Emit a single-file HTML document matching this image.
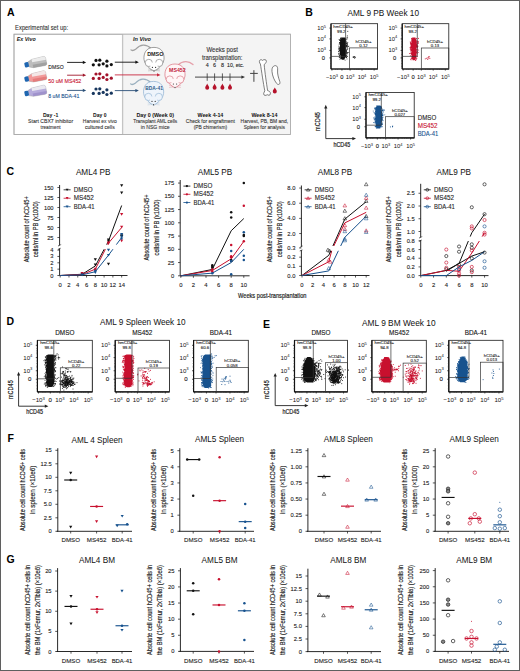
<!DOCTYPE html>
<html><head><meta charset="utf-8"><title>Figure</title>
<style>html,body{margin:0;padding:0;background:#fff;}body{width:520px;height:671px;overflow:hidden;font-family:"Liberation Sans",sans-serif;}svg{display:block;}</style>
</head><body>
<svg width="520" height="671" viewBox="0 0 520 671" font-family="&quot;Liberation Sans&quot;, sans-serif"><text x="7.00" y="15.60" font-size="10.5" fill="#000" font-weight="bold">A</text>
<text x="15.10" y="30.10" font-size="6.3" fill="#333" stroke="#333" stroke-width="0.1" textLength="53" lengthAdjust="spacingAndGlyphs">Experimental set up:</text>
<rect x="14.00" y="34.20" width="276.50" height="100.20" fill="#ffffff" stroke="#b4b4b4" stroke-width="0.8"/>
<rect x="122.60" y="34.20" width="167.90" height="100.20" fill="#f4f4f4" stroke="none" stroke-width="0"/>
<line x1="122.60" y1="34.20" x2="122.60" y2="134.40" stroke="#c4c4c4" stroke-width="1.3"/>
<rect x="14.00" y="34.20" width="276.50" height="100.20" fill="none" stroke="#a8a8a8" stroke-width="0.8"/>
<text x="16.70" y="40.90" font-size="5.8" fill="#222" font-weight="bold" font-style="italic" textLength="19" lengthAdjust="spacingAndGlyphs">Ex Vivo</text>
<text x="133.00" y="40.50" font-size="5.8" fill="#222" font-weight="bold" font-style="italic" textLength="18" lengthAdjust="spacingAndGlyphs">In Vivo</text>
<g transform="translate(24.60,65.20) rotate(-12)"><path d="M4,-2.6 L8,-4.2 L20,-4.6 Q22,-4.6 22,-2.6 L22,2.8 Q22,4.6 20,4.6 L8,4.2 L4,2.6 Z" fill="#bdbdbd" stroke="#9a9a9a" stroke-width="0.4"/><path d="M8,-4.2 L20,-4.6 Q22,-4.6 22,-2.6 L22,-0.8 L8,-1.2 Z" fill="#f4f4f4" opacity="0.85"/><path d="M8,1.2 L22,1.6 L22,2.8 Q22,4.6 20,4.6 L8,4.2 Z" fill="#9a9a9a" opacity="0.8"/><rect x="0" y="-2.6" width="4.2" height="5.2" rx="1.2" fill="#1f66b0"/></g>
<g transform="translate(24.60,79.50) rotate(-12)"><path d="M4,-2.6 L8,-4.2 L20,-4.6 Q22,-4.6 22,-2.6 L22,2.8 Q22,4.6 20,4.6 L8,4.2 L4,2.6 Z" fill="#f29a9a" stroke="#9a9a9a" stroke-width="0.4"/><path d="M8,-4.2 L20,-4.6 Q22,-4.6 22,-2.6 L22,-0.8 L8,-1.2 Z" fill="#f4f4f4" opacity="0.85"/><path d="M8,1.2 L22,1.6 L22,2.8 Q22,4.6 20,4.6 L8,4.2 Z" fill="#e27474" opacity="0.8"/><rect x="0" y="-2.6" width="4.2" height="5.2" rx="1.2" fill="#1f66b0"/></g>
<g transform="translate(24.60,93.90) rotate(-12)"><path d="M4,-2.6 L8,-4.2 L20,-4.6 Q22,-4.6 22,-2.6 L22,2.8 Q22,4.6 20,4.6 L8,4.2 L4,2.6 Z" fill="#b6acdc" stroke="#9a9a9a" stroke-width="0.4"/><path d="M8,-4.2 L20,-4.6 Q22,-4.6 22,-2.6 L22,-0.8 L8,-1.2 Z" fill="#f4f4f4" opacity="0.85"/><path d="M8,1.2 L22,1.6 L22,2.8 Q22,4.6 20,4.6 L8,4.2 Z" fill="#9a8cc8" opacity="0.8"/><rect x="0" y="-2.6" width="4.2" height="5.2" rx="1.2" fill="#1f66b0"/></g>
<text x="48.30" y="69.20" font-size="5.6" fill="#222" stroke="#222" stroke-width="0.1" textLength="15.4" lengthAdjust="spacingAndGlyphs">DMSO</text>
<text x="48.30" y="82.90" font-size="5.6" fill="#c8102e" stroke="#c8102e" stroke-width="0.1" textLength="33" lengthAdjust="spacingAndGlyphs">50 uM MS452</text>
<text x="48.30" y="98.20" font-size="5.6" fill="#17528e" stroke="#17528e" stroke-width="0.1" textLength="31" lengthAdjust="spacingAndGlyphs">8 uM BDA-41</text>
<line x1="67.10" y1="62.40" x2="83.60" y2="62.40" stroke="#111" stroke-width="0.9"/>
<path d="M86.20,62.40 L82.80,60.80 L82.80,64.00 Z" fill="#111"/>
<line x1="67.10" y1="75.20" x2="83.60" y2="75.20" stroke="#a0182c" stroke-width="0.9"/>
<path d="M86.20,75.20 L82.80,73.60 L82.80,76.80 Z" fill="#a0182c"/>
<line x1="67.10" y1="90.40" x2="83.60" y2="90.40" stroke="#2a4f78" stroke-width="0.9"/>
<path d="M86.20,90.40 L82.80,88.80 L82.80,92.00 Z" fill="#2a4f78"/>
<circle cx="96.00" cy="60.40" r="1.6" fill="#111" stroke="none" stroke-width="0.6"/>
<circle cx="99.80" cy="60.20" r="1.6" fill="#111" stroke="none" stroke-width="0.6"/>
<circle cx="106.90" cy="61.20" r="1.6" fill="#111" stroke="none" stroke-width="0.6"/>
<circle cx="93.30" cy="64.80" r="1.6" fill="#111" stroke="none" stroke-width="0.6"/>
<circle cx="99.10" cy="64.80" r="1.6" fill="#111" stroke="none" stroke-width="0.6"/>
<circle cx="103.20" cy="63.80" r="1.6" fill="#111" stroke="none" stroke-width="0.6"/>
<circle cx="106.90" cy="65.90" r="1.6" fill="#111" stroke="none" stroke-width="0.6"/>
<circle cx="111.30" cy="64.60" r="1.6" fill="#111" stroke="none" stroke-width="0.6"/>
<circle cx="96.00" cy="74.00" r="1.6" fill="#a3122a" stroke="none" stroke-width="0.6"/>
<circle cx="99.80" cy="73.80" r="1.6" fill="#a3122a" stroke="none" stroke-width="0.6"/>
<circle cx="106.90" cy="74.80" r="1.6" fill="#a3122a" stroke="none" stroke-width="0.6"/>
<circle cx="93.30" cy="78.40" r="1.6" fill="#a3122a" stroke="none" stroke-width="0.6"/>
<circle cx="99.10" cy="78.40" r="1.6" fill="#a3122a" stroke="none" stroke-width="0.6"/>
<circle cx="103.20" cy="77.40" r="1.6" fill="#a3122a" stroke="none" stroke-width="0.6"/>
<circle cx="106.90" cy="79.50" r="1.6" fill="#a3122a" stroke="none" stroke-width="0.6"/>
<circle cx="111.30" cy="78.20" r="1.6" fill="#a3122a" stroke="none" stroke-width="0.6"/>
<circle cx="96.00" cy="89.00" r="1.6" fill="#17365e" stroke="none" stroke-width="0.6"/>
<circle cx="99.80" cy="88.80" r="1.6" fill="#17365e" stroke="none" stroke-width="0.6"/>
<circle cx="106.90" cy="89.80" r="1.6" fill="#17365e" stroke="none" stroke-width="0.6"/>
<circle cx="93.30" cy="93.40" r="1.6" fill="#17365e" stroke="none" stroke-width="0.6"/>
<circle cx="99.10" cy="93.40" r="1.6" fill="#17365e" stroke="none" stroke-width="0.6"/>
<circle cx="103.20" cy="92.40" r="1.6" fill="#17365e" stroke="none" stroke-width="0.6"/>
<circle cx="106.90" cy="94.50" r="1.6" fill="#17365e" stroke="none" stroke-width="0.6"/>
<circle cx="111.30" cy="93.20" r="1.6" fill="#17365e" stroke="none" stroke-width="0.6"/>
<line x1="114.80" y1="62.20" x2="136.20" y2="62.20" stroke="#111" stroke-width="0.9"/>
<path d="M138.80,62.20 L135.40,60.60 L135.40,63.80 Z" fill="#111"/>
<line x1="114.80" y1="74.90" x2="158.00" y2="74.90" stroke="#c8283e" stroke-width="0.9"/>
<path d="M160.5,74.9 L157,73.3 L157,76.5 Z" fill="#c8283e"/>
<line x1="114.80" y1="90.60" x2="136.20" y2="90.60" stroke="#2a4f78" stroke-width="0.9"/>
<path d="M138.80,90.60 L135.40,89.00 L135.40,92.20 Z" fill="#2a4f78"/>
<path d="M151.00,48.40 C146.00,43.40 140.00,44.40 136.00,48.90 C134.00,50.40 132.00,50.90 131.00,49.90" fill="none" stroke="#a0a0a0" stroke-width="1.3" stroke-linecap="round"/>
<path d="M154.00,47.40 C162.00,47.40 164.50,53.40 164.00,59.40 C163.50,63.40 161.00,66.40 157.00,69.40 L154.00,71.40 L151.00,69.40 C147.00,66.40 144.50,63.40 144.00,59.40 C143.50,53.40 146.00,47.40 154.00,47.40 Z" fill="#ffffff" stroke="#777" stroke-width="0.7"/>
<circle cx="148.80" cy="62.90" r="3.6" fill="#ffffff" stroke="#777" stroke-width="0.6"/>
<circle cx="159.20" cy="62.90" r="3.6" fill="#ffffff" stroke="#777" stroke-width="0.6"/>
<path d="M150.00,62.40 C150.00,67.40 152.00,70.40 154.00,71.40 C156.00,70.40 158.00,67.40 158.00,62.40 Z" fill="#ffffff" stroke="none"/>
<circle cx="152.40" cy="67.40" r="0.6" fill="#333"/><circle cx="155.60" cy="67.40" r="0.6" fill="#333"/>
<circle cx="154.00" cy="70.80" r="0.7" fill="#444"/>
<path d="M153.00,69.90 L148.00,68.90 M153.00,70.40 L148.00,70.90 M155.00,69.90 L160.00,68.90 M155.00,70.40 L160.00,70.90" stroke="#777" stroke-width="0.3" fill="none"/>
<text x="155.30" y="55.70" font-size="5.8" fill="#222" text-anchor="middle" font-weight="bold" textLength="16.3" lengthAdjust="spacingAndGlyphs">DMSO</text>
<path d="M178.00,65.00 C183.00,60.00 189.00,61.00 193.00,64.50" fill="none" stroke="#e5a0aa" stroke-width="1.3" stroke-linecap="round"/>
<path d="M175.00,64.00 C183.00,64.00 185.50,70.00 185.00,76.00 C184.50,80.00 182.00,83.00 178.00,86.00 L175.00,88.00 L172.00,86.00 C168.00,83.00 165.50,80.00 165.00,76.00 C164.50,70.00 167.00,64.00 175.00,64.00 Z" fill="#fff6f7" stroke="#d9707e" stroke-width="0.7"/>
<circle cx="169.80" cy="79.50" r="3.6" fill="#fff6f7" stroke="#d9707e" stroke-width="0.6"/>
<circle cx="180.20" cy="79.50" r="3.6" fill="#fff6f7" stroke="#d9707e" stroke-width="0.6"/>
<path d="M171.00,79.00 C171.00,84.00 173.00,87.00 175.00,88.00 C177.00,87.00 179.00,84.00 179.00,79.00 Z" fill="#fff6f7" stroke="none"/>
<circle cx="173.40" cy="84.00" r="0.6" fill="#333"/><circle cx="176.60" cy="84.00" r="0.6" fill="#333"/>
<circle cx="175.00" cy="87.40" r="0.7" fill="#444"/>
<path d="M174.00,86.50 L169.00,85.50 M174.00,87.00 L169.00,87.50 M176.00,86.50 L181.00,85.50 M176.00,87.00 L181.00,87.50" stroke="#d9707e" stroke-width="0.3" fill="none"/>
<text x="177.40" y="72.30" font-size="5.8" fill="#c0223a" text-anchor="middle" font-weight="bold" textLength="16.6" lengthAdjust="spacingAndGlyphs">MS452</text>
<path d="M150.60,82.40 C145.60,77.40 139.60,78.40 135.60,82.90 C133.60,84.40 131.60,84.90 130.60,83.90" fill="none" stroke="#9ab0bf" stroke-width="1.3" stroke-linecap="round"/>
<path d="M153.60,81.40 C161.60,81.40 164.10,87.40 163.60,93.40 C163.10,97.40 160.60,100.40 156.60,103.40 L153.60,105.40 L150.60,103.40 C146.60,100.40 144.10,97.40 143.60,93.40 C143.10,87.40 145.60,81.40 153.60,81.40 Z" fill="#eef4fb" stroke="#8aaed0" stroke-width="0.7"/>
<circle cx="148.40" cy="96.90" r="3.6" fill="#eef4fb" stroke="#8aaed0" stroke-width="0.6"/>
<circle cx="158.80" cy="96.90" r="3.6" fill="#eef4fb" stroke="#8aaed0" stroke-width="0.6"/>
<path d="M149.60,96.40 C149.60,101.40 151.60,104.40 153.60,105.40 C155.60,104.40 157.60,101.40 157.60,96.40 Z" fill="#eef4fb" stroke="none"/>
<circle cx="152.00" cy="101.40" r="0.6" fill="#333"/><circle cx="155.20" cy="101.40" r="0.6" fill="#333"/>
<circle cx="153.60" cy="104.80" r="0.7" fill="#444"/>
<path d="M152.60,103.90 L147.60,102.90 M152.60,104.40 L147.60,104.90 M154.60,103.90 L159.60,102.90 M154.60,104.40 L159.60,104.90" stroke="#8aaed0" stroke-width="0.3" fill="none"/>
<text x="154.10" y="89.70" font-size="5.8" fill="#2a5a8a" text-anchor="middle" font-weight="bold" textLength="17.5" lengthAdjust="spacingAndGlyphs">BDA-41</text>
<text x="222.20" y="51.70" font-size="6.3" fill="#333" stroke="#333" stroke-width="0.1" text-anchor="middle" textLength="31.5" lengthAdjust="spacingAndGlyphs">Weeks post</text>
<text x="222.20" y="59.60" font-size="6.3" fill="#333" stroke="#333" stroke-width="0.1" text-anchor="middle" textLength="40.5" lengthAdjust="spacingAndGlyphs">transplantation:</text>
<text x="207.20" y="66.90" font-size="5.4" fill="#222" stroke="#222" stroke-width="0.1" text-anchor="middle">4</text>
<text x="214.60" y="66.90" font-size="5.4" fill="#222" stroke="#222" stroke-width="0.1" text-anchor="middle">6</text>
<text x="222.40" y="66.90" font-size="5.4" fill="#222" stroke="#222" stroke-width="0.1" text-anchor="middle">8</text>
<text x="235.50" y="66.90" font-size="5.4" fill="#222" stroke="#222" stroke-width="0.1" text-anchor="middle" textLength="17" lengthAdjust="spacingAndGlyphs">10, etc.</text>
<line x1="195.00" y1="77.10" x2="242.00" y2="77.10" stroke="#333" stroke-width="0.9"/>
<path d="M245,77.1 L241.4,75.4 L241.4,78.8 Z" fill="#333"/>
<line x1="207.20" y1="73.40" x2="207.20" y2="80.80" stroke="#333" stroke-width="0.8"/>
<path d="M207.20,83.60 C207.80,85.20 209.20,86.40 209.20,87.80 A2,2 0 0 1 205.20,87.80 C205.20,86.40 206.60,85.20 207.20,83.60 Z" fill="#b5122b"/>
<line x1="214.60" y1="73.40" x2="214.60" y2="80.80" stroke="#333" stroke-width="0.8"/>
<path d="M214.60,83.60 C215.20,85.20 216.60,86.40 216.60,87.80 A2,2 0 0 1 212.60,87.80 C212.60,86.40 214.00,85.20 214.60,83.60 Z" fill="#b5122b"/>
<line x1="222.40" y1="73.40" x2="222.40" y2="80.80" stroke="#333" stroke-width="0.8"/>
<path d="M222.40,83.60 C223.00,85.20 224.40,86.40 224.40,87.80 A2,2 0 0 1 220.40,87.80 C220.40,86.40 221.80,85.20 222.40,83.60 Z" fill="#b5122b"/>
<line x1="230.00" y1="73.40" x2="230.00" y2="80.80" stroke="#333" stroke-width="0.8"/>
<path d="M230.00,83.60 C230.60,85.20 232.00,86.40 232.00,87.80 A2,2 0 0 1 228.00,87.80 C228.00,86.40 229.40,85.20 230.00,83.60 Z" fill="#b5122b"/>
<line x1="253.90" y1="70.20" x2="253.90" y2="81.80" stroke="#444" stroke-width="1.0"/>
<line x1="250.10" y1="73.40" x2="257.80" y2="73.40" stroke="#444" stroke-width="1.0"/>
<path d="M259.4,61.6 C259.2,59.6 261.6,59.2 262.6,60.4 C263.6,59.2 266.6,59.2 266.4,61.4 C266.2,62.8 264.8,63.8 264.2,64.8 C264.8,72 266.6,84 267.6,90.6 C268.8,91 270.6,91.6 270.4,93.8 C270.2,95.8 268,95.4 267.2,94.6 C266.2,95.8 263.6,95.8 263.6,93.8 C263.8,92.4 264.6,91.6 264.8,90.8 C263.4,84 261.4,70 260.4,64 C259.8,63.4 259.4,62.6 259.4,61.6 Z" fill="#ffffff" stroke="#555" stroke-width="0.75"/>
<path d="M273.6,66.2 C276.2,64.6 278,66.4 277.6,70 C277.2,74 278.6,78 279.8,81.6 C280.6,84.4 278.2,85.4 276.6,83.4 C274.4,80.6 272.4,76 272,71.6 C271.8,69 272.2,67.2 273.6,66.2 Z" fill="#ffffff" stroke="#555" stroke-width="0.75"/>
<path d="M274.8,87.6 C275.4,89 276.8,90 276.8,91.4 A2,2 0 0 1 272.8,91.4 C272.8,90 274.2,89 274.8,87.6 Z" fill="#b5122b"/>
<text x="50.60" y="116.50" font-size="6.0" fill="#111" text-anchor="middle" font-weight="bold" textLength="15.3" lengthAdjust="spacingAndGlyphs">Day -1</text>
<text x="50.60" y="122.80" font-size="5.9" fill="#333" stroke="#333" stroke-width="0.1" text-anchor="middle" textLength="45" lengthAdjust="spacingAndGlyphs">Start CBX7 inhibitor</text>
<text x="50.60" y="128.80" font-size="5.9" fill="#333" stroke="#333" stroke-width="0.1" text-anchor="middle" textLength="20" lengthAdjust="spacingAndGlyphs">treatment</text>
<text x="99.80" y="116.50" font-size="6.0" fill="#111" text-anchor="middle" font-weight="bold" textLength="13.4" lengthAdjust="spacingAndGlyphs">Day 0</text>
<text x="99.80" y="122.80" font-size="5.9" fill="#333" stroke="#333" stroke-width="0.1" text-anchor="middle" textLength="34" lengthAdjust="spacingAndGlyphs">Harvest ex vivo</text>
<text x="99.80" y="128.80" font-size="5.9" fill="#333" stroke="#333" stroke-width="0.1" text-anchor="middle" textLength="29.8" lengthAdjust="spacingAndGlyphs">cultured cells</text>
<text x="155.20" y="116.50" font-size="6.0" fill="#111" text-anchor="middle" font-weight="bold" textLength="37.5" lengthAdjust="spacingAndGlyphs">Day 0 (Week 0)</text>
<text x="155.20" y="122.80" font-size="5.9" fill="#333" stroke="#333" stroke-width="0.1" text-anchor="middle" textLength="43.9" lengthAdjust="spacingAndGlyphs">Transplant AML cells</text>
<text x="155.20" y="128.80" font-size="5.9" fill="#333" stroke="#333" stroke-width="0.1" text-anchor="middle" textLength="28.8" lengthAdjust="spacingAndGlyphs">in NSG mice</text>
<text x="210.40" y="116.50" font-size="6.0" fill="#111" text-anchor="middle" font-weight="bold" textLength="25.8" lengthAdjust="spacingAndGlyphs">Week 4-14</text>
<text x="210.40" y="122.80" font-size="5.9" fill="#333" stroke="#333" stroke-width="0.1" text-anchor="middle" textLength="49.2" lengthAdjust="spacingAndGlyphs">Check for engraftment</text>
<text x="210.40" y="128.80" font-size="5.9" fill="#333" stroke="#333" stroke-width="0.1" text-anchor="middle" textLength="33.4" lengthAdjust="spacingAndGlyphs">(PB chimerism)</text>
<text x="264.40" y="116.50" font-size="6.0" fill="#111" text-anchor="middle" font-weight="bold" textLength="26" lengthAdjust="spacingAndGlyphs">Week 8-14</text>
<text x="264.40" y="122.80" font-size="5.9" fill="#333" stroke="#333" stroke-width="0.1" text-anchor="middle" textLength="47.6" lengthAdjust="spacingAndGlyphs">Harvest, PB, BM and,</text>
<text x="264.40" y="128.80" font-size="5.9" fill="#333" stroke="#333" stroke-width="0.1" text-anchor="middle" textLength="41.2" lengthAdjust="spacingAndGlyphs">Spleen for analysis</text>
<text x="305.20" y="15.60" font-size="10.5" fill="#000" font-weight="bold">B</text>
<text x="347.50" y="15.60" font-size="8.2" fill="#111" textLength="71.5" lengthAdjust="spacingAndGlyphs">AML 9 PB Week 10</text>
<rect x="331.00" y="23.70" width="46.60" height="45.30" fill="#ffffff" stroke="#1a1a1a" stroke-width="0.8"/>
<line x1="331.00" y1="23.70" x2="331.00" y2="69.00" stroke="#111" stroke-width="1.2"/>
<line x1="331.00" y1="69.00" x2="377.60" y2="69.00" stroke="#111" stroke-width="1.2"/>
<line x1="329.40" y1="28.09" x2="331.00" y2="28.09" stroke="#111" stroke-width="0.7"/>
<text x="326.00" y="30.09" font-size="5.8" fill="#111" text-anchor="end">10<tspan font-size="3.94" dy="-2.44">5</tspan></text>
<line x1="329.40" y1="38.88" x2="331.00" y2="38.88" stroke="#111" stroke-width="0.7"/>
<text x="326.00" y="40.88" font-size="5.8" fill="#111" text-anchor="end">10<tspan font-size="3.94" dy="-2.44">4</tspan></text>
<line x1="329.40" y1="50.43" x2="331.00" y2="50.43" stroke="#111" stroke-width="0.7"/>
<text x="326.00" y="52.43" font-size="5.8" fill="#111" text-anchor="end">10<tspan font-size="3.94" dy="-2.44">3</tspan></text>
<line x1="329.40" y1="57.90" x2="331.00" y2="57.90" stroke="#111" stroke-width="0.7"/>
<text x="325.00" y="59.90" font-size="5.8" fill="#111" stroke="#111" stroke-width="0.1" text-anchor="end">0</text>
<line x1="330.00" y1="30.95" x2="331.00" y2="30.95" stroke="#333" stroke-width="0.5"/>
<line x1="330.00" y1="32.76" x2="331.00" y2="32.76" stroke="#333" stroke-width="0.5"/>
<line x1="330.00" y1="34.12" x2="331.00" y2="34.12" stroke="#333" stroke-width="0.5"/>
<line x1="330.00" y1="35.48" x2="331.00" y2="35.48" stroke="#333" stroke-width="0.5"/>
<line x1="330.00" y1="41.82" x2="331.00" y2="41.82" stroke="#333" stroke-width="0.5"/>
<line x1="330.00" y1="44.08" x2="331.00" y2="44.08" stroke="#333" stroke-width="0.5"/>
<line x1="330.00" y1="46.35" x2="331.00" y2="46.35" stroke="#333" stroke-width="0.5"/>
<line x1="330.00" y1="47.26" x2="331.00" y2="47.26" stroke="#333" stroke-width="0.5"/>
<line x1="330.00" y1="54.50" x2="331.00" y2="54.50" stroke="#333" stroke-width="0.5"/>
<line x1="330.00" y1="60.85" x2="331.00" y2="60.85" stroke="#333" stroke-width="0.5"/>
<line x1="330.00" y1="63.56" x2="331.00" y2="63.56" stroke="#333" stroke-width="0.5"/>
<line x1="330.00" y1="66.28" x2="331.00" y2="66.28" stroke="#333" stroke-width="0.5"/>
<line x1="331.93" y1="69.00" x2="331.93" y2="70.60" stroke="#111" stroke-width="0.7"/>
<text x="331.93" y="79.30" font-size="5.8" fill="#111" text-anchor="middle">−10<tspan font-size="3.94" dy="-2.44">3</tspan></text>
<line x1="341.95" y1="69.00" x2="341.95" y2="70.60" stroke="#111" stroke-width="0.7"/>
<text x="341.95" y="79.30" font-size="5.8" fill="#111" stroke="#111" stroke-width="0.1" text-anchor="middle">0</text>
<line x1="350.11" y1="69.00" x2="350.11" y2="70.60" stroke="#111" stroke-width="0.7"/>
<text x="350.11" y="79.30" font-size="5.8" fill="#111" text-anchor="middle">10<tspan font-size="3.94" dy="-2.44">3</tspan></text>
<line x1="361.99" y1="69.00" x2="361.99" y2="70.60" stroke="#111" stroke-width="0.7"/>
<text x="361.99" y="79.30" font-size="5.8" fill="#111" text-anchor="middle">10<tspan font-size="3.94" dy="-2.44">4</tspan></text>
<line x1="374.11" y1="69.00" x2="374.11" y2="70.60" stroke="#111" stroke-width="0.7"/>
<text x="374.11" y="79.30" font-size="5.8" fill="#111" text-anchor="middle">10<tspan font-size="3.94" dy="-2.44">5</tspan></text>
<line x1="335.66" y1="69.00" x2="335.66" y2="70.00" stroke="#333" stroke-width="0.5"/>
<line x1="337.52" y1="69.00" x2="337.52" y2="70.00" stroke="#333" stroke-width="0.5"/>
<line x1="344.98" y1="69.00" x2="344.98" y2="70.00" stroke="#333" stroke-width="0.5"/>
<line x1="347.78" y1="69.00" x2="347.78" y2="70.00" stroke="#333" stroke-width="0.5"/>
<line x1="354.30" y1="69.00" x2="354.30" y2="70.00" stroke="#333" stroke-width="0.5"/>
<line x1="356.63" y1="69.00" x2="356.63" y2="70.00" stroke="#333" stroke-width="0.5"/>
<line x1="358.03" y1="69.00" x2="358.03" y2="70.00" stroke="#333" stroke-width="0.5"/>
<line x1="358.96" y1="69.00" x2="358.96" y2="70.00" stroke="#333" stroke-width="0.5"/>
<line x1="365.95" y1="69.00" x2="365.95" y2="70.00" stroke="#333" stroke-width="0.5"/>
<line x1="368.28" y1="69.00" x2="368.28" y2="70.00" stroke="#333" stroke-width="0.5"/>
<line x1="370.14" y1="69.00" x2="370.14" y2="70.00" stroke="#333" stroke-width="0.5"/>
<line x1="371.54" y1="69.00" x2="371.54" y2="70.00" stroke="#333" stroke-width="0.5"/>
<path d="M341.66,37.50 L341.37,38.51 L340.41,39.53 L339.94,40.54 L340.17,41.55 L339.51,42.57 L339.34,43.58 L339.78,44.60 L340.06,45.61 L339.78,46.62 L339.35,47.64 L339.70,48.65 L339.41,49.66 L339.28,50.68 L339.66,51.69 L339.75,52.70 L339.84,53.72 L339.96,54.73 L340.60,55.75 L340.62,56.76 L340.39,57.77 L340.94,58.79 L341.94,59.80 L344.39,59.80 L344.60,58.79 L345.35,57.77 L346.14,56.76 L346.65,55.75 L346.05,54.73 L346.66,53.72 L346.75,52.70 L346.98,51.69 L346.56,50.68 L346.32,49.66 L346.12,48.65 L346.07,47.64 L346.73,46.62 L347.11,45.61 L346.10,44.60 L346.85,43.58 L346.15,42.57 L346.55,41.55 L346.09,40.54 L346.03,39.53 L345.41,38.51 L344.92,37.50 Z" fill="#111111"/>
<rect x="347.88" y="46.12" width="0.8" height="0.8" fill="#111111"/>
<rect x="339.08" y="42.26" width="0.8" height="0.8" fill="#111111"/>
<rect x="338.36" y="47.98" width="0.8" height="0.8" fill="#111111"/>
<rect x="339.18" y="50.13" width="0.8" height="0.8" fill="#111111"/>
<rect x="339.57" y="54.86" width="0.8" height="0.8" fill="#111111"/>
<rect x="345.03" y="37.84" width="0.8" height="0.8" fill="#111111"/>
<rect x="346.46" y="54.40" width="0.8" height="0.8" fill="#111111"/>
<rect x="340.67" y="37.74" width="0.8" height="0.8" fill="#111111"/>
<rect x="346.30" y="55.27" width="0.8" height="0.8" fill="#111111"/>
<rect x="347.24" y="48.85" width="0.8" height="0.8" fill="#111111"/>
<rect x="338.57" y="46.85" width="0.8" height="0.8" fill="#111111"/>
<rect x="340.69" y="37.51" width="0.8" height="0.8" fill="#111111"/>
<rect x="344.70" y="59.75" width="0.8" height="0.8" fill="#111111"/>
<rect x="340.57" y="38.44" width="0.8" height="0.8" fill="#111111"/>
<rect x="339.45" y="42.26" width="0.8" height="0.8" fill="#111111"/>
<rect x="347.20" y="56.02" width="0.8" height="0.8" fill="#111111"/>
<rect x="346.42" y="39.14" width="0.8" height="0.8" fill="#111111"/>
<rect x="340.42" y="37.85" width="0.8" height="0.8" fill="#111111"/>
<rect x="348.38" y="45.79" width="0.8" height="0.8" fill="#111111"/>
<rect x="346.30" y="56.06" width="0.8" height="0.8" fill="#111111"/>
<rect x="339.71" y="56.82" width="0.8" height="0.8" fill="#111111"/>
<rect x="339.28" y="55.74" width="0.8" height="0.8" fill="#111111"/>
<rect x="338.74" y="53.68" width="0.8" height="0.8" fill="#111111"/>
<rect x="338.27" y="52.82" width="0.8" height="0.8" fill="#111111"/>
<rect x="346.18" y="57.17" width="0.8" height="0.8" fill="#111111"/>
<rect x="339.36" y="39.93" width="0.8" height="0.8" fill="#111111"/>
<rect x="346.20" y="42.82" width="0.8" height="0.8" fill="#111111"/>
<rect x="346.84" y="44.04" width="0.8" height="0.8" fill="#111111"/>
<rect x="339.95" y="58.22" width="0.8" height="0.8" fill="#111111"/>
<rect x="346.27" y="49.97" width="0.8" height="0.8" fill="#111111"/>
<rect x="338.75" y="43.75" width="0.8" height="0.8" fill="#111111"/>
<rect x="339.91" y="39.04" width="0.8" height="0.8" fill="#111111"/>
<rect x="346.72" y="47.44" width="0.8" height="0.8" fill="#111111"/>
<rect x="346.41" y="49.34" width="0.8" height="0.8" fill="#111111"/>
<rect x="339.36" y="39.56" width="0.8" height="0.8" fill="#111111"/>
<rect x="346.95" y="52.15" width="0.8" height="0.8" fill="#111111"/>
<rect x="338.40" y="50.65" width="0.8" height="0.8" fill="#111111"/>
<rect x="346.67" y="53.13" width="0.8" height="0.8" fill="#111111"/>
<rect x="340.29" y="37.97" width="0.8" height="0.8" fill="#111111"/>
<rect x="346.98" y="44.61" width="0.8" height="0.8" fill="#111111"/>
<rect x="338.70" y="39.18" width="0.8" height="0.8" fill="#111111"/>
<rect x="339.25" y="55.19" width="0.8" height="0.8" fill="#111111"/>
<rect x="346.97" y="45.35" width="0.8" height="0.8" fill="#111111"/>
<rect x="346.58" y="58.56" width="0.8" height="0.8" fill="#111111"/>
<rect x="338.78" y="56.76" width="0.8" height="0.8" fill="#111111"/>
<rect x="346.76" y="45.96" width="0.8" height="0.8" fill="#111111"/>
<rect x="338.18" y="51.08" width="0.8" height="0.8" fill="#111111"/>
<rect x="346.07" y="57.12" width="0.8" height="0.8" fill="#111111"/>
<rect x="346.31" y="46.16" width="0.8" height="0.8" fill="#111111"/>
<rect x="347.38" y="47.82" width="0.8" height="0.8" fill="#111111"/>
<rect x="338.50" y="49.07" width="0.8" height="0.8" fill="#111111"/>
<rect x="339.19" y="48.23" width="0.8" height="0.8" fill="#111111"/>
<rect x="339.57" y="58.85" width="0.8" height="0.8" fill="#111111"/>
<rect x="347.08" y="43.21" width="0.8" height="0.8" fill="#111111"/>
<rect x="338.45" y="45.71" width="0.8" height="0.8" fill="#111111"/>
<rect x="338.56" y="54.31" width="0.8" height="0.8" fill="#111111"/>
<rect x="347.97" y="52.22" width="0.8" height="0.8" fill="#111111"/>
<rect x="346.88" y="46.53" width="0.8" height="0.8" fill="#111111"/>
<rect x="347.36" y="41.93" width="0.8" height="0.8" fill="#111111"/>
<rect x="339.29" y="57.13" width="0.8" height="0.8" fill="#111111"/>
<rect x="346.49" y="42.40" width="0.8" height="0.8" fill="#111111"/>
<rect x="338.97" y="48.57" width="0.8" height="0.8" fill="#111111"/>
<rect x="338.69" y="53.36" width="0.8" height="0.8" fill="#111111"/>
<rect x="339.69" y="40.02" width="0.8" height="0.8" fill="#111111"/>
<rect x="346.33" y="43.64" width="0.8" height="0.8" fill="#111111"/>
<rect x="347.11" y="52.49" width="0.8" height="0.8" fill="#111111"/>
<rect x="353.85" y="56.07" width="0.9" height="0.9" fill="#111111"/>
<rect x="353.50" y="56.83" width="0.9" height="0.9" fill="#111111"/>
<rect x="355.11" y="56.77" width="0.9" height="0.9" fill="#111111"/>
<rect x="352.62" y="56.63" width="0.9" height="0.9" fill="#111111"/>
<rect x="354.21" y="57.75" width="0.9" height="0.9" fill="#111111"/>
<rect x="353.28" y="56.58" width="0.9" height="0.9" fill="#111111"/>
<rect x="353.47" y="56.73" width="0.9" height="0.9" fill="#111111"/>
<rect x="347.13" y="37.39" width="0.9" height="0.9" fill="#111111"/>
<rect x="346.32" y="37.59" width="0.9" height="0.9" fill="#111111"/>
<rect x="347.33" y="30.87" width="0.9" height="0.9" fill="#111111"/>
<rect x="346.86" y="35.48" width="0.9" height="0.9" fill="#111111"/>
<line x1="331.00" y1="56.40" x2="345.60" y2="56.40" stroke="#333" stroke-width="0.7"/>
<line x1="345.60" y1="23.70" x2="345.60" y2="56.40" stroke="#333" stroke-width="0.7"/>
<rect x="349.40" y="47.90" width="28.20" height="21.10" fill="none" stroke="#333" stroke-width="0.7"/>
<text x="333.33" y="27.70" font-size="4.3" fill="#222" stroke="#222" stroke-width="0.1">hmCD45+</text>
<text x="341.30" y="32.70" font-size="4.3" fill="#222" stroke="#222" stroke-width="0.1" text-anchor="middle">99.2</text>
<text x="363.50" y="42.70" font-size="4.3" fill="#222" stroke="#222" stroke-width="0.1" text-anchor="middle">hCD45+</text>
<text x="363.50" y="46.90" font-size="4.3" fill="#222" stroke="#222" stroke-width="0.1" text-anchor="middle">0.12</text>
<rect x="402.20" y="23.70" width="46.60" height="45.30" fill="#ffffff" stroke="#1a1a1a" stroke-width="0.8"/>
<line x1="402.20" y1="23.70" x2="402.20" y2="69.00" stroke="#111" stroke-width="1.2"/>
<line x1="402.20" y1="69.00" x2="448.80" y2="69.00" stroke="#111" stroke-width="1.2"/>
<line x1="400.60" y1="28.09" x2="402.20" y2="28.09" stroke="#111" stroke-width="0.7"/>
<text x="397.20" y="30.09" font-size="5.8" fill="#111" text-anchor="end">10<tspan font-size="3.94" dy="-2.44">5</tspan></text>
<line x1="400.60" y1="38.88" x2="402.20" y2="38.88" stroke="#111" stroke-width="0.7"/>
<text x="397.20" y="40.88" font-size="5.8" fill="#111" text-anchor="end">10<tspan font-size="3.94" dy="-2.44">4</tspan></text>
<line x1="400.60" y1="50.43" x2="402.20" y2="50.43" stroke="#111" stroke-width="0.7"/>
<text x="397.20" y="52.43" font-size="5.8" fill="#111" text-anchor="end">10<tspan font-size="3.94" dy="-2.44">3</tspan></text>
<line x1="400.60" y1="57.90" x2="402.20" y2="57.90" stroke="#111" stroke-width="0.7"/>
<text x="396.20" y="59.90" font-size="5.8" fill="#111" stroke="#111" stroke-width="0.1" text-anchor="end">0</text>
<line x1="401.20" y1="30.95" x2="402.20" y2="30.95" stroke="#333" stroke-width="0.5"/>
<line x1="401.20" y1="32.76" x2="402.20" y2="32.76" stroke="#333" stroke-width="0.5"/>
<line x1="401.20" y1="34.12" x2="402.20" y2="34.12" stroke="#333" stroke-width="0.5"/>
<line x1="401.20" y1="35.48" x2="402.20" y2="35.48" stroke="#333" stroke-width="0.5"/>
<line x1="401.20" y1="41.82" x2="402.20" y2="41.82" stroke="#333" stroke-width="0.5"/>
<line x1="401.20" y1="44.08" x2="402.20" y2="44.08" stroke="#333" stroke-width="0.5"/>
<line x1="401.20" y1="46.35" x2="402.20" y2="46.35" stroke="#333" stroke-width="0.5"/>
<line x1="401.20" y1="47.26" x2="402.20" y2="47.26" stroke="#333" stroke-width="0.5"/>
<line x1="401.20" y1="54.50" x2="402.20" y2="54.50" stroke="#333" stroke-width="0.5"/>
<line x1="401.20" y1="60.85" x2="402.20" y2="60.85" stroke="#333" stroke-width="0.5"/>
<line x1="401.20" y1="63.56" x2="402.20" y2="63.56" stroke="#333" stroke-width="0.5"/>
<line x1="401.20" y1="66.28" x2="402.20" y2="66.28" stroke="#333" stroke-width="0.5"/>
<line x1="403.13" y1="69.00" x2="403.13" y2="70.60" stroke="#111" stroke-width="0.7"/>
<text x="403.13" y="79.30" font-size="5.8" fill="#111" text-anchor="middle">−10<tspan font-size="3.94" dy="-2.44">3</tspan></text>
<line x1="413.15" y1="69.00" x2="413.15" y2="70.60" stroke="#111" stroke-width="0.7"/>
<text x="413.15" y="79.30" font-size="5.8" fill="#111" stroke="#111" stroke-width="0.1" text-anchor="middle">0</text>
<line x1="421.31" y1="69.00" x2="421.31" y2="70.60" stroke="#111" stroke-width="0.7"/>
<text x="421.31" y="79.30" font-size="5.8" fill="#111" text-anchor="middle">10<tspan font-size="3.94" dy="-2.44">3</tspan></text>
<line x1="433.19" y1="69.00" x2="433.19" y2="70.60" stroke="#111" stroke-width="0.7"/>
<text x="433.19" y="79.30" font-size="5.8" fill="#111" text-anchor="middle">10<tspan font-size="3.94" dy="-2.44">4</tspan></text>
<line x1="445.31" y1="69.00" x2="445.31" y2="70.60" stroke="#111" stroke-width="0.7"/>
<text x="445.31" y="79.30" font-size="5.8" fill="#111" text-anchor="middle">10<tspan font-size="3.94" dy="-2.44">5</tspan></text>
<line x1="406.86" y1="69.00" x2="406.86" y2="70.00" stroke="#333" stroke-width="0.5"/>
<line x1="408.72" y1="69.00" x2="408.72" y2="70.00" stroke="#333" stroke-width="0.5"/>
<line x1="416.18" y1="69.00" x2="416.18" y2="70.00" stroke="#333" stroke-width="0.5"/>
<line x1="418.98" y1="69.00" x2="418.98" y2="70.00" stroke="#333" stroke-width="0.5"/>
<line x1="425.50" y1="69.00" x2="425.50" y2="70.00" stroke="#333" stroke-width="0.5"/>
<line x1="427.83" y1="69.00" x2="427.83" y2="70.00" stroke="#333" stroke-width="0.5"/>
<line x1="429.23" y1="69.00" x2="429.23" y2="70.00" stroke="#333" stroke-width="0.5"/>
<line x1="430.16" y1="69.00" x2="430.16" y2="70.00" stroke="#333" stroke-width="0.5"/>
<line x1="437.15" y1="69.00" x2="437.15" y2="70.00" stroke="#333" stroke-width="0.5"/>
<line x1="439.48" y1="69.00" x2="439.48" y2="70.00" stroke="#333" stroke-width="0.5"/>
<line x1="441.34" y1="69.00" x2="441.34" y2="70.00" stroke="#333" stroke-width="0.5"/>
<line x1="442.74" y1="69.00" x2="442.74" y2="70.00" stroke="#333" stroke-width="0.5"/>
<path d="M412.72,37.50 L412.30,38.53 L411.22,39.56 L411.31,40.60 L411.55,41.63 L411.28,42.66 L410.77,43.69 L410.70,44.72 L410.62,45.75 L410.65,46.79 L410.90,47.82 L411.37,48.85 L410.68,49.88 L411.09,50.91 L411.54,51.95 L410.76,52.98 L410.87,54.01 L411.44,55.04 L411.64,56.07 L411.29,57.10 L411.70,58.14 L412.35,59.17 L412.64,60.20 L414.54,60.20 L415.51,59.17 L415.92,58.14 L416.58,57.10 L415.90,56.07 L416.18,55.04 L416.50,54.01 L416.72,52.98 L417.29,51.95 L416.35,50.91 L417.26,49.88 L416.27,48.85 L416.70,47.82 L417.01,46.79 L417.15,45.75 L417.25,44.72 L416.66,43.69 L416.79,42.66 L416.60,41.63 L416.71,40.60 L416.11,39.56 L415.45,38.53 L415.52,37.50 Z" fill="#c8102e"/>
<rect x="410.69" y="59.46" width="0.8" height="0.8" fill="#c8102e"/>
<rect x="415.47" y="58.86" width="0.8" height="0.8" fill="#c8102e"/>
<rect x="416.90" y="52.79" width="0.8" height="0.8" fill="#c8102e"/>
<rect x="416.83" y="45.93" width="0.8" height="0.8" fill="#c8102e"/>
<rect x="411.55" y="38.14" width="0.8" height="0.8" fill="#c8102e"/>
<rect x="409.99" y="42.54" width="0.8" height="0.8" fill="#c8102e"/>
<rect x="415.77" y="38.49" width="0.8" height="0.8" fill="#c8102e"/>
<rect x="409.81" y="41.54" width="0.8" height="0.8" fill="#c8102e"/>
<rect x="415.49" y="38.34" width="0.8" height="0.8" fill="#c8102e"/>
<rect x="409.85" y="49.17" width="0.8" height="0.8" fill="#c8102e"/>
<rect x="416.36" y="42.24" width="0.8" height="0.8" fill="#c8102e"/>
<rect x="417.24" y="42.95" width="0.8" height="0.8" fill="#c8102e"/>
<rect x="410.10" y="48.05" width="0.8" height="0.8" fill="#c8102e"/>
<rect x="411.25" y="58.20" width="0.8" height="0.8" fill="#c8102e"/>
<rect x="410.40" y="59.01" width="0.8" height="0.8" fill="#c8102e"/>
<rect x="409.97" y="42.98" width="0.8" height="0.8" fill="#c8102e"/>
<rect x="410.65" y="48.88" width="0.8" height="0.8" fill="#c8102e"/>
<rect x="415.12" y="60.17" width="0.8" height="0.8" fill="#c8102e"/>
<rect x="411.33" y="38.04" width="0.8" height="0.8" fill="#c8102e"/>
<rect x="417.82" y="52.01" width="0.8" height="0.8" fill="#c8102e"/>
<rect x="409.92" y="55.30" width="0.8" height="0.8" fill="#c8102e"/>
<rect x="416.32" y="43.46" width="0.8" height="0.8" fill="#c8102e"/>
<rect x="416.12" y="57.80" width="0.8" height="0.8" fill="#c8102e"/>
<rect x="410.03" y="43.82" width="0.8" height="0.8" fill="#c8102e"/>
<rect x="416.55" y="53.50" width="0.8" height="0.8" fill="#c8102e"/>
<rect x="415.98" y="38.15" width="0.8" height="0.8" fill="#c8102e"/>
<rect x="409.44" y="53.26" width="0.8" height="0.8" fill="#c8102e"/>
<rect x="417.36" y="40.64" width="0.8" height="0.8" fill="#c8102e"/>
<rect x="409.50" y="47.38" width="0.8" height="0.8" fill="#c8102e"/>
<rect x="416.34" y="54.76" width="0.8" height="0.8" fill="#c8102e"/>
<rect x="417.17" y="47.29" width="0.8" height="0.8" fill="#c8102e"/>
<rect x="410.18" y="50.67" width="0.8" height="0.8" fill="#c8102e"/>
<rect x="415.44" y="59.75" width="0.8" height="0.8" fill="#c8102e"/>
<rect x="411.44" y="37.89" width="0.8" height="0.8" fill="#c8102e"/>
<rect x="410.77" y="58.02" width="0.8" height="0.8" fill="#c8102e"/>
<rect x="418.24" y="49.64" width="0.8" height="0.8" fill="#c8102e"/>
<rect x="416.22" y="55.49" width="0.8" height="0.8" fill="#c8102e"/>
<rect x="415.91" y="58.70" width="0.8" height="0.8" fill="#c8102e"/>
<rect x="417.19" y="51.62" width="0.8" height="0.8" fill="#c8102e"/>
<rect x="417.19" y="50.68" width="0.8" height="0.8" fill="#c8102e"/>
<rect x="410.02" y="46.74" width="0.8" height="0.8" fill="#c8102e"/>
<rect x="409.49" y="53.08" width="0.8" height="0.8" fill="#c8102e"/>
<rect x="416.98" y="44.55" width="0.8" height="0.8" fill="#c8102e"/>
<rect x="417.63" y="45.80" width="0.8" height="0.8" fill="#c8102e"/>
<rect x="410.14" y="42.25" width="0.8" height="0.8" fill="#c8102e"/>
<rect x="409.98" y="52.65" width="0.8" height="0.8" fill="#c8102e"/>
<rect x="416.70" y="47.87" width="0.8" height="0.8" fill="#c8102e"/>
<rect x="411.97" y="37.68" width="0.8" height="0.8" fill="#c8102e"/>
<rect x="417.20" y="45.82" width="0.8" height="0.8" fill="#c8102e"/>
<rect x="417.31" y="42.50" width="0.8" height="0.8" fill="#c8102e"/>
<rect x="410.49" y="48.87" width="0.8" height="0.8" fill="#c8102e"/>
<rect x="416.91" y="46.33" width="0.8" height="0.8" fill="#c8102e"/>
<rect x="410.58" y="47.95" width="0.8" height="0.8" fill="#c8102e"/>
<rect x="410.35" y="46.75" width="0.8" height="0.8" fill="#c8102e"/>
<rect x="416.67" y="49.34" width="0.8" height="0.8" fill="#c8102e"/>
<rect x="410.56" y="50.07" width="0.8" height="0.8" fill="#c8102e"/>
<rect x="416.49" y="45.45" width="0.8" height="0.8" fill="#c8102e"/>
<rect x="416.51" y="57.83" width="0.8" height="0.8" fill="#c8102e"/>
<rect x="417.66" y="41.37" width="0.8" height="0.8" fill="#c8102e"/>
<rect x="410.52" y="43.22" width="0.8" height="0.8" fill="#c8102e"/>
<rect x="410.03" y="47.24" width="0.8" height="0.8" fill="#c8102e"/>
<rect x="417.09" y="46.33" width="0.8" height="0.8" fill="#c8102e"/>
<rect x="416.01" y="40.86" width="0.8" height="0.8" fill="#c8102e"/>
<rect x="416.63" y="46.86" width="0.8" height="0.8" fill="#c8102e"/>
<rect x="416.52" y="45.21" width="0.8" height="0.8" fill="#c8102e"/>
<rect x="417.04" y="55.99" width="0.8" height="0.8" fill="#c8102e"/>
<rect x="410.82" y="41.36" width="0.8" height="0.8" fill="#c8102e"/>
<rect x="417.06" y="49.37" width="0.8" height="0.8" fill="#c8102e"/>
<rect x="429.37" y="57.90" width="0.9" height="0.9" fill="#c8102e"/>
<rect x="428.58" y="56.34" width="0.9" height="0.9" fill="#c8102e"/>
<rect x="424.85" y="58.41" width="0.9" height="0.9" fill="#c8102e"/>
<rect x="426.20" y="57.81" width="0.9" height="0.9" fill="#c8102e"/>
<rect x="428.51" y="56.27" width="0.9" height="0.9" fill="#c8102e"/>
<rect x="427.29" y="59.00" width="0.9" height="0.9" fill="#c8102e"/>
<rect x="427.86" y="57.51" width="0.9" height="0.9" fill="#c8102e"/>
<rect x="427.48" y="57.44" width="0.9" height="0.9" fill="#c8102e"/>
<rect x="417.99" y="42.71" width="0.9" height="0.9" fill="#c8102e"/>
<rect x="417.39" y="41.24" width="0.9" height="0.9" fill="#c8102e"/>
<rect x="417.71" y="41.58" width="0.9" height="0.9" fill="#c8102e"/>
<rect x="418.03" y="37.92" width="0.9" height="0.9" fill="#c8102e"/>
<line x1="402.20" y1="56.40" x2="417.30" y2="56.40" stroke="#333" stroke-width="0.7"/>
<line x1="417.30" y1="23.70" x2="417.30" y2="56.40" stroke="#333" stroke-width="0.7"/>
<rect x="421.30" y="48.00" width="27.50" height="21.00" fill="none" stroke="#333" stroke-width="0.7"/>
<text x="404.53" y="27.70" font-size="4.3" fill="#222" stroke="#222" stroke-width="0.1">hmCD45+</text>
<text x="412.75" y="32.70" font-size="4.3" fill="#222" stroke="#222" stroke-width="0.1" text-anchor="middle">98.2</text>
<text x="435.05" y="42.80" font-size="4.3" fill="#222" stroke="#222" stroke-width="0.1" text-anchor="middle">hCD45+</text>
<text x="435.05" y="47.00" font-size="4.3" fill="#222" stroke="#222" stroke-width="0.1" text-anchor="middle">0.13</text>
<rect x="366.00" y="92.40" width="48.20" height="45.50" fill="#ffffff" stroke="#1a1a1a" stroke-width="0.8"/>
<line x1="366.00" y1="92.40" x2="366.00" y2="137.90" stroke="#111" stroke-width="1.2"/>
<line x1="366.00" y1="137.90" x2="414.20" y2="137.90" stroke="#111" stroke-width="1.2"/>
<line x1="364.40" y1="96.81" x2="366.00" y2="96.81" stroke="#111" stroke-width="0.7"/>
<text x="361.00" y="98.81" font-size="5.8" fill="#111" text-anchor="end">10<tspan font-size="3.94" dy="-2.44">5</tspan></text>
<line x1="364.40" y1="107.64" x2="366.00" y2="107.64" stroke="#111" stroke-width="0.7"/>
<text x="361.00" y="109.64" font-size="5.8" fill="#111" text-anchor="end">10<tspan font-size="3.94" dy="-2.44">4</tspan></text>
<line x1="364.40" y1="119.25" x2="366.00" y2="119.25" stroke="#111" stroke-width="0.7"/>
<text x="361.00" y="121.25" font-size="5.8" fill="#111" text-anchor="end">10<tspan font-size="3.94" dy="-2.44">3</tspan></text>
<line x1="364.40" y1="126.75" x2="366.00" y2="126.75" stroke="#111" stroke-width="0.7"/>
<text x="360.00" y="128.75" font-size="5.8" fill="#111" stroke="#111" stroke-width="0.1" text-anchor="end">0</text>
<line x1="365.00" y1="99.68" x2="366.00" y2="99.68" stroke="#333" stroke-width="0.5"/>
<line x1="365.00" y1="101.50" x2="366.00" y2="101.50" stroke="#333" stroke-width="0.5"/>
<line x1="365.00" y1="102.87" x2="366.00" y2="102.87" stroke="#333" stroke-width="0.5"/>
<line x1="365.00" y1="104.23" x2="366.00" y2="104.23" stroke="#333" stroke-width="0.5"/>
<line x1="365.00" y1="110.60" x2="366.00" y2="110.60" stroke="#333" stroke-width="0.5"/>
<line x1="365.00" y1="112.88" x2="366.00" y2="112.88" stroke="#333" stroke-width="0.5"/>
<line x1="365.00" y1="115.15" x2="366.00" y2="115.15" stroke="#333" stroke-width="0.5"/>
<line x1="365.00" y1="116.06" x2="366.00" y2="116.06" stroke="#333" stroke-width="0.5"/>
<line x1="365.00" y1="123.34" x2="366.00" y2="123.34" stroke="#333" stroke-width="0.5"/>
<line x1="365.00" y1="129.71" x2="366.00" y2="129.71" stroke="#333" stroke-width="0.5"/>
<line x1="365.00" y1="132.44" x2="366.00" y2="132.44" stroke="#333" stroke-width="0.5"/>
<line x1="365.00" y1="135.17" x2="366.00" y2="135.17" stroke="#333" stroke-width="0.5"/>
<line x1="366.96" y1="137.90" x2="366.96" y2="139.50" stroke="#111" stroke-width="0.7"/>
<text x="366.96" y="148.20" font-size="5.8" fill="#111" text-anchor="middle">−10<tspan font-size="3.94" dy="-2.44">3</tspan></text>
<line x1="377.33" y1="137.90" x2="377.33" y2="139.50" stroke="#111" stroke-width="0.7"/>
<text x="377.33" y="148.20" font-size="5.8" fill="#111" stroke="#111" stroke-width="0.1" text-anchor="middle">0</text>
<line x1="385.76" y1="137.90" x2="385.76" y2="139.50" stroke="#111" stroke-width="0.7"/>
<text x="385.76" y="148.20" font-size="5.8" fill="#111" text-anchor="middle">10<tspan font-size="3.94" dy="-2.44">3</tspan></text>
<line x1="398.05" y1="137.90" x2="398.05" y2="139.50" stroke="#111" stroke-width="0.7"/>
<text x="398.05" y="148.20" font-size="5.8" fill="#111" text-anchor="middle">10<tspan font-size="3.94" dy="-2.44">4</tspan></text>
<line x1="410.59" y1="137.90" x2="410.59" y2="139.50" stroke="#111" stroke-width="0.7"/>
<text x="410.59" y="148.20" font-size="5.8" fill="#111" text-anchor="middle">10<tspan font-size="3.94" dy="-2.44">5</tspan></text>
<line x1="370.82" y1="137.90" x2="370.82" y2="138.90" stroke="#333" stroke-width="0.5"/>
<line x1="372.75" y1="137.90" x2="372.75" y2="138.90" stroke="#333" stroke-width="0.5"/>
<line x1="380.46" y1="137.90" x2="380.46" y2="138.90" stroke="#333" stroke-width="0.5"/>
<line x1="383.35" y1="137.90" x2="383.35" y2="138.90" stroke="#333" stroke-width="0.5"/>
<line x1="390.10" y1="137.90" x2="390.10" y2="138.90" stroke="#333" stroke-width="0.5"/>
<line x1="392.51" y1="137.90" x2="392.51" y2="138.90" stroke="#333" stroke-width="0.5"/>
<line x1="393.96" y1="137.90" x2="393.96" y2="138.90" stroke="#333" stroke-width="0.5"/>
<line x1="394.92" y1="137.90" x2="394.92" y2="138.90" stroke="#333" stroke-width="0.5"/>
<line x1="402.15" y1="137.90" x2="402.15" y2="138.90" stroke="#333" stroke-width="0.5"/>
<line x1="404.56" y1="137.90" x2="404.56" y2="138.90" stroke="#333" stroke-width="0.5"/>
<line x1="406.49" y1="137.90" x2="406.49" y2="138.90" stroke="#333" stroke-width="0.5"/>
<line x1="407.93" y1="137.90" x2="407.93" y2="138.90" stroke="#333" stroke-width="0.5"/>
<path d="M376.88,105.50 L376.58,106.50 L375.53,107.50 L375.33,108.50 L375.69,109.50 L375.34,110.50 L374.96,111.50 L375.31,112.50 L374.58,113.50 L374.71,114.50 L375.33,115.50 L375.36,116.50 L375.48,117.50 L374.87,118.50 L375.10,119.50 L375.18,120.50 L375.02,121.50 L375.11,122.50 L375.72,123.50 L376.02,124.50 L375.78,125.50 L375.68,126.50 L376.50,127.50 L376.83,128.50 L379.92,128.50 L380.09,127.50 L381.19,126.50 L381.56,125.50 L381.68,124.50 L381.98,123.50 L381.41,122.50 L381.92,121.50 L381.92,120.50 L382.28,119.50 L382.38,118.50 L382.32,117.50 L382.27,116.50 L382.34,115.50 L382.41,114.50 L381.75,113.50 L382.12,112.50 L381.80,111.50 L381.42,110.50 L381.19,109.50 L381.16,108.50 L381.03,107.50 L381.20,106.50 L380.45,105.50 Z" fill="#17528e"/>
<rect x="381.65" y="114.04" width="0.8" height="0.8" fill="#17528e"/>
<rect x="373.97" y="118.78" width="0.8" height="0.8" fill="#17528e"/>
<rect x="373.63" y="118.50" width="0.8" height="0.8" fill="#17528e"/>
<rect x="374.63" y="107.19" width="0.8" height="0.8" fill="#17528e"/>
<rect x="382.01" y="114.46" width="0.8" height="0.8" fill="#17528e"/>
<rect x="372.83" y="110.67" width="0.8" height="0.8" fill="#17528e"/>
<rect x="381.83" y="124.04" width="0.8" height="0.8" fill="#17528e"/>
<rect x="373.76" y="122.36" width="0.8" height="0.8" fill="#17528e"/>
<rect x="381.02" y="125.88" width="0.8" height="0.8" fill="#17528e"/>
<rect x="382.17" y="117.47" width="0.8" height="0.8" fill="#17528e"/>
<rect x="375.27" y="126.23" width="0.8" height="0.8" fill="#17528e"/>
<rect x="381.95" y="110.37" width="0.8" height="0.8" fill="#17528e"/>
<rect x="373.98" y="118.86" width="0.8" height="0.8" fill="#17528e"/>
<rect x="381.69" y="109.69" width="0.8" height="0.8" fill="#17528e"/>
<rect x="374.94" y="109.28" width="0.8" height="0.8" fill="#17528e"/>
<rect x="374.70" y="109.35" width="0.8" height="0.8" fill="#17528e"/>
<rect x="382.66" y="120.30" width="0.8" height="0.8" fill="#17528e"/>
<rect x="375.95" y="127.84" width="0.8" height="0.8" fill="#17528e"/>
<rect x="382.06" y="120.34" width="0.8" height="0.8" fill="#17528e"/>
<rect x="381.11" y="108.29" width="0.8" height="0.8" fill="#17528e"/>
<rect x="381.95" y="126.35" width="0.8" height="0.8" fill="#17528e"/>
<rect x="382.15" y="117.51" width="0.8" height="0.8" fill="#17528e"/>
<rect x="376.07" y="105.63" width="0.8" height="0.8" fill="#17528e"/>
<rect x="382.26" y="110.63" width="0.8" height="0.8" fill="#17528e"/>
<rect x="373.57" y="112.32" width="0.8" height="0.8" fill="#17528e"/>
<rect x="374.66" y="122.48" width="0.8" height="0.8" fill="#17528e"/>
<rect x="381.88" y="115.28" width="0.8" height="0.8" fill="#17528e"/>
<rect x="382.16" y="119.02" width="0.8" height="0.8" fill="#17528e"/>
<rect x="382.09" y="123.28" width="0.8" height="0.8" fill="#17528e"/>
<rect x="382.12" y="115.28" width="0.8" height="0.8" fill="#17528e"/>
<rect x="382.90" y="114.65" width="0.8" height="0.8" fill="#17528e"/>
<rect x="373.94" y="120.53" width="0.8" height="0.8" fill="#17528e"/>
<rect x="382.39" y="109.88" width="0.8" height="0.8" fill="#17528e"/>
<rect x="380.79" y="106.91" width="0.8" height="0.8" fill="#17528e"/>
<rect x="380.29" y="127.39" width="0.8" height="0.8" fill="#17528e"/>
<rect x="381.32" y="124.44" width="0.8" height="0.8" fill="#17528e"/>
<rect x="374.01" y="112.58" width="0.8" height="0.8" fill="#17528e"/>
<rect x="381.50" y="108.45" width="0.8" height="0.8" fill="#17528e"/>
<rect x="382.62" y="116.79" width="0.8" height="0.8" fill="#17528e"/>
<rect x="381.03" y="106.50" width="0.8" height="0.8" fill="#17528e"/>
<rect x="381.32" y="108.48" width="0.8" height="0.8" fill="#17528e"/>
<rect x="374.72" y="126.25" width="0.8" height="0.8" fill="#17528e"/>
<rect x="375.43" y="126.48" width="0.8" height="0.8" fill="#17528e"/>
<rect x="381.13" y="107.12" width="0.8" height="0.8" fill="#17528e"/>
<rect x="381.50" y="123.94" width="0.8" height="0.8" fill="#17528e"/>
<rect x="373.28" y="117.46" width="0.8" height="0.8" fill="#17528e"/>
<rect x="381.50" y="109.99" width="0.8" height="0.8" fill="#17528e"/>
<rect x="375.12" y="108.15" width="0.8" height="0.8" fill="#17528e"/>
<rect x="375.92" y="127.18" width="0.8" height="0.8" fill="#17528e"/>
<rect x="382.46" y="112.39" width="0.8" height="0.8" fill="#17528e"/>
<rect x="382.93" y="111.50" width="0.8" height="0.8" fill="#17528e"/>
<rect x="373.34" y="122.22" width="0.8" height="0.8" fill="#17528e"/>
<rect x="374.63" y="117.55" width="0.8" height="0.8" fill="#17528e"/>
<rect x="381.53" y="124.11" width="0.8" height="0.8" fill="#17528e"/>
<rect x="382.49" y="109.19" width="0.8" height="0.8" fill="#17528e"/>
<rect x="380.70" y="126.62" width="0.8" height="0.8" fill="#17528e"/>
<rect x="374.25" y="108.02" width="0.8" height="0.8" fill="#17528e"/>
<rect x="384.40" y="114.47" width="0.8" height="0.8" fill="#17528e"/>
<rect x="374.96" y="123.55" width="0.8" height="0.8" fill="#17528e"/>
<rect x="374.66" y="117.74" width="0.8" height="0.8" fill="#17528e"/>
<rect x="382.23" y="113.13" width="0.8" height="0.8" fill="#17528e"/>
<rect x="381.86" y="115.07" width="0.8" height="0.8" fill="#17528e"/>
<rect x="382.26" y="114.91" width="0.8" height="0.8" fill="#17528e"/>
<rect x="382.24" y="109.96" width="0.8" height="0.8" fill="#17528e"/>
<rect x="381.65" y="121.92" width="0.8" height="0.8" fill="#17528e"/>
<rect x="374.47" y="116.58" width="0.8" height="0.8" fill="#17528e"/>
<rect x="374.79" y="108.38" width="0.8" height="0.8" fill="#17528e"/>
<rect x="375.37" y="125.86" width="0.8" height="0.8" fill="#17528e"/>
<rect x="381.65" y="118.64" width="0.8" height="0.8" fill="#17528e"/>
<rect x="392.10" y="126.20" width="0.9" height="0.9" fill="#17528e"/>
<rect x="389.96" y="126.46" width="0.9" height="0.9" fill="#17528e"/>
<rect x="392.24" y="125.65" width="0.9" height="0.9" fill="#17528e"/>
<rect x="392.09" y="126.32" width="0.9" height="0.9" fill="#17528e"/>
<rect x="383.62" y="109.47" width="0.9" height="0.9" fill="#17528e"/>
<rect x="383.51" y="109.94" width="0.9" height="0.9" fill="#17528e"/>
<line x1="366.00" y1="125.20" x2="381.30" y2="125.20" stroke="#333" stroke-width="0.7"/>
<line x1="381.30" y1="92.40" x2="381.30" y2="125.20" stroke="#333" stroke-width="0.7"/>
<rect x="385.50" y="116.70" width="28.70" height="21.20" fill="none" stroke="#333" stroke-width="0.7"/>
<text x="368.41" y="96.40" font-size="4.3" fill="#222" stroke="#222" stroke-width="0.1">hmCD45+</text>
<text x="376.65" y="101.40" font-size="4.3" fill="#222" stroke="#222" stroke-width="0.1" text-anchor="middle">99.2</text>
<text x="399.85" y="111.50" font-size="4.3" fill="#222" stroke="#222" stroke-width="0.1" text-anchor="middle">hCD45+</text>
<text x="399.85" y="115.70" font-size="4.3" fill="#222" stroke="#222" stroke-width="0.1" text-anchor="middle">0.027</text>
<line x1="325.80" y1="107.80" x2="325.80" y2="138.60" stroke="#222" stroke-width="0.9"/>
<path d="M325.80,104.80 L324.20,108.40 L327.40,108.40 Z" fill="#222"/>
<line x1="325.80" y1="138.60" x2="353.00" y2="138.60" stroke="#222" stroke-width="0.9"/>
<path d="M356.00,138.60 L352.40,137.00 L352.40,140.20 Z" fill="#222"/>
<text x="320.20" y="121.50" font-size="6.8" fill="#222" stroke="#222" stroke-width="0.2" text-anchor="middle" textLength="18.8" lengthAdjust="spacingAndGlyphs" transform="rotate(-90 320.20 121.50)">mCD45</text>
<text x="333.40" y="147.40" font-size="7.0" fill="#222" stroke="#222" stroke-width="0.2" textLength="16.8" lengthAdjust="spacingAndGlyphs">hCD45</text>
<text x="417.70" y="119.80" font-size="6.4" fill="#222" stroke="#222" stroke-width="0.1" textLength="18.5" lengthAdjust="spacingAndGlyphs">DMSO</text>
<text x="417.70" y="128.00" font-size="6.4" fill="#c8102e" stroke="#c8102e" stroke-width="0.1" textLength="19.9" lengthAdjust="spacingAndGlyphs">MS452</text>
<text x="417.70" y="136.00" font-size="6.4" fill="#17528e" stroke="#17528e" stroke-width="0.1" textLength="20.6" lengthAdjust="spacingAndGlyphs">BDA-41</text>
<text x="6.50" y="324.80" font-size="10.5" fill="#000" font-weight="bold">D</text>
<text x="100.00" y="325.20" font-size="8.2" fill="#111" textLength="85.6" lengthAdjust="spacingAndGlyphs">AML 9 Spleen Week 10</text>
<rect x="37.40" y="340.30" width="54.90" height="51.60" fill="#ffffff" stroke="#1a1a1a" stroke-width="0.8"/>
<line x1="37.40" y1="340.30" x2="37.40" y2="391.90" stroke="#111" stroke-width="1.2"/>
<line x1="37.40" y1="391.90" x2="92.30" y2="391.90" stroke="#111" stroke-width="1.2"/>
<line x1="35.80" y1="345.31" x2="37.40" y2="345.31" stroke="#111" stroke-width="0.7"/>
<text x="32.40" y="347.31" font-size="6.1" fill="#111" text-anchor="end">10<tspan font-size="4.15" dy="-2.56">5</tspan></text>
<line x1="35.80" y1="357.59" x2="37.40" y2="357.59" stroke="#111" stroke-width="0.7"/>
<text x="32.40" y="359.59" font-size="6.1" fill="#111" text-anchor="end">10<tspan font-size="4.15" dy="-2.56">4</tspan></text>
<line x1="35.80" y1="370.74" x2="37.40" y2="370.74" stroke="#111" stroke-width="0.7"/>
<text x="32.40" y="372.74" font-size="6.1" fill="#111" text-anchor="end">10<tspan font-size="4.15" dy="-2.56">3</tspan></text>
<line x1="35.80" y1="379.26" x2="37.40" y2="379.26" stroke="#111" stroke-width="0.7"/>
<text x="31.40" y="381.26" font-size="6.1" fill="#111" stroke="#111" stroke-width="0.1" text-anchor="end">0</text>
<line x1="36.40" y1="348.56" x2="37.40" y2="348.56" stroke="#333" stroke-width="0.5"/>
<line x1="36.40" y1="350.62" x2="37.40" y2="350.62" stroke="#333" stroke-width="0.5"/>
<line x1="36.40" y1="352.17" x2="37.40" y2="352.17" stroke="#333" stroke-width="0.5"/>
<line x1="36.40" y1="353.72" x2="37.40" y2="353.72" stroke="#333" stroke-width="0.5"/>
<line x1="36.40" y1="360.94" x2="37.40" y2="360.94" stroke="#333" stroke-width="0.5"/>
<line x1="36.40" y1="363.52" x2="37.40" y2="363.52" stroke="#333" stroke-width="0.5"/>
<line x1="36.40" y1="366.10" x2="37.40" y2="366.10" stroke="#333" stroke-width="0.5"/>
<line x1="36.40" y1="367.13" x2="37.40" y2="367.13" stroke="#333" stroke-width="0.5"/>
<line x1="36.40" y1="375.39" x2="37.40" y2="375.39" stroke="#333" stroke-width="0.5"/>
<line x1="36.40" y1="382.61" x2="37.40" y2="382.61" stroke="#333" stroke-width="0.5"/>
<line x1="36.40" y1="385.71" x2="37.40" y2="385.71" stroke="#333" stroke-width="0.5"/>
<line x1="36.40" y1="388.80" x2="37.40" y2="388.80" stroke="#333" stroke-width="0.5"/>
<line x1="38.50" y1="391.90" x2="38.50" y2="393.50" stroke="#111" stroke-width="0.7"/>
<text x="38.50" y="402.30" font-size="6.1" fill="#111" text-anchor="middle">−10<tspan font-size="4.15" dy="-2.56">3</tspan></text>
<line x1="50.30" y1="391.90" x2="50.30" y2="393.50" stroke="#111" stroke-width="0.7"/>
<text x="50.30" y="402.30" font-size="6.1" fill="#111" stroke="#111" stroke-width="0.1" text-anchor="middle">0</text>
<line x1="59.91" y1="391.90" x2="59.91" y2="393.50" stroke="#111" stroke-width="0.7"/>
<text x="59.91" y="402.30" font-size="6.1" fill="#111" text-anchor="middle">10<tspan font-size="4.15" dy="-2.56">3</tspan></text>
<line x1="73.91" y1="391.90" x2="73.91" y2="393.50" stroke="#111" stroke-width="0.7"/>
<text x="73.91" y="402.30" font-size="6.1" fill="#111" text-anchor="middle">10<tspan font-size="4.15" dy="-2.56">4</tspan></text>
<line x1="88.18" y1="391.90" x2="88.18" y2="393.50" stroke="#111" stroke-width="0.7"/>
<text x="88.18" y="402.30" font-size="6.1" fill="#111" text-anchor="middle">10<tspan font-size="4.15" dy="-2.56">5</tspan></text>
<line x1="42.89" y1="391.90" x2="42.89" y2="392.90" stroke="#333" stroke-width="0.5"/>
<line x1="45.09" y1="391.90" x2="45.09" y2="392.90" stroke="#333" stroke-width="0.5"/>
<line x1="53.87" y1="391.90" x2="53.87" y2="392.90" stroke="#333" stroke-width="0.5"/>
<line x1="57.16" y1="391.90" x2="57.16" y2="392.90" stroke="#333" stroke-width="0.5"/>
<line x1="64.85" y1="391.90" x2="64.85" y2="392.90" stroke="#333" stroke-width="0.5"/>
<line x1="67.59" y1="391.90" x2="67.59" y2="392.90" stroke="#333" stroke-width="0.5"/>
<line x1="69.24" y1="391.90" x2="69.24" y2="392.90" stroke="#333" stroke-width="0.5"/>
<line x1="70.34" y1="391.90" x2="70.34" y2="392.90" stroke="#333" stroke-width="0.5"/>
<line x1="78.57" y1="391.90" x2="78.57" y2="392.90" stroke="#333" stroke-width="0.5"/>
<line x1="81.32" y1="391.90" x2="81.32" y2="392.90" stroke="#333" stroke-width="0.5"/>
<line x1="83.52" y1="391.90" x2="83.52" y2="392.90" stroke="#333" stroke-width="0.5"/>
<line x1="85.16" y1="391.90" x2="85.16" y2="392.90" stroke="#333" stroke-width="0.5"/>
<path d="M47.85,354.40 L46.80,355.42 L46.10,356.44 L46.45,357.46 L46.17,358.47 L45.71,359.49 L46.23,360.51 L46.41,361.53 L45.90,362.55 L46.58,363.57 L46.46,364.59 L45.70,365.61 L46.11,366.62 L46.51,367.64 L45.79,368.66 L45.75,369.68 L46.04,370.70 L45.94,371.72 L45.79,372.74 L46.39,373.76 L46.31,374.77 L46.47,375.79 L46.27,376.81 L46.11,377.83 L45.69,378.85 L46.32,379.87 L46.40,380.89 L45.93,381.91 L45.96,382.93 L46.55,383.94 L46.22,384.96 L47.57,385.98 L48.58,387.00 L51.58,387.00 L53.48,385.98 L53.25,384.96 L54.11,383.94 L54.22,382.93 L54.21,381.91 L54.80,380.89 L54.05,379.87 L54.36,378.85 L54.65,377.83 L54.70,376.81 L54.85,375.79 L54.11,374.77 L54.15,373.76 L53.94,372.74 L54.44,371.72 L54.53,370.70 L54.95,369.68 L54.84,368.66 L54.35,367.64 L54.08,366.62 L54.33,365.61 L54.65,364.59 L54.80,363.57 L54.04,362.55 L54.26,361.53 L54.09,360.51 L54.43,359.49 L54.30,358.47 L54.61,357.46 L54.83,356.44 L54.33,355.42 L53.09,354.40 Z" fill="#111111"/>
<rect x="44.62" y="373.03" width="0.8" height="0.8" fill="#111111"/>
<rect x="43.46" y="360.29" width="0.8" height="0.8" fill="#111111"/>
<rect x="45.25" y="374.82" width="0.8" height="0.8" fill="#111111"/>
<rect x="54.85" y="362.41" width="0.8" height="0.8" fill="#111111"/>
<rect x="45.31" y="356.54" width="0.8" height="0.8" fill="#111111"/>
<rect x="55.61" y="359.61" width="0.8" height="0.8" fill="#111111"/>
<rect x="43.82" y="376.43" width="0.8" height="0.8" fill="#111111"/>
<rect x="54.98" y="384.32" width="0.8" height="0.8" fill="#111111"/>
<rect x="45.12" y="385.74" width="0.8" height="0.8" fill="#111111"/>
<rect x="55.07" y="370.90" width="0.8" height="0.8" fill="#111111"/>
<rect x="46.19" y="384.92" width="0.8" height="0.8" fill="#111111"/>
<rect x="55.13" y="380.65" width="0.8" height="0.8" fill="#111111"/>
<rect x="54.50" y="356.27" width="0.8" height="0.8" fill="#111111"/>
<rect x="55.68" y="355.53" width="0.8" height="0.8" fill="#111111"/>
<rect x="45.01" y="359.96" width="0.8" height="0.8" fill="#111111"/>
<rect x="47.19" y="386.46" width="0.8" height="0.8" fill="#111111"/>
<rect x="54.88" y="356.01" width="0.8" height="0.8" fill="#111111"/>
<rect x="54.86" y="355.32" width="0.8" height="0.8" fill="#111111"/>
<rect x="45.25" y="383.72" width="0.8" height="0.8" fill="#111111"/>
<rect x="54.42" y="374.00" width="0.8" height="0.8" fill="#111111"/>
<rect x="54.91" y="370.19" width="0.8" height="0.8" fill="#111111"/>
<rect x="45.09" y="371.82" width="0.8" height="0.8" fill="#111111"/>
<rect x="54.34" y="358.94" width="0.8" height="0.8" fill="#111111"/>
<rect x="45.66" y="385.50" width="0.8" height="0.8" fill="#111111"/>
<rect x="45.42" y="363.02" width="0.8" height="0.8" fill="#111111"/>
<rect x="54.75" y="362.78" width="0.8" height="0.8" fill="#111111"/>
<rect x="54.18" y="378.90" width="0.8" height="0.8" fill="#111111"/>
<rect x="45.31" y="357.49" width="0.8" height="0.8" fill="#111111"/>
<rect x="44.76" y="360.49" width="0.8" height="0.8" fill="#111111"/>
<rect x="44.38" y="382.68" width="0.8" height="0.8" fill="#111111"/>
<rect x="54.96" y="358.52" width="0.8" height="0.8" fill="#111111"/>
<rect x="54.14" y="383.35" width="0.8" height="0.8" fill="#111111"/>
<rect x="45.37" y="360.32" width="0.8" height="0.8" fill="#111111"/>
<rect x="45.19" y="374.09" width="0.8" height="0.8" fill="#111111"/>
<rect x="44.62" y="380.18" width="0.8" height="0.8" fill="#111111"/>
<rect x="45.66" y="367.37" width="0.8" height="0.8" fill="#111111"/>
<rect x="45.37" y="382.25" width="0.8" height="0.8" fill="#111111"/>
<rect x="56.30" y="378.71" width="0.8" height="0.8" fill="#111111"/>
<rect x="45.00" y="367.08" width="0.8" height="0.8" fill="#111111"/>
<rect x="55.77" y="381.05" width="0.8" height="0.8" fill="#111111"/>
<rect x="54.11" y="385.31" width="0.8" height="0.8" fill="#111111"/>
<rect x="53.31" y="385.93" width="0.8" height="0.8" fill="#111111"/>
<rect x="55.21" y="363.91" width="0.8" height="0.8" fill="#111111"/>
<rect x="44.87" y="356.48" width="0.8" height="0.8" fill="#111111"/>
<rect x="52.67" y="386.25" width="0.8" height="0.8" fill="#111111"/>
<rect x="54.81" y="357.91" width="0.8" height="0.8" fill="#111111"/>
<rect x="44.51" y="375.65" width="0.8" height="0.8" fill="#111111"/>
<rect x="55.23" y="370.86" width="0.8" height="0.8" fill="#111111"/>
<rect x="45.37" y="376.56" width="0.8" height="0.8" fill="#111111"/>
<rect x="54.93" y="382.95" width="0.8" height="0.8" fill="#111111"/>
<rect x="44.83" y="361.75" width="0.8" height="0.8" fill="#111111"/>
<rect x="45.44" y="363.38" width="0.8" height="0.8" fill="#111111"/>
<rect x="54.63" y="377.99" width="0.8" height="0.8" fill="#111111"/>
<rect x="54.30" y="365.08" width="0.8" height="0.8" fill="#111111"/>
<rect x="45.29" y="375.00" width="0.8" height="0.8" fill="#111111"/>
<rect x="54.26" y="360.03" width="0.8" height="0.8" fill="#111111"/>
<rect x="55.21" y="377.78" width="0.8" height="0.8" fill="#111111"/>
<rect x="55.14" y="362.40" width="0.8" height="0.8" fill="#111111"/>
<rect x="55.37" y="366.98" width="0.8" height="0.8" fill="#111111"/>
<rect x="44.65" y="359.68" width="0.8" height="0.8" fill="#111111"/>
<rect x="45.33" y="364.56" width="0.8" height="0.8" fill="#111111"/>
<rect x="45.46" y="356.99" width="0.8" height="0.8" fill="#111111"/>
<rect x="55.08" y="374.61" width="0.8" height="0.8" fill="#111111"/>
<rect x="46.78" y="386.70" width="0.8" height="0.8" fill="#111111"/>
<rect x="45.42" y="377.35" width="0.8" height="0.8" fill="#111111"/>
<rect x="44.95" y="362.90" width="0.8" height="0.8" fill="#111111"/>
<rect x="45.67" y="364.90" width="0.8" height="0.8" fill="#111111"/>
<rect x="43.86" y="383.73" width="0.8" height="0.8" fill="#111111"/>
<rect x="45.20" y="362.17" width="0.8" height="0.8" fill="#111111"/>
<rect x="44.98" y="385.07" width="0.8" height="0.8" fill="#111111"/>
<rect x="55.39" y="367.49" width="0.8" height="0.8" fill="#111111"/>
<rect x="45.32" y="376.17" width="0.8" height="0.8" fill="#111111"/>
<rect x="54.81" y="357.63" width="0.8" height="0.8" fill="#111111"/>
<rect x="54.07" y="380.82" width="0.8" height="0.8" fill="#111111"/>
<rect x="53.66" y="355.02" width="0.8" height="0.8" fill="#111111"/>
<rect x="54.01" y="377.23" width="0.8" height="0.8" fill="#111111"/>
<rect x="47.35" y="386.70" width="0.8" height="0.8" fill="#111111"/>
<rect x="54.35" y="360.60" width="0.8" height="0.8" fill="#111111"/>
<rect x="54.28" y="383.56" width="0.8" height="0.8" fill="#111111"/>
<rect x="54.41" y="371.66" width="0.8" height="0.8" fill="#111111"/>
<rect x="44.11" y="364.46" width="0.8" height="0.8" fill="#111111"/>
<rect x="44.82" y="361.74" width="0.8" height="0.8" fill="#111111"/>
<rect x="55.13" y="383.20" width="0.8" height="0.8" fill="#111111"/>
<rect x="45.57" y="368.61" width="0.8" height="0.8" fill="#111111"/>
<rect x="44.66" y="359.36" width="0.8" height="0.8" fill="#111111"/>
<rect x="54.10" y="369.76" width="0.8" height="0.8" fill="#111111"/>
<rect x="54.60" y="359.38" width="0.8" height="0.8" fill="#111111"/>
<rect x="44.99" y="383.42" width="0.8" height="0.8" fill="#111111"/>
<rect x="45.49" y="376.18" width="0.8" height="0.8" fill="#111111"/>
<rect x="45.34" y="366.14" width="0.8" height="0.8" fill="#111111"/>
<rect x="55.11" y="356.32" width="0.8" height="0.8" fill="#111111"/>
<rect x="54.42" y="359.56" width="0.8" height="0.8" fill="#111111"/>
<rect x="45.31" y="361.99" width="0.8" height="0.8" fill="#111111"/>
<rect x="45.11" y="376.92" width="0.8" height="0.8" fill="#111111"/>
<rect x="54.48" y="356.95" width="0.8" height="0.8" fill="#111111"/>
<rect x="45.08" y="378.12" width="0.8" height="0.8" fill="#111111"/>
<rect x="46.03" y="355.09" width="0.8" height="0.8" fill="#111111"/>
<rect x="68.52" y="377.98" width="0.9" height="0.9" fill="#111111"/>
<rect x="62.57" y="378.38" width="0.9" height="0.9" fill="#111111"/>
<rect x="65.84" y="380.96" width="0.9" height="0.9" fill="#111111"/>
<rect x="67.36" y="371.52" width="0.9" height="0.9" fill="#111111"/>
<rect x="61.51" y="373.37" width="0.9" height="0.9" fill="#111111"/>
<rect x="64.44" y="373.93" width="0.9" height="0.9" fill="#111111"/>
<rect x="67.80" y="368.68" width="0.9" height="0.9" fill="#111111"/>
<rect x="66.75" y="368.77" width="0.9" height="0.9" fill="#111111"/>
<rect x="71.40" y="376.53" width="0.9" height="0.9" fill="#111111"/>
<rect x="68.00" y="379.03" width="0.9" height="0.9" fill="#111111"/>
<rect x="66.05" y="374.97" width="0.9" height="0.9" fill="#111111"/>
<rect x="63.22" y="379.89" width="0.9" height="0.9" fill="#111111"/>
<rect x="64.82" y="372.43" width="0.9" height="0.9" fill="#111111"/>
<rect x="66.85" y="371.57" width="0.9" height="0.9" fill="#111111"/>
<rect x="65.23" y="368.18" width="0.9" height="0.9" fill="#111111"/>
<rect x="67.40" y="383.85" width="0.9" height="0.9" fill="#111111"/>
<rect x="63.30" y="375.36" width="0.9" height="0.9" fill="#111111"/>
<rect x="70.36" y="371.25" width="0.9" height="0.9" fill="#111111"/>
<rect x="69.81" y="378.66" width="0.9" height="0.9" fill="#111111"/>
<rect x="62.01" y="384.25" width="0.9" height="0.9" fill="#111111"/>
<rect x="65.21" y="381.76" width="0.9" height="0.9" fill="#111111"/>
<rect x="63.80" y="381.86" width="0.9" height="0.9" fill="#111111"/>
<rect x="64.92" y="374.85" width="0.9" height="0.9" fill="#111111"/>
<rect x="63.01" y="371.04" width="0.9" height="0.9" fill="#111111"/>
<rect x="64.80" y="378.51" width="0.9" height="0.9" fill="#111111"/>
<rect x="65.34" y="378.28" width="0.9" height="0.9" fill="#111111"/>
<rect x="70.00" y="371.45" width="0.9" height="0.9" fill="#111111"/>
<rect x="62.87" y="372.27" width="0.9" height="0.9" fill="#111111"/>
<rect x="65.58" y="375.63" width="0.9" height="0.9" fill="#111111"/>
<rect x="67.73" y="376.39" width="0.9" height="0.9" fill="#111111"/>
<rect x="63.24" y="373.80" width="0.9" height="0.9" fill="#111111"/>
<rect x="65.65" y="376.80" width="0.9" height="0.9" fill="#111111"/>
<rect x="63.60" y="375.93" width="0.9" height="0.9" fill="#111111"/>
<rect x="62.34" y="371.69" width="0.9" height="0.9" fill="#111111"/>
<rect x="66.62" y="376.89" width="0.9" height="0.9" fill="#111111"/>
<rect x="67.44" y="376.27" width="0.9" height="0.9" fill="#111111"/>
<rect x="67.17" y="382.13" width="0.9" height="0.9" fill="#111111"/>
<rect x="66.78" y="377.36" width="0.9" height="0.9" fill="#111111"/>
<rect x="63.26" y="377.30" width="0.9" height="0.9" fill="#111111"/>
<rect x="62.04" y="366.55" width="0.9" height="0.9" fill="#111111"/>
<rect x="66.14" y="368.25" width="0.9" height="0.9" fill="#111111"/>
<rect x="63.48" y="374.54" width="0.9" height="0.9" fill="#111111"/>
<rect x="64.75" y="376.94" width="0.9" height="0.9" fill="#111111"/>
<rect x="64.54" y="373.03" width="0.9" height="0.9" fill="#111111"/>
<rect x="68.41" y="370.77" width="0.9" height="0.9" fill="#111111"/>
<rect x="64.00" y="374.68" width="0.9" height="0.9" fill="#111111"/>
<rect x="64.15" y="374.92" width="0.9" height="0.9" fill="#111111"/>
<rect x="67.19" y="371.19" width="0.9" height="0.9" fill="#111111"/>
<rect x="60.63" y="372.90" width="0.9" height="0.9" fill="#111111"/>
<rect x="65.98" y="379.45" width="0.9" height="0.9" fill="#111111"/>
<rect x="62.52" y="370.92" width="0.9" height="0.9" fill="#111111"/>
<rect x="71.56" y="374.92" width="0.9" height="0.9" fill="#111111"/>
<rect x="62.78" y="379.80" width="0.9" height="0.9" fill="#111111"/>
<rect x="69.88" y="376.81" width="0.9" height="0.9" fill="#111111"/>
<rect x="64.83" y="370.51" width="0.9" height="0.9" fill="#111111"/>
<rect x="62.02" y="372.76" width="0.9" height="0.9" fill="#111111"/>
<rect x="65.33" y="375.65" width="0.9" height="0.9" fill="#111111"/>
<rect x="61.33" y="383.84" width="0.9" height="0.9" fill="#111111"/>
<rect x="67.05" y="379.50" width="0.9" height="0.9" fill="#111111"/>
<rect x="63.42" y="383.07" width="0.9" height="0.9" fill="#111111"/>
<rect x="67.38" y="381.57" width="0.9" height="0.9" fill="#111111"/>
<rect x="69.59" y="382.42" width="0.9" height="0.9" fill="#111111"/>
<rect x="65.93" y="382.14" width="0.9" height="0.9" fill="#111111"/>
<rect x="62.39" y="373.30" width="0.9" height="0.9" fill="#111111"/>
<rect x="66.21" y="382.45" width="0.9" height="0.9" fill="#111111"/>
<rect x="72.28" y="378.78" width="0.9" height="0.9" fill="#111111"/>
<rect x="67.32" y="379.36" width="0.9" height="0.9" fill="#111111"/>
<rect x="65.91" y="388.33" width="0.9" height="0.9" fill="#111111"/>
<rect x="68.11" y="383.65" width="0.9" height="0.9" fill="#111111"/>
<rect x="69.69" y="378.48" width="0.9" height="0.9" fill="#111111"/>
<rect x="68.70" y="381.33" width="0.9" height="0.9" fill="#111111"/>
<rect x="62.57" y="380.25" width="0.9" height="0.9" fill="#111111"/>
<rect x="67.92" y="385.33" width="0.9" height="0.9" fill="#111111"/>
<rect x="61.19" y="384.49" width="0.9" height="0.9" fill="#111111"/>
<rect x="62.12" y="385.53" width="0.9" height="0.9" fill="#111111"/>
<rect x="63.74" y="381.15" width="0.9" height="0.9" fill="#111111"/>
<rect x="68.63" y="384.06" width="0.9" height="0.9" fill="#111111"/>
<rect x="67.23" y="381.22" width="0.9" height="0.9" fill="#111111"/>
<rect x="64.32" y="384.80" width="0.9" height="0.9" fill="#111111"/>
<rect x="66.17" y="382.11" width="0.9" height="0.9" fill="#111111"/>
<rect x="67.47" y="382.82" width="0.9" height="0.9" fill="#111111"/>
<rect x="68.64" y="380.51" width="0.9" height="0.9" fill="#111111"/>
<rect x="66.36" y="379.73" width="0.9" height="0.9" fill="#111111"/>
<rect x="63.25" y="382.96" width="0.9" height="0.9" fill="#111111"/>
<rect x="68.22" y="381.46" width="0.9" height="0.9" fill="#111111"/>
<rect x="64.79" y="386.50" width="0.9" height="0.9" fill="#111111"/>
<rect x="67.67" y="382.64" width="0.9" height="0.9" fill="#111111"/>
<rect x="71.33" y="382.09" width="0.9" height="0.9" fill="#111111"/>
<rect x="70.61" y="383.43" width="0.9" height="0.9" fill="#111111"/>
<rect x="59.42" y="380.49" width="0.9" height="0.9" fill="#111111"/>
<rect x="61.10" y="376.68" width="0.9" height="0.9" fill="#111111"/>
<rect x="72.08" y="383.38" width="0.9" height="0.9" fill="#111111"/>
<rect x="62.14" y="384.02" width="0.9" height="0.9" fill="#111111"/>
<rect x="64.65" y="381.29" width="0.9" height="0.9" fill="#111111"/>
<rect x="66.51" y="378.12" width="0.9" height="0.9" fill="#111111"/>
<rect x="70.49" y="381.28" width="0.9" height="0.9" fill="#111111"/>
<rect x="67.11" y="379.13" width="0.9" height="0.9" fill="#111111"/>
<rect x="62.43" y="381.87" width="0.9" height="0.9" fill="#111111"/>
<rect x="70.84" y="381.64" width="0.9" height="0.9" fill="#111111"/>
<rect x="73.33" y="381.39" width="0.9" height="0.9" fill="#111111"/>
<rect x="70.18" y="379.97" width="0.9" height="0.9" fill="#111111"/>
<rect x="67.15" y="383.87" width="0.9" height="0.9" fill="#111111"/>
<rect x="65.58" y="384.58" width="0.9" height="0.9" fill="#111111"/>
<rect x="69.99" y="377.20" width="0.9" height="0.9" fill="#111111"/>
<rect x="67.52" y="384.69" width="0.9" height="0.9" fill="#111111"/>
<rect x="71.14" y="381.02" width="0.9" height="0.9" fill="#111111"/>
<rect x="70.13" y="381.52" width="0.9" height="0.9" fill="#111111"/>
<rect x="72.07" y="382.69" width="0.9" height="0.9" fill="#111111"/>
<rect x="66.40" y="381.87" width="0.9" height="0.9" fill="#111111"/>
<rect x="60.63" y="380.77" width="0.9" height="0.9" fill="#111111"/>
<rect x="66.87" y="383.80" width="0.9" height="0.9" fill="#111111"/>
<rect x="66.59" y="385.11" width="0.9" height="0.9" fill="#111111"/>
<rect x="63.34" y="385.49" width="0.9" height="0.9" fill="#111111"/>
<rect x="68.38" y="379.84" width="0.9" height="0.9" fill="#111111"/>
<rect x="64.72" y="382.06" width="0.9" height="0.9" fill="#111111"/>
<rect x="66.34" y="380.45" width="0.9" height="0.9" fill="#111111"/>
<rect x="66.96" y="382.32" width="0.9" height="0.9" fill="#111111"/>
<rect x="69.00" y="382.41" width="0.9" height="0.9" fill="#111111"/>
<rect x="66.87" y="382.75" width="0.9" height="0.9" fill="#111111"/>
<rect x="60.45" y="383.92" width="0.9" height="0.9" fill="#111111"/>
<rect x="66.42" y="378.93" width="0.9" height="0.9" fill="#111111"/>
<rect x="72.20" y="383.49" width="0.9" height="0.9" fill="#111111"/>
<rect x="71.91" y="383.33" width="0.9" height="0.9" fill="#111111"/>
<rect x="65.72" y="381.02" width="0.9" height="0.9" fill="#111111"/>
<rect x="68.39" y="378.21" width="0.9" height="0.9" fill="#111111"/>
<rect x="72.42" y="380.76" width="0.9" height="0.9" fill="#111111"/>
<rect x="64.71" y="382.00" width="0.9" height="0.9" fill="#111111"/>
<rect x="61.75" y="381.90" width="0.9" height="0.9" fill="#111111"/>
<rect x="65.63" y="385.87" width="0.9" height="0.9" fill="#111111"/>
<rect x="68.94" y="380.89" width="0.9" height="0.9" fill="#111111"/>
<rect x="71.11" y="383.96" width="0.9" height="0.9" fill="#111111"/>
<rect x="61.64" y="381.89" width="0.9" height="0.9" fill="#111111"/>
<rect x="66.21" y="376.89" width="0.9" height="0.9" fill="#111111"/>
<rect x="63.44" y="383.78" width="0.9" height="0.9" fill="#111111"/>
<rect x="76.53" y="382.20" width="0.9" height="0.9" fill="#111111"/>
<rect x="64.55" y="382.42" width="0.9" height="0.9" fill="#111111"/>
<rect x="67.52" y="382.63" width="0.9" height="0.9" fill="#111111"/>
<rect x="70.20" y="383.39" width="0.9" height="0.9" fill="#111111"/>
<rect x="71.58" y="381.10" width="0.9" height="0.9" fill="#111111"/>
<rect x="64.98" y="384.80" width="0.9" height="0.9" fill="#111111"/>
<rect x="73.35" y="377.63" width="0.9" height="0.9" fill="#111111"/>
<rect x="72.32" y="382.39" width="0.9" height="0.9" fill="#111111"/>
<rect x="62.92" y="385.92" width="0.9" height="0.9" fill="#111111"/>
<rect x="68.61" y="382.04" width="0.9" height="0.9" fill="#111111"/>
<rect x="64.95" y="384.26" width="0.9" height="0.9" fill="#111111"/>
<rect x="69.47" y="384.07" width="0.9" height="0.9" fill="#111111"/>
<rect x="68.37" y="383.53" width="0.9" height="0.9" fill="#111111"/>
<rect x="71.03" y="378.97" width="0.9" height="0.9" fill="#111111"/>
<rect x="61.35" y="380.86" width="0.9" height="0.9" fill="#111111"/>
<rect x="72.61" y="385.15" width="0.9" height="0.9" fill="#111111"/>
<rect x="65.69" y="381.95" width="0.9" height="0.9" fill="#111111"/>
<rect x="67.35" y="378.12" width="0.9" height="0.9" fill="#111111"/>
<rect x="70.25" y="384.09" width="0.9" height="0.9" fill="#111111"/>
<rect x="64.36" y="386.49" width="0.9" height="0.9" fill="#111111"/>
<rect x="63.15" y="381.77" width="0.9" height="0.9" fill="#111111"/>
<rect x="70.14" y="378.29" width="0.9" height="0.9" fill="#111111"/>
<rect x="66.08" y="380.80" width="0.9" height="0.9" fill="#111111"/>
<rect x="65.32" y="382.60" width="0.9" height="0.9" fill="#111111"/>
<rect x="68.26" y="382.43" width="0.9" height="0.9" fill="#111111"/>
<rect x="65.06" y="382.76" width="0.9" height="0.9" fill="#111111"/>
<rect x="66.80" y="382.97" width="0.9" height="0.9" fill="#111111"/>
<rect x="61.93" y="381.24" width="0.9" height="0.9" fill="#111111"/>
<rect x="66.97" y="384.27" width="0.9" height="0.9" fill="#111111"/>
<rect x="67.55" y="381.23" width="0.9" height="0.9" fill="#111111"/>
<rect x="64.75" y="383.59" width="0.9" height="0.9" fill="#111111"/>
<rect x="69.16" y="381.27" width="0.9" height="0.9" fill="#111111"/>
<rect x="62.45" y="382.51" width="0.9" height="0.9" fill="#111111"/>
<rect x="68.99" y="381.70" width="0.9" height="0.9" fill="#111111"/>
<rect x="63.52" y="380.07" width="0.9" height="0.9" fill="#111111"/>
<rect x="71.86" y="378.55" width="0.9" height="0.9" fill="#111111"/>
<rect x="71.03" y="380.29" width="0.9" height="0.9" fill="#111111"/>
<rect x="74.47" y="384.12" width="0.9" height="0.9" fill="#111111"/>
<rect x="67.73" y="382.67" width="0.9" height="0.9" fill="#111111"/>
<rect x="73.25" y="382.21" width="0.9" height="0.9" fill="#111111"/>
<rect x="64.81" y="385.47" width="0.9" height="0.9" fill="#111111"/>
<rect x="65.72" y="384.35" width="0.9" height="0.9" fill="#111111"/>
<rect x="64.76" y="380.56" width="0.9" height="0.9" fill="#111111"/>
<rect x="59.31" y="383.68" width="0.9" height="0.9" fill="#111111"/>
<rect x="71.95" y="381.23" width="0.9" height="0.9" fill="#111111"/>
<rect x="67.41" y="379.80" width="0.9" height="0.9" fill="#111111"/>
<rect x="69.68" y="384.70" width="0.9" height="0.9" fill="#111111"/>
<rect x="64.49" y="386.99" width="0.9" height="0.9" fill="#111111"/>
<rect x="62.54" y="384.33" width="0.9" height="0.9" fill="#111111"/>
<rect x="60.20" y="381.74" width="0.9" height="0.9" fill="#111111"/>
<rect x="66.70" y="382.80" width="0.9" height="0.9" fill="#111111"/>
<rect x="56.95" y="377.88" width="0.9" height="0.9" fill="#111111"/>
<rect x="66.28" y="387.44" width="0.9" height="0.9" fill="#111111"/>
<rect x="67.09" y="387.26" width="0.9" height="0.9" fill="#111111"/>
<rect x="59.81" y="383.09" width="0.9" height="0.9" fill="#111111"/>
<rect x="66.63" y="375.77" width="0.9" height="0.9" fill="#111111"/>
<rect x="72.36" y="384.99" width="0.9" height="0.9" fill="#111111"/>
<rect x="62.47" y="379.96" width="0.9" height="0.9" fill="#111111"/>
<rect x="67.19" y="378.60" width="0.9" height="0.9" fill="#111111"/>
<rect x="65.05" y="384.17" width="0.9" height="0.9" fill="#111111"/>
<rect x="66.50" y="383.29" width="0.9" height="0.9" fill="#111111"/>
<rect x="66.17" y="385.30" width="0.9" height="0.9" fill="#111111"/>
<rect x="64.57" y="377.84" width="0.9" height="0.9" fill="#111111"/>
<rect x="64.92" y="378.65" width="0.9" height="0.9" fill="#111111"/>
<rect x="70.52" y="379.90" width="0.9" height="0.9" fill="#111111"/>
<rect x="70.00" y="385.16" width="0.9" height="0.9" fill="#111111"/>
<rect x="64.43" y="384.21" width="0.9" height="0.9" fill="#111111"/>
<rect x="64.57" y="378.92" width="0.9" height="0.9" fill="#111111"/>
<rect x="67.70" y="382.17" width="0.9" height="0.9" fill="#111111"/>
<rect x="71.30" y="381.68" width="0.9" height="0.9" fill="#111111"/>
<rect x="69.20" y="379.96" width="0.9" height="0.9" fill="#111111"/>
<rect x="65.70" y="379.47" width="0.9" height="0.9" fill="#111111"/>
<rect x="64.91" y="380.35" width="0.9" height="0.9" fill="#111111"/>
<rect x="68.18" y="386.21" width="0.9" height="0.9" fill="#111111"/>
<rect x="62.89" y="382.47" width="0.9" height="0.9" fill="#111111"/>
<rect x="69.05" y="375.63" width="0.9" height="0.9" fill="#111111"/>
<rect x="64.82" y="385.16" width="0.9" height="0.9" fill="#111111"/>
<rect x="74.03" y="383.94" width="0.9" height="0.9" fill="#111111"/>
<rect x="72.91" y="378.52" width="0.9" height="0.9" fill="#111111"/>
<rect x="67.54" y="381.61" width="0.9" height="0.9" fill="#111111"/>
<rect x="70.98" y="385.03" width="0.9" height="0.9" fill="#111111"/>
<rect x="69.41" y="384.09" width="0.9" height="0.9" fill="#111111"/>
<rect x="60.04" y="383.93" width="0.9" height="0.9" fill="#111111"/>
<rect x="63.42" y="389.63" width="0.9" height="0.9" fill="#111111"/>
<rect x="71.14" y="382.19" width="0.9" height="0.9" fill="#111111"/>
<rect x="67.45" y="382.38" width="0.9" height="0.9" fill="#111111"/>
<rect x="62.99" y="383.10" width="0.9" height="0.9" fill="#111111"/>
<rect x="62.38" y="379.44" width="0.9" height="0.9" fill="#111111"/>
<rect x="62.93" y="387.04" width="0.9" height="0.9" fill="#111111"/>
<rect x="66.86" y="379.13" width="0.9" height="0.9" fill="#111111"/>
<rect x="69.85" y="382.72" width="0.9" height="0.9" fill="#111111"/>
<rect x="69.01" y="380.36" width="0.9" height="0.9" fill="#111111"/>
<rect x="58.32" y="377.23" width="0.9" height="0.9" fill="#111111"/>
<rect x="70.54" y="380.88" width="0.9" height="0.9" fill="#111111"/>
<rect x="64.80" y="381.30" width="0.9" height="0.9" fill="#111111"/>
<rect x="62.06" y="380.31" width="0.9" height="0.9" fill="#111111"/>
<rect x="68.67" y="381.79" width="0.9" height="0.9" fill="#111111"/>
<rect x="64.55" y="381.06" width="0.9" height="0.9" fill="#111111"/>
<rect x="64.72" y="385.10" width="0.9" height="0.9" fill="#111111"/>
<rect x="65.98" y="379.97" width="0.9" height="0.9" fill="#111111"/>
<rect x="66.77" y="384.95" width="0.9" height="0.9" fill="#111111"/>
<rect x="73.12" y="382.80" width="0.9" height="0.9" fill="#111111"/>
<rect x="65.80" y="378.82" width="0.9" height="0.9" fill="#111111"/>
<rect x="60.87" y="383.63" width="0.9" height="0.9" fill="#111111"/>
<rect x="70.95" y="380.73" width="0.9" height="0.9" fill="#111111"/>
<rect x="70.81" y="385.09" width="0.9" height="0.9" fill="#111111"/>
<rect x="64.74" y="382.83" width="0.9" height="0.9" fill="#111111"/>
<rect x="67.23" y="379.74" width="0.9" height="0.9" fill="#111111"/>
<rect x="61.36" y="380.50" width="0.9" height="0.9" fill="#111111"/>
<rect x="66.10" y="384.45" width="0.9" height="0.9" fill="#111111"/>
<rect x="66.18" y="380.52" width="0.9" height="0.9" fill="#111111"/>
<rect x="72.64" y="383.45" width="0.9" height="0.9" fill="#111111"/>
<rect x="66.78" y="384.34" width="0.9" height="0.9" fill="#111111"/>
<rect x="65.71" y="380.91" width="0.9" height="0.9" fill="#111111"/>
<rect x="65.55" y="382.83" width="0.9" height="0.9" fill="#111111"/>
<rect x="63.84" y="384.85" width="0.9" height="0.9" fill="#111111"/>
<rect x="70.42" y="378.99" width="0.9" height="0.9" fill="#111111"/>
<rect x="61.96" y="387.92" width="0.9" height="0.9" fill="#111111"/>
<rect x="72.57" y="388.56" width="0.9" height="0.9" fill="#111111"/>
<rect x="69.18" y="382.74" width="0.9" height="0.9" fill="#111111"/>
<rect x="64.07" y="378.57" width="0.9" height="0.9" fill="#111111"/>
<rect x="70.20" y="381.31" width="0.9" height="0.9" fill="#111111"/>
<rect x="73.15" y="382.75" width="0.9" height="0.9" fill="#111111"/>
<rect x="66.43" y="382.58" width="0.9" height="0.9" fill="#111111"/>
<rect x="59.51" y="380.70" width="0.9" height="0.9" fill="#111111"/>
<rect x="66.12" y="380.88" width="0.9" height="0.9" fill="#111111"/>
<rect x="66.85" y="383.58" width="0.9" height="0.9" fill="#111111"/>
<rect x="63.87" y="379.58" width="0.9" height="0.9" fill="#111111"/>
<rect x="68.96" y="379.90" width="0.9" height="0.9" fill="#111111"/>
<rect x="67.36" y="381.34" width="0.9" height="0.9" fill="#111111"/>
<rect x="66.21" y="382.24" width="0.9" height="0.9" fill="#111111"/>
<rect x="74.44" y="382.58" width="0.9" height="0.9" fill="#111111"/>
<rect x="61.46" y="380.28" width="0.9" height="0.9" fill="#111111"/>
<rect x="65.86" y="381.71" width="0.9" height="0.9" fill="#111111"/>
<rect x="71.43" y="380.24" width="0.9" height="0.9" fill="#111111"/>
<rect x="66.10" y="385.94" width="0.9" height="0.9" fill="#111111"/>
<rect x="64.93" y="376.96" width="0.9" height="0.9" fill="#111111"/>
<rect x="69.87" y="386.12" width="0.9" height="0.9" fill="#111111"/>
<rect x="62.57" y="382.79" width="0.9" height="0.9" fill="#111111"/>
<rect x="64.24" y="383.15" width="0.9" height="0.9" fill="#111111"/>
<rect x="64.66" y="383.78" width="0.9" height="0.9" fill="#111111"/>
<rect x="62.39" y="385.62" width="0.9" height="0.9" fill="#111111"/>
<rect x="67.78" y="382.98" width="0.9" height="0.9" fill="#111111"/>
<rect x="66.85" y="384.26" width="0.9" height="0.9" fill="#111111"/>
<rect x="69.69" y="380.70" width="0.9" height="0.9" fill="#111111"/>
<rect x="64.55" y="383.51" width="0.9" height="0.9" fill="#111111"/>
<rect x="55.69" y="354.59" width="0.9" height="0.9" fill="#111111"/>
<rect x="58.17" y="358.60" width="0.9" height="0.9" fill="#111111"/>
<rect x="58.34" y="357.11" width="0.9" height="0.9" fill="#111111"/>
<rect x="59.24" y="357.28" width="0.9" height="0.9" fill="#111111"/>
<rect x="57.67" y="354.44" width="0.9" height="0.9" fill="#111111"/>
<rect x="58.07" y="357.43" width="0.9" height="0.9" fill="#111111"/>
<rect x="56.50" y="357.42" width="0.9" height="0.9" fill="#111111"/>
<rect x="58.12" y="356.52" width="0.9" height="0.9" fill="#111111"/>
<rect x="56.63" y="353.32" width="0.9" height="0.9" fill="#111111"/>
<rect x="54.55" y="355.24" width="0.9" height="0.9" fill="#111111"/>
<line x1="37.40" y1="378.80" x2="53.80" y2="378.80" stroke="#333" stroke-width="0.7"/>
<line x1="53.80" y1="340.30" x2="53.80" y2="378.80" stroke="#333" stroke-width="0.7"/>
<rect x="60.30" y="367.80" width="32.00" height="24.10" fill="none" stroke="#333" stroke-width="0.7"/>
<text x="40.14" y="344.30" font-size="4.3" fill="#222" stroke="#222" stroke-width="0.1">hmCD45+</text>
<text x="48.60" y="349.30" font-size="4.3" fill="#222" stroke="#222" stroke-width="0.1" text-anchor="middle">98.6</text>
<text x="76.30" y="362.60" font-size="4.3" fill="#222" stroke="#222" stroke-width="0.1" text-anchor="middle">hCD45+</text>
<text x="76.30" y="366.80" font-size="4.3" fill="#222" stroke="#222" stroke-width="0.1" text-anchor="middle">0.22</text>
<text x="64.85" y="335.40" font-size="6.4" fill="#111" stroke="#111" stroke-width="0.1" text-anchor="middle">DMSO</text>
<rect x="115.20" y="340.30" width="54.20" height="51.60" fill="#ffffff" stroke="#1a1a1a" stroke-width="0.8"/>
<line x1="115.20" y1="340.30" x2="115.20" y2="391.90" stroke="#111" stroke-width="1.2"/>
<line x1="115.20" y1="391.90" x2="169.40" y2="391.90" stroke="#111" stroke-width="1.2"/>
<line x1="113.60" y1="345.31" x2="115.20" y2="345.31" stroke="#111" stroke-width="0.7"/>
<text x="110.20" y="347.31" font-size="6.1" fill="#111" text-anchor="end">10<tspan font-size="4.15" dy="-2.56">5</tspan></text>
<line x1="113.60" y1="357.59" x2="115.20" y2="357.59" stroke="#111" stroke-width="0.7"/>
<text x="110.20" y="359.59" font-size="6.1" fill="#111" text-anchor="end">10<tspan font-size="4.15" dy="-2.56">4</tspan></text>
<line x1="113.60" y1="370.74" x2="115.20" y2="370.74" stroke="#111" stroke-width="0.7"/>
<text x="110.20" y="372.74" font-size="6.1" fill="#111" text-anchor="end">10<tspan font-size="4.15" dy="-2.56">3</tspan></text>
<line x1="113.60" y1="379.26" x2="115.20" y2="379.26" stroke="#111" stroke-width="0.7"/>
<text x="109.20" y="381.26" font-size="6.1" fill="#111" stroke="#111" stroke-width="0.1" text-anchor="end">0</text>
<line x1="114.20" y1="348.56" x2="115.20" y2="348.56" stroke="#333" stroke-width="0.5"/>
<line x1="114.20" y1="350.62" x2="115.20" y2="350.62" stroke="#333" stroke-width="0.5"/>
<line x1="114.20" y1="352.17" x2="115.20" y2="352.17" stroke="#333" stroke-width="0.5"/>
<line x1="114.20" y1="353.72" x2="115.20" y2="353.72" stroke="#333" stroke-width="0.5"/>
<line x1="114.20" y1="360.94" x2="115.20" y2="360.94" stroke="#333" stroke-width="0.5"/>
<line x1="114.20" y1="363.52" x2="115.20" y2="363.52" stroke="#333" stroke-width="0.5"/>
<line x1="114.20" y1="366.10" x2="115.20" y2="366.10" stroke="#333" stroke-width="0.5"/>
<line x1="114.20" y1="367.13" x2="115.20" y2="367.13" stroke="#333" stroke-width="0.5"/>
<line x1="114.20" y1="375.39" x2="115.20" y2="375.39" stroke="#333" stroke-width="0.5"/>
<line x1="114.20" y1="382.61" x2="115.20" y2="382.61" stroke="#333" stroke-width="0.5"/>
<line x1="114.20" y1="385.71" x2="115.20" y2="385.71" stroke="#333" stroke-width="0.5"/>
<line x1="114.20" y1="388.80" x2="115.20" y2="388.80" stroke="#333" stroke-width="0.5"/>
<line x1="116.28" y1="391.90" x2="116.28" y2="393.50" stroke="#111" stroke-width="0.7"/>
<text x="116.28" y="402.30" font-size="6.1" fill="#111" text-anchor="middle">−10<tspan font-size="4.15" dy="-2.56">3</tspan></text>
<line x1="127.94" y1="391.90" x2="127.94" y2="393.50" stroke="#111" stroke-width="0.7"/>
<text x="127.94" y="402.30" font-size="6.1" fill="#111" stroke="#111" stroke-width="0.1" text-anchor="middle">0</text>
<line x1="137.42" y1="391.90" x2="137.42" y2="393.50" stroke="#111" stroke-width="0.7"/>
<text x="137.42" y="402.30" font-size="6.1" fill="#111" text-anchor="middle">10<tspan font-size="4.15" dy="-2.56">3</tspan></text>
<line x1="151.24" y1="391.90" x2="151.24" y2="393.50" stroke="#111" stroke-width="0.7"/>
<text x="151.24" y="402.30" font-size="6.1" fill="#111" text-anchor="middle">10<tspan font-size="4.15" dy="-2.56">4</tspan></text>
<line x1="165.34" y1="391.90" x2="165.34" y2="393.50" stroke="#111" stroke-width="0.7"/>
<text x="165.34" y="402.30" font-size="6.1" fill="#111" text-anchor="middle">10<tspan font-size="4.15" dy="-2.56">5</tspan></text>
<line x1="120.62" y1="391.90" x2="120.62" y2="392.90" stroke="#333" stroke-width="0.5"/>
<line x1="122.79" y1="391.90" x2="122.79" y2="392.90" stroke="#333" stroke-width="0.5"/>
<line x1="131.46" y1="391.90" x2="131.46" y2="392.90" stroke="#333" stroke-width="0.5"/>
<line x1="134.71" y1="391.90" x2="134.71" y2="392.90" stroke="#333" stroke-width="0.5"/>
<line x1="142.30" y1="391.90" x2="142.30" y2="392.90" stroke="#333" stroke-width="0.5"/>
<line x1="145.01" y1="391.90" x2="145.01" y2="392.90" stroke="#333" stroke-width="0.5"/>
<line x1="146.64" y1="391.90" x2="146.64" y2="392.90" stroke="#333" stroke-width="0.5"/>
<line x1="147.72" y1="391.90" x2="147.72" y2="392.90" stroke="#333" stroke-width="0.5"/>
<line x1="155.85" y1="391.90" x2="155.85" y2="392.90" stroke="#333" stroke-width="0.5"/>
<line x1="158.56" y1="391.90" x2="158.56" y2="392.90" stroke="#333" stroke-width="0.5"/>
<line x1="160.73" y1="391.90" x2="160.73" y2="392.90" stroke="#333" stroke-width="0.5"/>
<line x1="162.35" y1="391.90" x2="162.35" y2="392.90" stroke="#333" stroke-width="0.5"/>
<path d="M126.56,354.40 L124.25,355.42 L124.07,356.45 L124.31,357.47 L124.51,358.50 L124.57,359.52 L124.24,360.55 L124.31,361.57 L124.32,362.60 L124.47,363.62 L123.95,364.65 L124.43,365.67 L124.50,366.70 L124.52,367.72 L124.28,368.75 L123.87,369.77 L123.92,370.80 L124.49,371.82 L123.75,372.85 L124.21,373.88 L123.65,374.90 L123.63,375.92 L124.05,376.95 L123.96,377.97 L124.41,379.00 L123.91,380.02 L123.84,381.05 L124.05,382.07 L124.16,383.10 L123.74,384.12 L124.52,385.15 L125.28,386.18 L126.99,387.20 L129.60,387.20 L131.41,386.18 L131.62,385.15 L132.78,384.12 L132.38,383.10 L132.29,382.07 L132.47,381.05 L132.47,380.02 L132.18,379.00 L132.58,377.97 L132.43,376.95 L132.89,375.92 L132.46,374.90 L132.09,373.88 L132.81,372.85 L132.62,371.82 L132.78,370.80 L132.98,369.77 L132.61,368.75 L132.57,367.72 L132.81,366.70 L132.61,365.67 L132.19,364.65 L132.64,363.62 L132.05,362.60 L133.02,361.57 L133.04,360.55 L132.38,359.52 L132.29,358.50 L132.43,357.47 L132.09,356.45 L132.90,355.42 L130.48,354.40 Z" fill="#c8102e"/>
<rect x="131.38" y="354.62" width="0.8" height="0.8" fill="#c8102e"/>
<rect x="123.52" y="372.33" width="0.8" height="0.8" fill="#c8102e"/>
<rect x="133.24" y="360.27" width="0.8" height="0.8" fill="#c8102e"/>
<rect x="132.66" y="355.61" width="0.8" height="0.8" fill="#c8102e"/>
<rect x="123.26" y="380.51" width="0.8" height="0.8" fill="#c8102e"/>
<rect x="123.58" y="356.11" width="0.8" height="0.8" fill="#c8102e"/>
<rect x="132.91" y="358.40" width="0.8" height="0.8" fill="#c8102e"/>
<rect x="122.65" y="382.17" width="0.8" height="0.8" fill="#c8102e"/>
<rect x="132.49" y="377.61" width="0.8" height="0.8" fill="#c8102e"/>
<rect x="132.63" y="370.02" width="0.8" height="0.8" fill="#c8102e"/>
<rect x="122.70" y="375.50" width="0.8" height="0.8" fill="#c8102e"/>
<rect x="132.46" y="385.32" width="0.8" height="0.8" fill="#c8102e"/>
<rect x="123.56" y="360.53" width="0.8" height="0.8" fill="#c8102e"/>
<rect x="123.49" y="360.02" width="0.8" height="0.8" fill="#c8102e"/>
<rect x="132.16" y="377.36" width="0.8" height="0.8" fill="#c8102e"/>
<rect x="123.39" y="365.95" width="0.8" height="0.8" fill="#c8102e"/>
<rect x="124.90" y="386.97" width="0.8" height="0.8" fill="#c8102e"/>
<rect x="123.53" y="360.33" width="0.8" height="0.8" fill="#c8102e"/>
<rect x="133.08" y="379.08" width="0.8" height="0.8" fill="#c8102e"/>
<rect x="132.73" y="365.69" width="0.8" height="0.8" fill="#c8102e"/>
<rect x="122.94" y="355.66" width="0.8" height="0.8" fill="#c8102e"/>
<rect x="122.53" y="361.13" width="0.8" height="0.8" fill="#c8102e"/>
<rect x="133.34" y="375.23" width="0.8" height="0.8" fill="#c8102e"/>
<rect x="132.50" y="369.63" width="0.8" height="0.8" fill="#c8102e"/>
<rect x="122.06" y="383.57" width="0.8" height="0.8" fill="#c8102e"/>
<rect x="122.43" y="360.25" width="0.8" height="0.8" fill="#c8102e"/>
<rect x="133.30" y="356.26" width="0.8" height="0.8" fill="#c8102e"/>
<rect x="123.60" y="382.18" width="0.8" height="0.8" fill="#c8102e"/>
<rect x="123.66" y="363.49" width="0.8" height="0.8" fill="#c8102e"/>
<rect x="132.58" y="382.16" width="0.8" height="0.8" fill="#c8102e"/>
<rect x="122.93" y="368.93" width="0.8" height="0.8" fill="#c8102e"/>
<rect x="132.31" y="382.73" width="0.8" height="0.8" fill="#c8102e"/>
<rect x="123.31" y="377.46" width="0.8" height="0.8" fill="#c8102e"/>
<rect x="132.41" y="363.55" width="0.8" height="0.8" fill="#c8102e"/>
<rect x="132.26" y="360.58" width="0.8" height="0.8" fill="#c8102e"/>
<rect x="132.53" y="377.25" width="0.8" height="0.8" fill="#c8102e"/>
<rect x="124.83" y="386.34" width="0.8" height="0.8" fill="#c8102e"/>
<rect x="122.85" y="367.08" width="0.8" height="0.8" fill="#c8102e"/>
<rect x="121.90" y="377.59" width="0.8" height="0.8" fill="#c8102e"/>
<rect x="133.19" y="362.14" width="0.8" height="0.8" fill="#c8102e"/>
<rect x="122.31" y="360.86" width="0.8" height="0.8" fill="#c8102e"/>
<rect x="121.98" y="371.69" width="0.8" height="0.8" fill="#c8102e"/>
<rect x="123.47" y="358.12" width="0.8" height="0.8" fill="#c8102e"/>
<rect x="123.76" y="357.63" width="0.8" height="0.8" fill="#c8102e"/>
<rect x="123.93" y="384.62" width="0.8" height="0.8" fill="#c8102e"/>
<rect x="132.55" y="384.23" width="0.8" height="0.8" fill="#c8102e"/>
<rect x="133.17" y="373.26" width="0.8" height="0.8" fill="#c8102e"/>
<rect x="130.64" y="386.23" width="0.8" height="0.8" fill="#c8102e"/>
<rect x="123.21" y="383.97" width="0.8" height="0.8" fill="#c8102e"/>
<rect x="133.25" y="376.67" width="0.8" height="0.8" fill="#c8102e"/>
<rect x="121.82" y="362.22" width="0.8" height="0.8" fill="#c8102e"/>
<rect x="132.67" y="383.56" width="0.8" height="0.8" fill="#c8102e"/>
<rect x="133.59" y="358.10" width="0.8" height="0.8" fill="#c8102e"/>
<rect x="122.83" y="359.64" width="0.8" height="0.8" fill="#c8102e"/>
<rect x="133.10" y="368.01" width="0.8" height="0.8" fill="#c8102e"/>
<rect x="133.46" y="362.10" width="0.8" height="0.8" fill="#c8102e"/>
<rect x="122.76" y="383.20" width="0.8" height="0.8" fill="#c8102e"/>
<rect x="123.47" y="369.63" width="0.8" height="0.8" fill="#c8102e"/>
<rect x="132.16" y="371.26" width="0.8" height="0.8" fill="#c8102e"/>
<rect x="123.17" y="379.05" width="0.8" height="0.8" fill="#c8102e"/>
<rect x="123.67" y="368.99" width="0.8" height="0.8" fill="#c8102e"/>
<rect x="123.09" y="358.12" width="0.8" height="0.8" fill="#c8102e"/>
<rect x="132.56" y="365.11" width="0.8" height="0.8" fill="#c8102e"/>
<rect x="132.92" y="361.16" width="0.8" height="0.8" fill="#c8102e"/>
<rect x="122.98" y="384.40" width="0.8" height="0.8" fill="#c8102e"/>
<rect x="123.21" y="367.34" width="0.8" height="0.8" fill="#c8102e"/>
<rect x="132.38" y="380.90" width="0.8" height="0.8" fill="#c8102e"/>
<rect x="132.76" y="376.96" width="0.8" height="0.8" fill="#c8102e"/>
<rect x="122.93" y="358.18" width="0.8" height="0.8" fill="#c8102e"/>
<rect x="122.49" y="361.52" width="0.8" height="0.8" fill="#c8102e"/>
<rect x="132.03" y="380.35" width="0.8" height="0.8" fill="#c8102e"/>
<rect x="123.20" y="373.60" width="0.8" height="0.8" fill="#c8102e"/>
<rect x="132.57" y="372.03" width="0.8" height="0.8" fill="#c8102e"/>
<rect x="132.30" y="378.62" width="0.8" height="0.8" fill="#c8102e"/>
<rect x="132.47" y="372.67" width="0.8" height="0.8" fill="#c8102e"/>
<rect x="132.87" y="372.65" width="0.8" height="0.8" fill="#c8102e"/>
<rect x="133.21" y="362.99" width="0.8" height="0.8" fill="#c8102e"/>
<rect x="122.50" y="375.50" width="0.8" height="0.8" fill="#c8102e"/>
<rect x="133.11" y="376.77" width="0.8" height="0.8" fill="#c8102e"/>
<rect x="123.12" y="374.44" width="0.8" height="0.8" fill="#c8102e"/>
<rect x="123.46" y="366.03" width="0.8" height="0.8" fill="#c8102e"/>
<rect x="122.84" y="373.44" width="0.8" height="0.8" fill="#c8102e"/>
<rect x="122.07" y="365.82" width="0.8" height="0.8" fill="#c8102e"/>
<rect x="122.46" y="355.91" width="0.8" height="0.8" fill="#c8102e"/>
<rect x="133.29" y="375.76" width="0.8" height="0.8" fill="#c8102e"/>
<rect x="122.68" y="367.39" width="0.8" height="0.8" fill="#c8102e"/>
<rect x="123.30" y="366.62" width="0.8" height="0.8" fill="#c8102e"/>
<rect x="123.19" y="359.83" width="0.8" height="0.8" fill="#c8102e"/>
<rect x="133.17" y="359.58" width="0.8" height="0.8" fill="#c8102e"/>
<rect x="123.25" y="377.56" width="0.8" height="0.8" fill="#c8102e"/>
<rect x="132.66" y="366.56" width="0.8" height="0.8" fill="#c8102e"/>
<rect x="123.56" y="377.20" width="0.8" height="0.8" fill="#c8102e"/>
<rect x="132.79" y="376.90" width="0.8" height="0.8" fill="#c8102e"/>
<rect x="132.34" y="361.89" width="0.8" height="0.8" fill="#c8102e"/>
<rect x="122.83" y="378.81" width="0.8" height="0.8" fill="#c8102e"/>
<rect x="133.09" y="356.69" width="0.8" height="0.8" fill="#c8102e"/>
<rect x="132.52" y="374.94" width="0.8" height="0.8" fill="#c8102e"/>
<rect x="122.92" y="361.98" width="0.8" height="0.8" fill="#c8102e"/>
<rect x="145.07" y="371.13" width="0.9" height="0.9" fill="#c8102e"/>
<rect x="146.83" y="375.96" width="0.9" height="0.9" fill="#c8102e"/>
<rect x="142.33" y="374.17" width="0.9" height="0.9" fill="#c8102e"/>
<rect x="150.05" y="369.89" width="0.9" height="0.9" fill="#c8102e"/>
<rect x="137.08" y="374.38" width="0.9" height="0.9" fill="#c8102e"/>
<rect x="142.53" y="370.38" width="0.9" height="0.9" fill="#c8102e"/>
<rect x="148.32" y="383.28" width="0.9" height="0.9" fill="#c8102e"/>
<rect x="147.07" y="372.88" width="0.9" height="0.9" fill="#c8102e"/>
<rect x="143.06" y="376.04" width="0.9" height="0.9" fill="#c8102e"/>
<rect x="139.39" y="369.65" width="0.9" height="0.9" fill="#c8102e"/>
<rect x="141.98" y="377.12" width="0.9" height="0.9" fill="#c8102e"/>
<rect x="139.69" y="370.37" width="0.9" height="0.9" fill="#c8102e"/>
<rect x="145.26" y="377.85" width="0.9" height="0.9" fill="#c8102e"/>
<rect x="143.42" y="374.09" width="0.9" height="0.9" fill="#c8102e"/>
<rect x="145.14" y="371.82" width="0.9" height="0.9" fill="#c8102e"/>
<rect x="145.74" y="371.17" width="0.9" height="0.9" fill="#c8102e"/>
<rect x="144.32" y="375.68" width="0.9" height="0.9" fill="#c8102e"/>
<rect x="145.88" y="377.03" width="0.9" height="0.9" fill="#c8102e"/>
<rect x="144.27" y="367.90" width="0.9" height="0.9" fill="#c8102e"/>
<rect x="142.14" y="372.48" width="0.9" height="0.9" fill="#c8102e"/>
<rect x="141.33" y="369.43" width="0.9" height="0.9" fill="#c8102e"/>
<rect x="143.11" y="376.22" width="0.9" height="0.9" fill="#c8102e"/>
<rect x="141.78" y="375.55" width="0.9" height="0.9" fill="#c8102e"/>
<rect x="145.20" y="378.69" width="0.9" height="0.9" fill="#c8102e"/>
<rect x="150.10" y="378.87" width="0.9" height="0.9" fill="#c8102e"/>
<rect x="142.69" y="383.40" width="0.9" height="0.9" fill="#c8102e"/>
<rect x="143.96" y="374.41" width="0.9" height="0.9" fill="#c8102e"/>
<rect x="148.70" y="370.69" width="0.9" height="0.9" fill="#c8102e"/>
<rect x="137.44" y="373.68" width="0.9" height="0.9" fill="#c8102e"/>
<rect x="143.28" y="375.12" width="0.9" height="0.9" fill="#c8102e"/>
<rect x="145.62" y="377.79" width="0.9" height="0.9" fill="#c8102e"/>
<rect x="147.78" y="369.14" width="0.9" height="0.9" fill="#c8102e"/>
<rect x="146.19" y="377.51" width="0.9" height="0.9" fill="#c8102e"/>
<rect x="145.76" y="376.86" width="0.9" height="0.9" fill="#c8102e"/>
<rect x="142.02" y="378.31" width="0.9" height="0.9" fill="#c8102e"/>
<rect x="146.76" y="379.74" width="0.9" height="0.9" fill="#c8102e"/>
<rect x="144.33" y="383.40" width="0.9" height="0.9" fill="#c8102e"/>
<rect x="140.63" y="375.49" width="0.9" height="0.9" fill="#c8102e"/>
<rect x="144.29" y="371.34" width="0.9" height="0.9" fill="#c8102e"/>
<rect x="143.93" y="377.04" width="0.9" height="0.9" fill="#c8102e"/>
<rect x="143.35" y="377.81" width="0.9" height="0.9" fill="#c8102e"/>
<rect x="143.72" y="371.27" width="0.9" height="0.9" fill="#c8102e"/>
<rect x="143.31" y="371.91" width="0.9" height="0.9" fill="#c8102e"/>
<rect x="146.47" y="376.45" width="0.9" height="0.9" fill="#c8102e"/>
<rect x="138.51" y="380.48" width="0.9" height="0.9" fill="#c8102e"/>
<rect x="147.65" y="383.81" width="0.9" height="0.9" fill="#c8102e"/>
<rect x="148.28" y="383.77" width="0.9" height="0.9" fill="#c8102e"/>
<rect x="153.74" y="381.36" width="0.9" height="0.9" fill="#c8102e"/>
<rect x="147.13" y="383.13" width="0.9" height="0.9" fill="#c8102e"/>
<rect x="143.04" y="382.72" width="0.9" height="0.9" fill="#c8102e"/>
<rect x="149.38" y="383.84" width="0.9" height="0.9" fill="#c8102e"/>
<rect x="147.02" y="382.40" width="0.9" height="0.9" fill="#c8102e"/>
<rect x="146.11" y="379.52" width="0.9" height="0.9" fill="#c8102e"/>
<rect x="147.79" y="380.25" width="0.9" height="0.9" fill="#c8102e"/>
<rect x="143.47" y="383.04" width="0.9" height="0.9" fill="#c8102e"/>
<rect x="149.36" y="384.31" width="0.9" height="0.9" fill="#c8102e"/>
<rect x="147.17" y="384.26" width="0.9" height="0.9" fill="#c8102e"/>
<rect x="148.69" y="382.83" width="0.9" height="0.9" fill="#c8102e"/>
<rect x="150.52" y="383.35" width="0.9" height="0.9" fill="#c8102e"/>
<rect x="147.33" y="385.04" width="0.9" height="0.9" fill="#c8102e"/>
<rect x="144.82" y="382.47" width="0.9" height="0.9" fill="#c8102e"/>
<rect x="149.82" y="384.43" width="0.9" height="0.9" fill="#c8102e"/>
<rect x="144.96" y="379.76" width="0.9" height="0.9" fill="#c8102e"/>
<rect x="143.05" y="382.37" width="0.9" height="0.9" fill="#c8102e"/>
<rect x="149.54" y="382.76" width="0.9" height="0.9" fill="#c8102e"/>
<rect x="147.91" y="380.65" width="0.9" height="0.9" fill="#c8102e"/>
<rect x="149.49" y="383.77" width="0.9" height="0.9" fill="#c8102e"/>
<rect x="147.69" y="381.71" width="0.9" height="0.9" fill="#c8102e"/>
<rect x="149.69" y="384.02" width="0.9" height="0.9" fill="#c8102e"/>
<rect x="149.08" y="381.07" width="0.9" height="0.9" fill="#c8102e"/>
<rect x="147.06" y="385.92" width="0.9" height="0.9" fill="#c8102e"/>
<rect x="149.08" y="383.43" width="0.9" height="0.9" fill="#c8102e"/>
<rect x="142.24" y="380.24" width="0.9" height="0.9" fill="#c8102e"/>
<rect x="148.71" y="381.14" width="0.9" height="0.9" fill="#c8102e"/>
<rect x="146.71" y="384.39" width="0.9" height="0.9" fill="#c8102e"/>
<rect x="148.73" y="383.60" width="0.9" height="0.9" fill="#c8102e"/>
<rect x="147.87" y="376.97" width="0.9" height="0.9" fill="#c8102e"/>
<rect x="146.85" y="383.27" width="0.9" height="0.9" fill="#c8102e"/>
<rect x="146.48" y="377.31" width="0.9" height="0.9" fill="#c8102e"/>
<rect x="147.85" y="380.52" width="0.9" height="0.9" fill="#c8102e"/>
<rect x="146.81" y="379.12" width="0.9" height="0.9" fill="#c8102e"/>
<rect x="146.87" y="380.17" width="0.9" height="0.9" fill="#c8102e"/>
<rect x="152.23" y="382.48" width="0.9" height="0.9" fill="#c8102e"/>
<rect x="147.30" y="384.61" width="0.9" height="0.9" fill="#c8102e"/>
<rect x="149.46" y="383.53" width="0.9" height="0.9" fill="#c8102e"/>
<rect x="148.42" y="380.40" width="0.9" height="0.9" fill="#c8102e"/>
<rect x="141.85" y="381.97" width="0.9" height="0.9" fill="#c8102e"/>
<rect x="149.39" y="383.47" width="0.9" height="0.9" fill="#c8102e"/>
<rect x="143.52" y="382.74" width="0.9" height="0.9" fill="#c8102e"/>
<rect x="144.19" y="378.19" width="0.9" height="0.9" fill="#c8102e"/>
<rect x="148.20" y="380.12" width="0.9" height="0.9" fill="#c8102e"/>
<rect x="145.50" y="380.22" width="0.9" height="0.9" fill="#c8102e"/>
<rect x="151.03" y="382.27" width="0.9" height="0.9" fill="#c8102e"/>
<rect x="144.50" y="381.38" width="0.9" height="0.9" fill="#c8102e"/>
<rect x="142.54" y="384.15" width="0.9" height="0.9" fill="#c8102e"/>
<rect x="142.47" y="385.60" width="0.9" height="0.9" fill="#c8102e"/>
<rect x="145.96" y="377.57" width="0.9" height="0.9" fill="#c8102e"/>
<rect x="145.95" y="380.00" width="0.9" height="0.9" fill="#c8102e"/>
<rect x="146.62" y="382.78" width="0.9" height="0.9" fill="#c8102e"/>
<rect x="144.36" y="379.67" width="0.9" height="0.9" fill="#c8102e"/>
<rect x="146.15" y="379.17" width="0.9" height="0.9" fill="#c8102e"/>
<rect x="151.44" y="383.18" width="0.9" height="0.9" fill="#c8102e"/>
<rect x="146.45" y="384.45" width="0.9" height="0.9" fill="#c8102e"/>
<rect x="149.07" y="381.00" width="0.9" height="0.9" fill="#c8102e"/>
<rect x="146.05" y="382.63" width="0.9" height="0.9" fill="#c8102e"/>
<rect x="147.86" y="383.75" width="0.9" height="0.9" fill="#c8102e"/>
<rect x="147.79" y="384.87" width="0.9" height="0.9" fill="#c8102e"/>
<rect x="148.24" y="382.75" width="0.9" height="0.9" fill="#c8102e"/>
<rect x="151.18" y="384.18" width="0.9" height="0.9" fill="#c8102e"/>
<rect x="151.91" y="381.88" width="0.9" height="0.9" fill="#c8102e"/>
<rect x="145.42" y="382.40" width="0.9" height="0.9" fill="#c8102e"/>
<rect x="147.33" y="381.47" width="0.9" height="0.9" fill="#c8102e"/>
<rect x="150.18" y="383.61" width="0.9" height="0.9" fill="#c8102e"/>
<rect x="148.68" y="381.19" width="0.9" height="0.9" fill="#c8102e"/>
<rect x="148.76" y="381.14" width="0.9" height="0.9" fill="#c8102e"/>
<line x1="115.20" y1="378.30" x2="132.00" y2="378.30" stroke="#333" stroke-width="0.7"/>
<line x1="132.00" y1="340.30" x2="132.00" y2="378.30" stroke="#333" stroke-width="0.7"/>
<rect x="138.00" y="368.00" width="31.40" height="23.90" fill="none" stroke="#333" stroke-width="0.7"/>
<text x="117.91" y="344.30" font-size="4.3" fill="#222" stroke="#222" stroke-width="0.1">hmCD45+</text>
<text x="126.60" y="349.30" font-size="4.3" fill="#222" stroke="#222" stroke-width="0.1" text-anchor="middle">99.8</text>
<text x="153.70" y="362.80" font-size="4.3" fill="#222" stroke="#222" stroke-width="0.1" text-anchor="middle">hCD45+</text>
<text x="153.70" y="367.00" font-size="4.3" fill="#222" stroke="#222" stroke-width="0.1" text-anchor="middle">0.19</text>
<text x="142.30" y="335.40" font-size="6.4" fill="#111" stroke="#111" stroke-width="0.1" text-anchor="middle">MS452</text>
<rect x="193.60" y="340.30" width="54.70" height="51.60" fill="#ffffff" stroke="#1a1a1a" stroke-width="0.8"/>
<line x1="193.60" y1="340.30" x2="193.60" y2="391.90" stroke="#111" stroke-width="1.2"/>
<line x1="193.60" y1="391.90" x2="248.30" y2="391.90" stroke="#111" stroke-width="1.2"/>
<line x1="192.00" y1="345.31" x2="193.60" y2="345.31" stroke="#111" stroke-width="0.7"/>
<text x="188.60" y="347.31" font-size="6.1" fill="#111" text-anchor="end">10<tspan font-size="4.15" dy="-2.56">5</tspan></text>
<line x1="192.00" y1="357.59" x2="193.60" y2="357.59" stroke="#111" stroke-width="0.7"/>
<text x="188.60" y="359.59" font-size="6.1" fill="#111" text-anchor="end">10<tspan font-size="4.15" dy="-2.56">4</tspan></text>
<line x1="192.00" y1="370.74" x2="193.60" y2="370.74" stroke="#111" stroke-width="0.7"/>
<text x="188.60" y="372.74" font-size="6.1" fill="#111" text-anchor="end">10<tspan font-size="4.15" dy="-2.56">3</tspan></text>
<line x1="192.00" y1="379.26" x2="193.60" y2="379.26" stroke="#111" stroke-width="0.7"/>
<text x="187.60" y="381.26" font-size="6.1" fill="#111" stroke="#111" stroke-width="0.1" text-anchor="end">0</text>
<line x1="192.60" y1="348.56" x2="193.60" y2="348.56" stroke="#333" stroke-width="0.5"/>
<line x1="192.60" y1="350.62" x2="193.60" y2="350.62" stroke="#333" stroke-width="0.5"/>
<line x1="192.60" y1="352.17" x2="193.60" y2="352.17" stroke="#333" stroke-width="0.5"/>
<line x1="192.60" y1="353.72" x2="193.60" y2="353.72" stroke="#333" stroke-width="0.5"/>
<line x1="192.60" y1="360.94" x2="193.60" y2="360.94" stroke="#333" stroke-width="0.5"/>
<line x1="192.60" y1="363.52" x2="193.60" y2="363.52" stroke="#333" stroke-width="0.5"/>
<line x1="192.60" y1="366.10" x2="193.60" y2="366.10" stroke="#333" stroke-width="0.5"/>
<line x1="192.60" y1="367.13" x2="193.60" y2="367.13" stroke="#333" stroke-width="0.5"/>
<line x1="192.60" y1="375.39" x2="193.60" y2="375.39" stroke="#333" stroke-width="0.5"/>
<line x1="192.60" y1="382.61" x2="193.60" y2="382.61" stroke="#333" stroke-width="0.5"/>
<line x1="192.60" y1="385.71" x2="193.60" y2="385.71" stroke="#333" stroke-width="0.5"/>
<line x1="192.60" y1="388.80" x2="193.60" y2="388.80" stroke="#333" stroke-width="0.5"/>
<line x1="194.69" y1="391.90" x2="194.69" y2="393.50" stroke="#111" stroke-width="0.7"/>
<text x="194.69" y="402.30" font-size="6.1" fill="#111" text-anchor="middle">−10<tspan font-size="4.15" dy="-2.56">3</tspan></text>
<line x1="206.45" y1="391.90" x2="206.45" y2="393.50" stroke="#111" stroke-width="0.7"/>
<text x="206.45" y="402.30" font-size="6.1" fill="#111" stroke="#111" stroke-width="0.1" text-anchor="middle">0</text>
<line x1="216.03" y1="391.90" x2="216.03" y2="393.50" stroke="#111" stroke-width="0.7"/>
<text x="216.03" y="402.30" font-size="6.1" fill="#111" text-anchor="middle">10<tspan font-size="4.15" dy="-2.56">3</tspan></text>
<line x1="229.98" y1="391.90" x2="229.98" y2="393.50" stroke="#111" stroke-width="0.7"/>
<text x="229.98" y="402.30" font-size="6.1" fill="#111" text-anchor="middle">10<tspan font-size="4.15" dy="-2.56">4</tspan></text>
<line x1="244.20" y1="391.90" x2="244.20" y2="393.50" stroke="#111" stroke-width="0.7"/>
<text x="244.20" y="402.30" font-size="6.1" fill="#111" text-anchor="middle">10<tspan font-size="4.15" dy="-2.56">5</tspan></text>
<line x1="199.07" y1="391.90" x2="199.07" y2="392.90" stroke="#333" stroke-width="0.5"/>
<line x1="201.26" y1="391.90" x2="201.26" y2="392.90" stroke="#333" stroke-width="0.5"/>
<line x1="210.01" y1="391.90" x2="210.01" y2="392.90" stroke="#333" stroke-width="0.5"/>
<line x1="213.29" y1="391.90" x2="213.29" y2="392.90" stroke="#333" stroke-width="0.5"/>
<line x1="220.95" y1="391.90" x2="220.95" y2="392.90" stroke="#333" stroke-width="0.5"/>
<line x1="223.69" y1="391.90" x2="223.69" y2="392.90" stroke="#333" stroke-width="0.5"/>
<line x1="225.33" y1="391.90" x2="225.33" y2="392.90" stroke="#333" stroke-width="0.5"/>
<line x1="226.42" y1="391.90" x2="226.42" y2="392.90" stroke="#333" stroke-width="0.5"/>
<line x1="234.62" y1="391.90" x2="234.62" y2="392.90" stroke="#333" stroke-width="0.5"/>
<line x1="237.36" y1="391.90" x2="237.36" y2="392.90" stroke="#333" stroke-width="0.5"/>
<line x1="239.55" y1="391.90" x2="239.55" y2="392.90" stroke="#333" stroke-width="0.5"/>
<line x1="241.19" y1="391.90" x2="241.19" y2="392.90" stroke="#333" stroke-width="0.5"/>
<path d="M205.18,354.40 L203.65,355.42 L203.06,356.44 L202.80,357.45 L202.49,358.47 L202.51,359.49 L202.33,360.51 L202.94,361.53 L202.75,362.55 L202.61,363.56 L202.98,364.58 L202.86,365.60 L203.14,366.62 L202.94,367.64 L202.77,368.65 L202.53,369.67 L202.67,370.69 L202.76,371.71 L202.80,372.73 L202.38,373.75 L202.95,374.76 L202.31,375.78 L202.24,376.80 L202.71,377.82 L202.48,378.84 L202.44,379.85 L202.87,380.87 L202.40,381.89 L202.87,382.91 L202.90,383.93 L202.80,384.95 L203.38,385.96 L203.74,386.98 L204.84,388.00 L208.23,388.00 L210.18,386.98 L210.93,385.96 L211.44,384.95 L210.85,383.93 L211.38,382.91 L210.73,381.89 L211.23,380.87 L210.97,379.85 L211.05,378.84 L211.55,377.82 L210.96,376.80 L210.78,375.78 L210.90,374.76 L211.05,373.75 L210.90,372.73 L211.20,371.71 L211.51,370.69 L210.82,369.67 L211.47,368.65 L211.15,367.64 L211.16,366.62 L211.45,365.60 L211.43,364.58 L210.85,363.56 L211.61,362.55 L211.27,361.53 L210.91,360.51 L211.33,359.49 L211.33,358.47 L210.99,357.45 L211.21,356.44 L210.68,355.42 L210.13,354.40 Z" fill="#17528e"/>
<rect x="202.34" y="359.86" width="0.8" height="0.8" fill="#17528e"/>
<rect x="202.08" y="381.45" width="0.8" height="0.8" fill="#17528e"/>
<rect x="200.79" y="372.50" width="0.8" height="0.8" fill="#17528e"/>
<rect x="210.15" y="354.94" width="0.8" height="0.8" fill="#17528e"/>
<rect x="211.55" y="370.88" width="0.8" height="0.8" fill="#17528e"/>
<rect x="202.07" y="379.77" width="0.8" height="0.8" fill="#17528e"/>
<rect x="209.94" y="386.34" width="0.8" height="0.8" fill="#17528e"/>
<rect x="201.83" y="377.60" width="0.8" height="0.8" fill="#17528e"/>
<rect x="200.63" y="362.90" width="0.8" height="0.8" fill="#17528e"/>
<rect x="211.69" y="380.00" width="0.8" height="0.8" fill="#17528e"/>
<rect x="211.85" y="381.74" width="0.8" height="0.8" fill="#17528e"/>
<rect x="211.79" y="356.74" width="0.8" height="0.8" fill="#17528e"/>
<rect x="201.60" y="372.74" width="0.8" height="0.8" fill="#17528e"/>
<rect x="201.87" y="382.17" width="0.8" height="0.8" fill="#17528e"/>
<rect x="201.64" y="355.25" width="0.8" height="0.8" fill="#17528e"/>
<rect x="212.73" y="362.74" width="0.8" height="0.8" fill="#17528e"/>
<rect x="202.15" y="365.75" width="0.8" height="0.8" fill="#17528e"/>
<rect x="211.18" y="381.26" width="0.8" height="0.8" fill="#17528e"/>
<rect x="210.57" y="354.53" width="0.8" height="0.8" fill="#17528e"/>
<rect x="201.13" y="379.57" width="0.8" height="0.8" fill="#17528e"/>
<rect x="211.19" y="361.24" width="0.8" height="0.8" fill="#17528e"/>
<rect x="211.29" y="379.46" width="0.8" height="0.8" fill="#17528e"/>
<rect x="202.10" y="368.51" width="0.8" height="0.8" fill="#17528e"/>
<rect x="201.08" y="372.08" width="0.8" height="0.8" fill="#17528e"/>
<rect x="211.58" y="363.32" width="0.8" height="0.8" fill="#17528e"/>
<rect x="202.18" y="383.41" width="0.8" height="0.8" fill="#17528e"/>
<rect x="211.89" y="367.08" width="0.8" height="0.8" fill="#17528e"/>
<rect x="211.04" y="364.20" width="0.8" height="0.8" fill="#17528e"/>
<rect x="211.14" y="368.09" width="0.8" height="0.8" fill="#17528e"/>
<rect x="211.65" y="359.79" width="0.8" height="0.8" fill="#17528e"/>
<rect x="201.89" y="368.50" width="0.8" height="0.8" fill="#17528e"/>
<rect x="211.79" y="372.50" width="0.8" height="0.8" fill="#17528e"/>
<rect x="200.21" y="367.30" width="0.8" height="0.8" fill="#17528e"/>
<rect x="200.62" y="371.28" width="0.8" height="0.8" fill="#17528e"/>
<rect x="201.54" y="375.25" width="0.8" height="0.8" fill="#17528e"/>
<rect x="209.67" y="354.66" width="0.8" height="0.8" fill="#17528e"/>
<rect x="201.94" y="363.11" width="0.8" height="0.8" fill="#17528e"/>
<rect x="211.35" y="355.83" width="0.8" height="0.8" fill="#17528e"/>
<rect x="202.01" y="363.66" width="0.8" height="0.8" fill="#17528e"/>
<rect x="201.97" y="360.46" width="0.8" height="0.8" fill="#17528e"/>
<rect x="212.52" y="374.92" width="0.8" height="0.8" fill="#17528e"/>
<rect x="200.77" y="355.78" width="0.8" height="0.8" fill="#17528e"/>
<rect x="202.34" y="385.04" width="0.8" height="0.8" fill="#17528e"/>
<rect x="202.61" y="385.72" width="0.8" height="0.8" fill="#17528e"/>
<rect x="211.17" y="370.15" width="0.8" height="0.8" fill="#17528e"/>
<rect x="201.09" y="382.01" width="0.8" height="0.8" fill="#17528e"/>
<rect x="202.06" y="365.38" width="0.8" height="0.8" fill="#17528e"/>
<rect x="202.05" y="361.32" width="0.8" height="0.8" fill="#17528e"/>
<rect x="208.30" y="387.73" width="0.8" height="0.8" fill="#17528e"/>
<rect x="211.45" y="376.69" width="0.8" height="0.8" fill="#17528e"/>
<rect x="201.54" y="379.43" width="0.8" height="0.8" fill="#17528e"/>
<rect x="201.97" y="366.38" width="0.8" height="0.8" fill="#17528e"/>
<rect x="211.63" y="382.32" width="0.8" height="0.8" fill="#17528e"/>
<rect x="202.01" y="379.88" width="0.8" height="0.8" fill="#17528e"/>
<rect x="202.09" y="361.47" width="0.8" height="0.8" fill="#17528e"/>
<rect x="210.96" y="379.13" width="0.8" height="0.8" fill="#17528e"/>
<rect x="211.55" y="382.05" width="0.8" height="0.8" fill="#17528e"/>
<rect x="202.67" y="386.49" width="0.8" height="0.8" fill="#17528e"/>
<rect x="201.73" y="376.94" width="0.8" height="0.8" fill="#17528e"/>
<rect x="211.03" y="373.74" width="0.8" height="0.8" fill="#17528e"/>
<rect x="201.60" y="372.42" width="0.8" height="0.8" fill="#17528e"/>
<rect x="201.87" y="385.27" width="0.8" height="0.8" fill="#17528e"/>
<rect x="201.96" y="376.61" width="0.8" height="0.8" fill="#17528e"/>
<rect x="202.17" y="367.55" width="0.8" height="0.8" fill="#17528e"/>
<rect x="211.02" y="362.95" width="0.8" height="0.8" fill="#17528e"/>
<rect x="209.97" y="387.15" width="0.8" height="0.8" fill="#17528e"/>
<rect x="212.40" y="378.57" width="0.8" height="0.8" fill="#17528e"/>
<rect x="212.88" y="372.63" width="0.8" height="0.8" fill="#17528e"/>
<rect x="201.47" y="385.58" width="0.8" height="0.8" fill="#17528e"/>
<rect x="211.62" y="358.34" width="0.8" height="0.8" fill="#17528e"/>
<rect x="201.36" y="379.61" width="0.8" height="0.8" fill="#17528e"/>
<rect x="201.52" y="383.02" width="0.8" height="0.8" fill="#17528e"/>
<rect x="211.16" y="363.42" width="0.8" height="0.8" fill="#17528e"/>
<rect x="211.94" y="365.76" width="0.8" height="0.8" fill="#17528e"/>
<rect x="201.57" y="361.80" width="0.8" height="0.8" fill="#17528e"/>
<rect x="201.17" y="356.53" width="0.8" height="0.8" fill="#17528e"/>
<rect x="200.71" y="376.81" width="0.8" height="0.8" fill="#17528e"/>
<rect x="212.31" y="358.12" width="0.8" height="0.8" fill="#17528e"/>
<rect x="201.99" y="382.26" width="0.8" height="0.8" fill="#17528e"/>
<rect x="209.79" y="386.56" width="0.8" height="0.8" fill="#17528e"/>
<rect x="202.12" y="371.59" width="0.8" height="0.8" fill="#17528e"/>
<rect x="201.04" y="383.82" width="0.8" height="0.8" fill="#17528e"/>
<rect x="201.84" y="385.33" width="0.8" height="0.8" fill="#17528e"/>
<rect x="201.21" y="360.32" width="0.8" height="0.8" fill="#17528e"/>
<rect x="202.12" y="370.82" width="0.8" height="0.8" fill="#17528e"/>
<rect x="210.90" y="387.18" width="0.8" height="0.8" fill="#17528e"/>
<rect x="202.06" y="374.56" width="0.8" height="0.8" fill="#17528e"/>
<rect x="210.95" y="381.21" width="0.8" height="0.8" fill="#17528e"/>
<rect x="202.12" y="359.08" width="0.8" height="0.8" fill="#17528e"/>
<rect x="210.46" y="354.68" width="0.8" height="0.8" fill="#17528e"/>
<rect x="211.62" y="357.15" width="0.8" height="0.8" fill="#17528e"/>
<rect x="201.02" y="382.37" width="0.8" height="0.8" fill="#17528e"/>
<rect x="202.09" y="364.72" width="0.8" height="0.8" fill="#17528e"/>
<rect x="201.99" y="359.10" width="0.8" height="0.8" fill="#17528e"/>
<rect x="201.30" y="375.02" width="0.8" height="0.8" fill="#17528e"/>
<rect x="201.81" y="371.95" width="0.8" height="0.8" fill="#17528e"/>
<rect x="202.09" y="382.60" width="0.8" height="0.8" fill="#17528e"/>
<rect x="201.16" y="358.27" width="0.8" height="0.8" fill="#17528e"/>
<rect x="211.21" y="366.42" width="0.8" height="0.8" fill="#17528e"/>
<rect x="211.80" y="380.21" width="0.8" height="0.8" fill="#17528e"/>
<rect x="226.59" y="381.14" width="0.9" height="0.9" fill="#17528e"/>
<rect x="221.31" y="383.95" width="0.9" height="0.9" fill="#17528e"/>
<rect x="223.52" y="380.39" width="0.9" height="0.9" fill="#17528e"/>
<rect x="223.14" y="379.39" width="0.9" height="0.9" fill="#17528e"/>
<rect x="228.38" y="380.83" width="0.9" height="0.9" fill="#17528e"/>
<rect x="229.49" y="379.74" width="0.9" height="0.9" fill="#17528e"/>
<rect x="224.87" y="378.51" width="0.9" height="0.9" fill="#17528e"/>
<rect x="221.57" y="378.60" width="0.9" height="0.9" fill="#17528e"/>
<rect x="225.16" y="377.18" width="0.9" height="0.9" fill="#17528e"/>
<rect x="230.63" y="381.96" width="0.9" height="0.9" fill="#17528e"/>
<rect x="224.58" y="384.24" width="0.9" height="0.9" fill="#17528e"/>
<rect x="220.59" y="381.01" width="0.9" height="0.9" fill="#17528e"/>
<rect x="224.40" y="380.98" width="0.9" height="0.9" fill="#17528e"/>
<rect x="222.33" y="381.30" width="0.9" height="0.9" fill="#17528e"/>
<rect x="225.70" y="377.45" width="0.9" height="0.9" fill="#17528e"/>
<rect x="223.73" y="377.81" width="0.9" height="0.9" fill="#17528e"/>
<rect x="224.83" y="378.40" width="0.9" height="0.9" fill="#17528e"/>
<rect x="229.56" y="375.72" width="0.9" height="0.9" fill="#17528e"/>
<rect x="230.08" y="380.76" width="0.9" height="0.9" fill="#17528e"/>
<rect x="225.70" y="376.07" width="0.9" height="0.9" fill="#17528e"/>
<rect x="228.32" y="382.61" width="0.9" height="0.9" fill="#17528e"/>
<rect x="225.50" y="376.39" width="0.9" height="0.9" fill="#17528e"/>
<rect x="215.83" y="355.18" width="0.9" height="0.9" fill="#17528e"/>
<rect x="211.18" y="353.46" width="0.9" height="0.9" fill="#17528e"/>
<rect x="213.63" y="356.99" width="0.9" height="0.9" fill="#17528e"/>
<rect x="211.57" y="355.66" width="0.9" height="0.9" fill="#17528e"/>
<rect x="214.63" y="355.38" width="0.9" height="0.9" fill="#17528e"/>
<line x1="193.60" y1="378.50" x2="210.40" y2="378.50" stroke="#333" stroke-width="0.7"/>
<line x1="210.40" y1="340.30" x2="210.40" y2="378.50" stroke="#333" stroke-width="0.7"/>
<rect x="216.20" y="367.60" width="32.10" height="24.30" fill="none" stroke="#333" stroke-width="0.7"/>
<text x="196.34" y="344.30" font-size="4.3" fill="#222" stroke="#222" stroke-width="0.1">hmCD45+</text>
<text x="205.00" y="349.30" font-size="4.3" fill="#222" stroke="#222" stroke-width="0.1" text-anchor="middle">60.6</text>
<text x="232.25" y="362.40" font-size="4.3" fill="#222" stroke="#222" stroke-width="0.1" text-anchor="middle">hCD45+</text>
<text x="232.25" y="366.60" font-size="4.3" fill="#222" stroke="#222" stroke-width="0.1" text-anchor="middle">0.058</text>
<text x="220.95" y="335.40" font-size="6.4" fill="#111" stroke="#111" stroke-width="0.1" text-anchor="middle">BDA-41</text>
<line x1="18.60" y1="374.80" x2="18.60" y2="406.20" stroke="#222" stroke-width="0.9"/>
<path d="M18.60,371.80 L17.00,375.40 L20.20,375.40 Z" fill="#222"/>
<line x1="18.60" y1="406.20" x2="45.40" y2="406.20" stroke="#222" stroke-width="0.9"/>
<path d="M48.40,406.20 L44.80,404.60 L44.80,407.80 Z" fill="#222"/>
<text x="12.60" y="389.60" font-size="6.8" fill="#222" stroke="#222" stroke-width="0.2" text-anchor="middle" textLength="18.8" lengthAdjust="spacingAndGlyphs" transform="rotate(-90 12.60 389.60)">mCD45</text>
<text x="26.20" y="413.80" font-size="7.0" fill="#222" stroke="#222" stroke-width="0.2" textLength="16.8" lengthAdjust="spacingAndGlyphs">hCD45</text>
<text x="263.10" y="328.10" font-size="10.5" fill="#000" font-weight="bold">E</text>
<text x="362.00" y="325.60" font-size="8.2" fill="#111" textLength="73.6" lengthAdjust="spacingAndGlyphs">AML 9 BM Week 10</text>
<rect x="294.50" y="340.30" width="53.00" height="51.60" fill="#ffffff" stroke="#1a1a1a" stroke-width="0.8"/>
<line x1="294.50" y1="340.30" x2="294.50" y2="391.90" stroke="#111" stroke-width="1.2"/>
<line x1="294.50" y1="391.90" x2="347.50" y2="391.90" stroke="#111" stroke-width="1.2"/>
<line x1="292.90" y1="345.31" x2="294.50" y2="345.31" stroke="#111" stroke-width="0.7"/>
<text x="289.50" y="347.31" font-size="6.1" fill="#111" text-anchor="end">10<tspan font-size="4.15" dy="-2.56">5</tspan></text>
<line x1="292.90" y1="357.59" x2="294.50" y2="357.59" stroke="#111" stroke-width="0.7"/>
<text x="289.50" y="359.59" font-size="6.1" fill="#111" text-anchor="end">10<tspan font-size="4.15" dy="-2.56">4</tspan></text>
<line x1="292.90" y1="370.74" x2="294.50" y2="370.74" stroke="#111" stroke-width="0.7"/>
<text x="289.50" y="372.74" font-size="6.1" fill="#111" text-anchor="end">10<tspan font-size="4.15" dy="-2.56">3</tspan></text>
<line x1="292.90" y1="379.26" x2="294.50" y2="379.26" stroke="#111" stroke-width="0.7"/>
<text x="288.50" y="381.26" font-size="6.1" fill="#111" stroke="#111" stroke-width="0.1" text-anchor="end">0</text>
<line x1="293.50" y1="348.56" x2="294.50" y2="348.56" stroke="#333" stroke-width="0.5"/>
<line x1="293.50" y1="350.62" x2="294.50" y2="350.62" stroke="#333" stroke-width="0.5"/>
<line x1="293.50" y1="352.17" x2="294.50" y2="352.17" stroke="#333" stroke-width="0.5"/>
<line x1="293.50" y1="353.72" x2="294.50" y2="353.72" stroke="#333" stroke-width="0.5"/>
<line x1="293.50" y1="360.94" x2="294.50" y2="360.94" stroke="#333" stroke-width="0.5"/>
<line x1="293.50" y1="363.52" x2="294.50" y2="363.52" stroke="#333" stroke-width="0.5"/>
<line x1="293.50" y1="366.10" x2="294.50" y2="366.10" stroke="#333" stroke-width="0.5"/>
<line x1="293.50" y1="367.13" x2="294.50" y2="367.13" stroke="#333" stroke-width="0.5"/>
<line x1="293.50" y1="375.39" x2="294.50" y2="375.39" stroke="#333" stroke-width="0.5"/>
<line x1="293.50" y1="382.61" x2="294.50" y2="382.61" stroke="#333" stroke-width="0.5"/>
<line x1="293.50" y1="385.71" x2="294.50" y2="385.71" stroke="#333" stroke-width="0.5"/>
<line x1="293.50" y1="388.80" x2="294.50" y2="388.80" stroke="#333" stroke-width="0.5"/>
<line x1="295.56" y1="391.90" x2="295.56" y2="393.50" stroke="#111" stroke-width="0.7"/>
<text x="295.56" y="402.30" font-size="6.1" fill="#111" text-anchor="middle">−10<tspan font-size="4.15" dy="-2.56">3</tspan></text>
<line x1="306.95" y1="391.90" x2="306.95" y2="393.50" stroke="#111" stroke-width="0.7"/>
<text x="306.95" y="402.30" font-size="6.1" fill="#111" stroke="#111" stroke-width="0.1" text-anchor="middle">0</text>
<line x1="316.23" y1="391.90" x2="316.23" y2="393.50" stroke="#111" stroke-width="0.7"/>
<text x="316.23" y="402.30" font-size="6.1" fill="#111" text-anchor="middle">10<tspan font-size="4.15" dy="-2.56">3</tspan></text>
<line x1="329.75" y1="391.90" x2="329.75" y2="393.50" stroke="#111" stroke-width="0.7"/>
<text x="329.75" y="402.30" font-size="6.1" fill="#111" text-anchor="middle">10<tspan font-size="4.15" dy="-2.56">4</tspan></text>
<line x1="343.52" y1="391.90" x2="343.52" y2="393.50" stroke="#111" stroke-width="0.7"/>
<text x="343.52" y="402.30" font-size="6.1" fill="#111" text-anchor="middle">10<tspan font-size="4.15" dy="-2.56">5</tspan></text>
<line x1="299.80" y1="391.90" x2="299.80" y2="392.90" stroke="#333" stroke-width="0.5"/>
<line x1="301.92" y1="391.90" x2="301.92" y2="392.90" stroke="#333" stroke-width="0.5"/>
<line x1="310.40" y1="391.90" x2="310.40" y2="392.90" stroke="#333" stroke-width="0.5"/>
<line x1="313.58" y1="391.90" x2="313.58" y2="392.90" stroke="#333" stroke-width="0.5"/>
<line x1="321.00" y1="391.90" x2="321.00" y2="392.90" stroke="#333" stroke-width="0.5"/>
<line x1="323.65" y1="391.90" x2="323.65" y2="392.90" stroke="#333" stroke-width="0.5"/>
<line x1="325.24" y1="391.90" x2="325.24" y2="392.90" stroke="#333" stroke-width="0.5"/>
<line x1="326.30" y1="391.90" x2="326.30" y2="392.90" stroke="#333" stroke-width="0.5"/>
<line x1="334.25" y1="391.90" x2="334.25" y2="392.90" stroke="#333" stroke-width="0.5"/>
<line x1="336.90" y1="391.90" x2="336.90" y2="392.90" stroke="#333" stroke-width="0.5"/>
<line x1="339.02" y1="391.90" x2="339.02" y2="392.90" stroke="#333" stroke-width="0.5"/>
<line x1="340.61" y1="391.90" x2="340.61" y2="392.90" stroke="#333" stroke-width="0.5"/>
<path d="M307.23,357.00 L306.80,358.02 L305.80,359.05 L305.29,360.07 L304.62,361.10 L304.48,362.12 L304.06,363.14 L303.64,364.17 L303.05,365.19 L303.56,366.22 L302.84,367.24 L302.92,368.26 L302.72,369.29 L303.00,370.31 L303.27,371.34 L302.67,372.36 L303.16,373.38 L302.50,374.41 L303.32,375.43 L302.79,376.46 L303.31,377.48 L303.30,378.50 L303.23,379.53 L304.11,380.55 L305.24,381.58 L307.06,382.60 L312.28,382.60 L313.67,381.58 L314.03,380.55 L314.57,379.53 L314.92,378.50 L314.96,377.48 L315.68,376.46 L315.58,375.43 L315.74,374.41 L316.08,373.38 L315.27,372.36 L315.91,371.34 L315.53,370.31 L315.10,369.29 L315.85,368.26 L315.11,367.24 L315.12,366.22 L314.46,365.19 L315.22,364.17 L314.31,363.14 L313.66,362.12 L313.82,361.10 L313.32,360.07 L312.10,359.05 L311.83,358.02 L310.31,357.00 Z" fill="#111111"/>
<rect x="302.50" y="377.22" width="0.8" height="0.8" fill="#111111"/>
<rect x="312.83" y="359.39" width="0.8" height="0.8" fill="#111111"/>
<rect x="306.47" y="357.74" width="0.8" height="0.8" fill="#111111"/>
<rect x="301.67" y="374.14" width="0.8" height="0.8" fill="#111111"/>
<rect x="315.54" y="380.30" width="0.8" height="0.8" fill="#111111"/>
<rect x="302.97" y="359.92" width="0.8" height="0.8" fill="#111111"/>
<rect x="301.22" y="377.49" width="0.8" height="0.8" fill="#111111"/>
<rect x="302.88" y="363.85" width="0.8" height="0.8" fill="#111111"/>
<rect x="304.57" y="381.60" width="0.8" height="0.8" fill="#111111"/>
<rect x="302.08" y="369.18" width="0.8" height="0.8" fill="#111111"/>
<rect x="316.96" y="372.66" width="0.8" height="0.8" fill="#111111"/>
<rect x="315.28" y="373.29" width="0.8" height="0.8" fill="#111111"/>
<rect x="301.25" y="378.88" width="0.8" height="0.8" fill="#111111"/>
<rect x="312.54" y="381.91" width="0.8" height="0.8" fill="#111111"/>
<rect x="303.26" y="363.52" width="0.8" height="0.8" fill="#111111"/>
<rect x="316.55" y="363.08" width="0.8" height="0.8" fill="#111111"/>
<rect x="302.63" y="366.60" width="0.8" height="0.8" fill="#111111"/>
<rect x="304.40" y="360.38" width="0.8" height="0.8" fill="#111111"/>
<rect x="302.71" y="380.64" width="0.8" height="0.8" fill="#111111"/>
<rect x="316.10" y="374.65" width="0.8" height="0.8" fill="#111111"/>
<rect x="316.55" y="371.30" width="0.8" height="0.8" fill="#111111"/>
<rect x="313.99" y="362.81" width="0.8" height="0.8" fill="#111111"/>
<rect x="301.19" y="375.36" width="0.8" height="0.8" fill="#111111"/>
<rect x="314.97" y="365.34" width="0.8" height="0.8" fill="#111111"/>
<rect x="312.99" y="360.16" width="0.8" height="0.8" fill="#111111"/>
<rect x="316.52" y="374.67" width="0.8" height="0.8" fill="#111111"/>
<rect x="305.74" y="358.08" width="0.8" height="0.8" fill="#111111"/>
<rect x="303.55" y="360.60" width="0.8" height="0.8" fill="#111111"/>
<rect x="314.85" y="379.59" width="0.8" height="0.8" fill="#111111"/>
<rect x="316.93" y="370.86" width="0.8" height="0.8" fill="#111111"/>
<rect x="303.59" y="380.53" width="0.8" height="0.8" fill="#111111"/>
<rect x="304.52" y="357.84" width="0.8" height="0.8" fill="#111111"/>
<rect x="314.60" y="363.63" width="0.8" height="0.8" fill="#111111"/>
<rect x="315.32" y="362.39" width="0.8" height="0.8" fill="#111111"/>
<rect x="302.29" y="377.93" width="0.8" height="0.8" fill="#111111"/>
<rect x="302.60" y="365.24" width="0.8" height="0.8" fill="#111111"/>
<rect x="316.10" y="374.87" width="0.8" height="0.8" fill="#111111"/>
<rect x="303.92" y="381.81" width="0.8" height="0.8" fill="#111111"/>
<rect x="315.48" y="379.74" width="0.8" height="0.8" fill="#111111"/>
<rect x="302.29" y="367.70" width="0.8" height="0.8" fill="#111111"/>
<rect x="302.28" y="369.35" width="0.8" height="0.8" fill="#111111"/>
<rect x="304.54" y="382.12" width="0.8" height="0.8" fill="#111111"/>
<rect x="314.90" y="366.72" width="0.8" height="0.8" fill="#111111"/>
<rect x="301.67" y="371.83" width="0.8" height="0.8" fill="#111111"/>
<rect x="314.80" y="379.88" width="0.8" height="0.8" fill="#111111"/>
<rect x="302.65" y="378.67" width="0.8" height="0.8" fill="#111111"/>
<rect x="315.49" y="378.76" width="0.8" height="0.8" fill="#111111"/>
<rect x="301.51" y="366.55" width="0.8" height="0.8" fill="#111111"/>
<rect x="313.92" y="381.09" width="0.8" height="0.8" fill="#111111"/>
<rect x="315.46" y="364.90" width="0.8" height="0.8" fill="#111111"/>
<rect x="315.32" y="367.19" width="0.8" height="0.8" fill="#111111"/>
<rect x="313.25" y="358.24" width="0.8" height="0.8" fill="#111111"/>
<rect x="304.55" y="381.55" width="0.8" height="0.8" fill="#111111"/>
<rect x="316.81" y="374.51" width="0.8" height="0.8" fill="#111111"/>
<rect x="315.11" y="363.99" width="0.8" height="0.8" fill="#111111"/>
<rect x="314.75" y="363.36" width="0.8" height="0.8" fill="#111111"/>
<rect x="316.33" y="376.46" width="0.8" height="0.8" fill="#111111"/>
<rect x="315.20" y="365.00" width="0.8" height="0.8" fill="#111111"/>
<rect x="303.81" y="380.92" width="0.8" height="0.8" fill="#111111"/>
<rect x="304.02" y="358.96" width="0.8" height="0.8" fill="#111111"/>
<rect x="315.85" y="377.55" width="0.8" height="0.8" fill="#111111"/>
<rect x="315.48" y="374.08" width="0.8" height="0.8" fill="#111111"/>
<rect x="302.89" y="380.06" width="0.8" height="0.8" fill="#111111"/>
<rect x="315.22" y="363.02" width="0.8" height="0.8" fill="#111111"/>
<rect x="301.27" y="368.91" width="0.8" height="0.8" fill="#111111"/>
<rect x="315.54" y="380.29" width="0.8" height="0.8" fill="#111111"/>
<rect x="315.36" y="372.85" width="0.8" height="0.8" fill="#111111"/>
<rect x="301.92" y="374.51" width="0.8" height="0.8" fill="#111111"/>
<rect x="311.33" y="357.99" width="0.8" height="0.8" fill="#111111"/>
<rect x="313.82" y="360.48" width="0.8" height="0.8" fill="#111111"/>
<rect x="316.42" y="367.96" width="0.8" height="0.8" fill="#111111"/>
<rect x="312.13" y="358.43" width="0.8" height="0.8" fill="#111111"/>
<rect x="314.81" y="379.30" width="0.8" height="0.8" fill="#111111"/>
<rect x="315.34" y="368.99" width="0.8" height="0.8" fill="#111111"/>
<rect x="315.66" y="365.73" width="0.8" height="0.8" fill="#111111"/>
<rect x="315.08" y="378.35" width="0.8" height="0.8" fill="#111111"/>
<rect x="315.77" y="365.19" width="0.9" height="0.9" fill="#111111"/>
<rect x="317.90" y="370.82" width="0.9" height="0.9" fill="#111111"/>
<rect x="316.27" y="362.19" width="0.9" height="0.9" fill="#111111"/>
<rect x="320.30" y="359.24" width="0.9" height="0.9" fill="#111111"/>
<rect x="321.12" y="375.87" width="0.9" height="0.9" fill="#111111"/>
<rect x="318.10" y="366.25" width="0.9" height="0.9" fill="#111111"/>
<rect x="317.49" y="365.77" width="0.9" height="0.9" fill="#111111"/>
<rect x="319.21" y="375.07" width="0.9" height="0.9" fill="#111111"/>
<rect x="316.56" y="378.36" width="0.9" height="0.9" fill="#111111"/>
<rect x="319.91" y="366.27" width="0.9" height="0.9" fill="#111111"/>
<rect x="319.70" y="373.77" width="0.9" height="0.9" fill="#111111"/>
<rect x="319.27" y="372.87" width="0.9" height="0.9" fill="#111111"/>
<rect x="316.97" y="377.92" width="0.9" height="0.9" fill="#111111"/>
<rect x="318.28" y="371.47" width="0.9" height="0.9" fill="#111111"/>
<rect x="317.25" y="376.14" width="0.9" height="0.9" fill="#111111"/>
<rect x="320.35" y="363.11" width="0.9" height="0.9" fill="#111111"/>
<rect x="318.08" y="366.93" width="0.9" height="0.9" fill="#111111"/>
<rect x="316.12" y="369.63" width="0.9" height="0.9" fill="#111111"/>
<rect x="318.93" y="372.22" width="0.9" height="0.9" fill="#111111"/>
<rect x="317.90" y="374.21" width="0.9" height="0.9" fill="#111111"/>
<rect x="317.03" y="371.42" width="0.9" height="0.9" fill="#111111"/>
<rect x="316.38" y="365.83" width="0.9" height="0.9" fill="#111111"/>
<rect x="318.47" y="363.51" width="0.9" height="0.9" fill="#111111"/>
<rect x="319.85" y="375.98" width="0.9" height="0.9" fill="#111111"/>
<rect x="321.35" y="378.94" width="0.9" height="0.9" fill="#111111"/>
<rect x="317.98" y="362.95" width="0.9" height="0.9" fill="#111111"/>
<rect x="318.38" y="365.27" width="0.9" height="0.9" fill="#111111"/>
<rect x="319.58" y="369.42" width="0.9" height="0.9" fill="#111111"/>
<rect x="315.78" y="369.47" width="0.9" height="0.9" fill="#111111"/>
<rect x="315.71" y="365.90" width="0.9" height="0.9" fill="#111111"/>
<rect x="317.30" y="370.23" width="0.9" height="0.9" fill="#111111"/>
<rect x="318.21" y="370.08" width="0.9" height="0.9" fill="#111111"/>
<rect x="316.38" y="375.50" width="0.9" height="0.9" fill="#111111"/>
<rect x="318.12" y="364.92" width="0.9" height="0.9" fill="#111111"/>
<rect x="318.06" y="372.86" width="0.9" height="0.9" fill="#111111"/>
<rect x="320.15" y="372.83" width="0.9" height="0.9" fill="#111111"/>
<rect x="314.20" y="370.23" width="0.9" height="0.9" fill="#111111"/>
<rect x="321.16" y="377.47" width="0.9" height="0.9" fill="#111111"/>
<rect x="318.59" y="360.20" width="0.9" height="0.9" fill="#111111"/>
<rect x="315.83" y="365.16" width="0.9" height="0.9" fill="#111111"/>
<rect x="318.82" y="370.35" width="0.9" height="0.9" fill="#111111"/>
<rect x="323.29" y="374.02" width="0.9" height="0.9" fill="#111111"/>
<rect x="317.29" y="368.65" width="0.9" height="0.9" fill="#111111"/>
<rect x="317.22" y="373.39" width="0.9" height="0.9" fill="#111111"/>
<rect x="313.90" y="368.86" width="0.9" height="0.9" fill="#111111"/>
<rect x="317.84" y="371.20" width="0.9" height="0.9" fill="#111111"/>
<rect x="319.38" y="371.53" width="0.9" height="0.9" fill="#111111"/>
<rect x="317.78" y="376.27" width="0.9" height="0.9" fill="#111111"/>
<rect x="317.25" y="374.67" width="0.9" height="0.9" fill="#111111"/>
<rect x="317.33" y="372.26" width="0.9" height="0.9" fill="#111111"/>
<rect x="318.82" y="362.74" width="0.9" height="0.9" fill="#111111"/>
<rect x="319.59" y="372.00" width="0.9" height="0.9" fill="#111111"/>
<rect x="321.35" y="360.67" width="0.9" height="0.9" fill="#111111"/>
<rect x="315.43" y="371.34" width="0.9" height="0.9" fill="#111111"/>
<rect x="316.62" y="369.36" width="0.9" height="0.9" fill="#111111"/>
<rect x="321.10" y="369.70" width="0.9" height="0.9" fill="#111111"/>
<rect x="321.31" y="368.97" width="0.9" height="0.9" fill="#111111"/>
<rect x="317.60" y="367.54" width="0.9" height="0.9" fill="#111111"/>
<rect x="318.58" y="370.83" width="0.9" height="0.9" fill="#111111"/>
<rect x="318.19" y="363.95" width="0.9" height="0.9" fill="#111111"/>
<rect x="316.66" y="361.56" width="0.9" height="0.9" fill="#111111"/>
<rect x="318.28" y="372.85" width="0.9" height="0.9" fill="#111111"/>
<rect x="318.79" y="374.92" width="0.9" height="0.9" fill="#111111"/>
<rect x="317.84" y="376.77" width="0.9" height="0.9" fill="#111111"/>
<rect x="319.85" y="368.64" width="0.9" height="0.9" fill="#111111"/>
<rect x="315.69" y="378.84" width="0.9" height="0.9" fill="#111111"/>
<rect x="318.12" y="379.34" width="0.9" height="0.9" fill="#111111"/>
<rect x="317.07" y="375.41" width="0.9" height="0.9" fill="#111111"/>
<rect x="319.07" y="374.43" width="0.9" height="0.9" fill="#111111"/>
<rect x="315.69" y="368.23" width="0.9" height="0.9" fill="#111111"/>
<rect x="339.91" y="372.46" width="0.9" height="0.9" fill="#111111"/>
<rect x="329.73" y="371.10" width="0.9" height="0.9" fill="#111111"/>
<rect x="336.99" y="368.68" width="0.9" height="0.9" fill="#111111"/>
<rect x="328.80" y="371.62" width="0.9" height="0.9" fill="#111111"/>
<rect x="342.48" y="369.76" width="0.9" height="0.9" fill="#111111"/>
<rect x="335.50" y="367.84" width="0.9" height="0.9" fill="#111111"/>
<rect x="329.99" y="371.29" width="0.9" height="0.9" fill="#111111"/>
<rect x="339.73" y="372.02" width="0.9" height="0.9" fill="#111111"/>
<rect x="338.80" y="373.13" width="0.9" height="0.9" fill="#111111"/>
<rect x="339.34" y="367.42" width="0.9" height="0.9" fill="#111111"/>
<rect x="333.64" y="372.93" width="0.9" height="0.9" fill="#111111"/>
<rect x="335.13" y="375.91" width="0.9" height="0.9" fill="#111111"/>
<rect x="335.09" y="374.31" width="0.9" height="0.9" fill="#111111"/>
<rect x="332.11" y="372.12" width="0.9" height="0.9" fill="#111111"/>
<rect x="329.63" y="368.59" width="0.9" height="0.9" fill="#111111"/>
<rect x="331.43" y="371.26" width="0.9" height="0.9" fill="#111111"/>
<rect x="334.79" y="374.87" width="0.9" height="0.9" fill="#111111"/>
<rect x="342.92" y="371.39" width="0.9" height="0.9" fill="#111111"/>
<rect x="338.97" y="372.58" width="0.9" height="0.9" fill="#111111"/>
<rect x="340.76" y="373.43" width="0.9" height="0.9" fill="#111111"/>
<rect x="336.65" y="373.00" width="0.9" height="0.9" fill="#111111"/>
<rect x="329.29" y="371.77" width="0.9" height="0.9" fill="#111111"/>
<rect x="332.46" y="374.03" width="0.9" height="0.9" fill="#111111"/>
<rect x="335.48" y="370.68" width="0.9" height="0.9" fill="#111111"/>
<rect x="333.36" y="373.55" width="0.9" height="0.9" fill="#111111"/>
<rect x="334.25" y="374.79" width="0.9" height="0.9" fill="#111111"/>
<rect x="336.62" y="373.48" width="0.9" height="0.9" fill="#111111"/>
<rect x="333.64" y="371.43" width="0.9" height="0.9" fill="#111111"/>
<rect x="335.26" y="373.08" width="0.9" height="0.9" fill="#111111"/>
<rect x="332.32" y="371.26" width="0.9" height="0.9" fill="#111111"/>
<rect x="336.05" y="372.71" width="0.9" height="0.9" fill="#111111"/>
<rect x="330.58" y="370.16" width="0.9" height="0.9" fill="#111111"/>
<rect x="335.97" y="372.32" width="0.9" height="0.9" fill="#111111"/>
<rect x="335.97" y="374.63" width="0.9" height="0.9" fill="#111111"/>
<rect x="333.45" y="372.48" width="0.9" height="0.9" fill="#111111"/>
<rect x="342.04" y="374.71" width="0.9" height="0.9" fill="#111111"/>
<rect x="331.94" y="377.64" width="0.9" height="0.9" fill="#111111"/>
<rect x="338.54" y="371.74" width="0.9" height="0.9" fill="#111111"/>
<rect x="336.67" y="368.89" width="0.9" height="0.9" fill="#111111"/>
<rect x="328.38" y="366.51" width="0.9" height="0.9" fill="#111111"/>
<rect x="340.57" y="366.59" width="0.9" height="0.9" fill="#111111"/>
<rect x="339.61" y="365.79" width="0.9" height="0.9" fill="#111111"/>
<rect x="339.69" y="372.00" width="0.9" height="0.9" fill="#111111"/>
<rect x="330.97" y="366.82" width="0.9" height="0.9" fill="#111111"/>
<rect x="338.95" y="369.02" width="0.9" height="0.9" fill="#111111"/>
<rect x="334.46" y="371.38" width="0.9" height="0.9" fill="#111111"/>
<rect x="339.84" y="373.61" width="0.9" height="0.9" fill="#111111"/>
<rect x="329.62" y="378.62" width="0.9" height="0.9" fill="#111111"/>
<rect x="329.45" y="371.40" width="0.9" height="0.9" fill="#111111"/>
<rect x="337.63" y="375.18" width="0.9" height="0.9" fill="#111111"/>
<rect x="338.17" y="375.69" width="0.9" height="0.9" fill="#111111"/>
<rect x="336.38" y="370.75" width="0.9" height="0.9" fill="#111111"/>
<rect x="329.56" y="370.78" width="0.9" height="0.9" fill="#111111"/>
<rect x="330.32" y="376.32" width="0.9" height="0.9" fill="#111111"/>
<rect x="330.13" y="372.50" width="0.9" height="0.9" fill="#111111"/>
<rect x="333.69" y="376.38" width="0.9" height="0.9" fill="#111111"/>
<rect x="339.14" y="369.90" width="0.9" height="0.9" fill="#111111"/>
<rect x="339.21" y="374.64" width="0.9" height="0.9" fill="#111111"/>
<rect x="335.14" y="372.17" width="0.9" height="0.9" fill="#111111"/>
<rect x="338.88" y="376.89" width="0.9" height="0.9" fill="#111111"/>
<rect x="336.61" y="373.28" width="0.9" height="0.9" fill="#111111"/>
<rect x="336.02" y="366.66" width="0.9" height="0.9" fill="#111111"/>
<rect x="338.90" y="366.55" width="0.9" height="0.9" fill="#111111"/>
<rect x="333.96" y="368.84" width="0.9" height="0.9" fill="#111111"/>
<rect x="336.34" y="369.48" width="0.9" height="0.9" fill="#111111"/>
<rect x="334.32" y="375.46" width="0.9" height="0.9" fill="#111111"/>
<rect x="336.79" y="367.94" width="0.9" height="0.9" fill="#111111"/>
<rect x="329.19" y="377.41" width="0.9" height="0.9" fill="#111111"/>
<rect x="337.02" y="377.25" width="0.9" height="0.9" fill="#111111"/>
<rect x="332.86" y="367.69" width="0.9" height="0.9" fill="#111111"/>
<rect x="338.72" y="368.07" width="0.9" height="0.9" fill="#111111"/>
<rect x="325.88" y="369.69" width="0.9" height="0.9" fill="#111111"/>
<rect x="331.17" y="366.82" width="0.9" height="0.9" fill="#111111"/>
<rect x="335.29" y="376.01" width="0.9" height="0.9" fill="#111111"/>
<rect x="340.78" y="374.17" width="0.9" height="0.9" fill="#111111"/>
<rect x="327.21" y="371.05" width="0.9" height="0.9" fill="#111111"/>
<rect x="333.50" y="367.89" width="0.9" height="0.9" fill="#111111"/>
<rect x="332.50" y="370.44" width="0.9" height="0.9" fill="#111111"/>
<rect x="332.13" y="375.40" width="0.9" height="0.9" fill="#111111"/>
<rect x="334.55" y="371.77" width="0.9" height="0.9" fill="#111111"/>
<rect x="329.20" y="367.99" width="0.9" height="0.9" fill="#111111"/>
<rect x="348.06" y="369.63" width="0.9" height="0.9" fill="#111111"/>
<rect x="338.11" y="370.58" width="0.9" height="0.9" fill="#111111"/>
<rect x="329.24" y="371.35" width="0.9" height="0.9" fill="#111111"/>
<rect x="337.63" y="369.85" width="0.9" height="0.9" fill="#111111"/>
<rect x="334.55" y="372.28" width="0.9" height="0.9" fill="#111111"/>
<rect x="335.59" y="371.25" width="0.9" height="0.9" fill="#111111"/>
<rect x="326.98" y="364.44" width="0.9" height="0.9" fill="#111111"/>
<rect x="329.53" y="368.62" width="0.9" height="0.9" fill="#111111"/>
<rect x="335.83" y="375.71" width="0.9" height="0.9" fill="#111111"/>
<rect x="338.62" y="369.95" width="0.9" height="0.9" fill="#111111"/>
<rect x="332.17" y="377.30" width="0.9" height="0.9" fill="#111111"/>
<rect x="337.40" y="376.42" width="0.9" height="0.9" fill="#111111"/>
<rect x="335.61" y="370.97" width="0.9" height="0.9" fill="#111111"/>
<rect x="328.75" y="366.77" width="0.9" height="0.9" fill="#111111"/>
<rect x="331.81" y="374.55" width="0.9" height="0.9" fill="#111111"/>
<rect x="328.77" y="371.43" width="0.9" height="0.9" fill="#111111"/>
<rect x="332.84" y="368.01" width="0.9" height="0.9" fill="#111111"/>
<rect x="334.27" y="370.53" width="0.9" height="0.9" fill="#111111"/>
<rect x="332.46" y="368.95" width="0.9" height="0.9" fill="#111111"/>
<rect x="331.18" y="376.22" width="0.9" height="0.9" fill="#111111"/>
<rect x="338.01" y="373.09" width="0.9" height="0.9" fill="#111111"/>
<rect x="339.52" y="365.83" width="0.9" height="0.9" fill="#111111"/>
<rect x="334.11" y="364.81" width="0.9" height="0.9" fill="#111111"/>
<rect x="333.40" y="371.24" width="0.9" height="0.9" fill="#111111"/>
<rect x="332.28" y="375.88" width="0.9" height="0.9" fill="#111111"/>
<rect x="336.27" y="370.31" width="0.9" height="0.9" fill="#111111"/>
<rect x="330.74" y="368.73" width="0.9" height="0.9" fill="#111111"/>
<rect x="335.00" y="366.84" width="0.9" height="0.9" fill="#111111"/>
<rect x="332.42" y="369.02" width="0.9" height="0.9" fill="#111111"/>
<rect x="336.47" y="370.27" width="0.9" height="0.9" fill="#111111"/>
<rect x="332.97" y="370.82" width="0.9" height="0.9" fill="#111111"/>
<rect x="338.32" y="368.88" width="0.9" height="0.9" fill="#111111"/>
<rect x="344.72" y="369.37" width="0.9" height="0.9" fill="#111111"/>
<rect x="333.97" y="375.91" width="0.9" height="0.9" fill="#111111"/>
<rect x="333.92" y="372.23" width="0.9" height="0.9" fill="#111111"/>
<rect x="331.46" y="372.76" width="0.9" height="0.9" fill="#111111"/>
<rect x="332.30" y="378.41" width="0.9" height="0.9" fill="#111111"/>
<rect x="334.89" y="375.70" width="0.9" height="0.9" fill="#111111"/>
<rect x="338.24" y="370.72" width="0.9" height="0.9" fill="#111111"/>
<rect x="337.47" y="367.05" width="0.9" height="0.9" fill="#111111"/>
<rect x="335.32" y="371.83" width="0.9" height="0.9" fill="#111111"/>
<rect x="334.29" y="372.65" width="0.9" height="0.9" fill="#111111"/>
<rect x="340.39" y="369.23" width="0.9" height="0.9" fill="#111111"/>
<rect x="334.52" y="373.93" width="0.9" height="0.9" fill="#111111"/>
<rect x="342.97" y="377.27" width="0.9" height="0.9" fill="#111111"/>
<rect x="335.14" y="375.52" width="0.9" height="0.9" fill="#111111"/>
<rect x="338.57" y="366.81" width="0.9" height="0.9" fill="#111111"/>
<rect x="335.14" y="374.84" width="0.9" height="0.9" fill="#111111"/>
<rect x="334.21" y="368.79" width="0.9" height="0.9" fill="#111111"/>
<rect x="333.41" y="373.40" width="0.9" height="0.9" fill="#111111"/>
<rect x="333.89" y="375.02" width="0.9" height="0.9" fill="#111111"/>
<rect x="330.75" y="377.11" width="0.9" height="0.9" fill="#111111"/>
<rect x="336.63" y="370.14" width="0.9" height="0.9" fill="#111111"/>
<rect x="333.14" y="374.44" width="0.9" height="0.9" fill="#111111"/>
<rect x="337.70" y="368.01" width="0.9" height="0.9" fill="#111111"/>
<rect x="336.75" y="366.54" width="0.9" height="0.9" fill="#111111"/>
<rect x="329.18" y="371.87" width="0.9" height="0.9" fill="#111111"/>
<rect x="334.85" y="381.53" width="0.9" height="0.9" fill="#111111"/>
<rect x="334.55" y="374.56" width="0.9" height="0.9" fill="#111111"/>
<rect x="332.81" y="370.56" width="0.9" height="0.9" fill="#111111"/>
<rect x="335.98" y="367.92" width="0.9" height="0.9" fill="#111111"/>
<rect x="339.22" y="371.00" width="0.9" height="0.9" fill="#111111"/>
<rect x="342.45" y="374.48" width="0.9" height="0.9" fill="#111111"/>
<rect x="338.16" y="382.34" width="0.9" height="0.9" fill="#111111"/>
<rect x="339.25" y="371.54" width="0.9" height="0.9" fill="#111111"/>
<rect x="340.00" y="369.07" width="0.9" height="0.9" fill="#111111"/>
<rect x="337.98" y="369.75" width="0.9" height="0.9" fill="#111111"/>
<rect x="329.52" y="372.90" width="0.9" height="0.9" fill="#111111"/>
<rect x="335.68" y="367.22" width="0.9" height="0.9" fill="#111111"/>
<rect x="330.67" y="376.83" width="0.9" height="0.9" fill="#111111"/>
<rect x="337.92" y="367.11" width="0.9" height="0.9" fill="#111111"/>
<rect x="332.43" y="379.99" width="0.9" height="0.9" fill="#111111"/>
<rect x="341.03" y="371.69" width="0.9" height="0.9" fill="#111111"/>
<rect x="335.28" y="375.99" width="0.9" height="0.9" fill="#111111"/>
<rect x="331.10" y="374.93" width="0.9" height="0.9" fill="#111111"/>
<rect x="338.47" y="368.85" width="0.9" height="0.9" fill="#111111"/>
<rect x="333.40" y="371.37" width="0.9" height="0.9" fill="#111111"/>
<rect x="332.60" y="364.52" width="0.9" height="0.9" fill="#111111"/>
<rect x="329.21" y="372.28" width="0.9" height="0.9" fill="#111111"/>
<rect x="345.15" y="376.61" width="0.9" height="0.9" fill="#111111"/>
<rect x="334.63" y="363.86" width="0.9" height="0.9" fill="#111111"/>
<rect x="330.33" y="367.86" width="0.9" height="0.9" fill="#111111"/>
<rect x="332.97" y="372.51" width="0.9" height="0.9" fill="#111111"/>
<rect x="335.42" y="382.80" width="0.9" height="0.9" fill="#111111"/>
<rect x="334.69" y="372.38" width="0.9" height="0.9" fill="#111111"/>
<rect x="337.92" y="367.98" width="0.9" height="0.9" fill="#111111"/>
<rect x="333.45" y="378.39" width="0.9" height="0.9" fill="#111111"/>
<rect x="338.84" y="370.99" width="0.9" height="0.9" fill="#111111"/>
<rect x="339.76" y="373.35" width="0.9" height="0.9" fill="#111111"/>
<rect x="325.38" y="370.86" width="0.9" height="0.9" fill="#111111"/>
<rect x="337.45" y="371.03" width="0.9" height="0.9" fill="#111111"/>
<rect x="339.16" y="371.60" width="0.9" height="0.9" fill="#111111"/>
<rect x="336.19" y="374.47" width="0.9" height="0.9" fill="#111111"/>
<rect x="336.20" y="378.23" width="0.9" height="0.9" fill="#111111"/>
<rect x="335.21" y="373.62" width="0.9" height="0.9" fill="#111111"/>
<rect x="338.29" y="366.79" width="0.9" height="0.9" fill="#111111"/>
<rect x="335.74" y="373.46" width="0.9" height="0.9" fill="#111111"/>
<rect x="331.64" y="374.73" width="0.9" height="0.9" fill="#111111"/>
<rect x="328.88" y="372.65" width="0.9" height="0.9" fill="#111111"/>
<rect x="329.31" y="369.20" width="0.9" height="0.9" fill="#111111"/>
<rect x="338.17" y="372.36" width="0.9" height="0.9" fill="#111111"/>
<rect x="336.12" y="375.43" width="0.9" height="0.9" fill="#111111"/>
<rect x="334.18" y="366.93" width="0.9" height="0.9" fill="#111111"/>
<rect x="339.29" y="372.72" width="0.9" height="0.9" fill="#111111"/>
<rect x="333.31" y="366.20" width="0.9" height="0.9" fill="#111111"/>
<rect x="336.05" y="368.62" width="0.9" height="0.9" fill="#111111"/>
<rect x="329.41" y="372.34" width="0.9" height="0.9" fill="#111111"/>
<rect x="334.62" y="369.89" width="0.9" height="0.9" fill="#111111"/>
<rect x="337.09" y="371.72" width="0.9" height="0.9" fill="#111111"/>
<rect x="330.12" y="371.10" width="0.9" height="0.9" fill="#111111"/>
<rect x="335.57" y="372.99" width="0.9" height="0.9" fill="#111111"/>
<rect x="329.00" y="374.09" width="0.9" height="0.9" fill="#111111"/>
<rect x="339.49" y="377.15" width="0.9" height="0.9" fill="#111111"/>
<rect x="333.78" y="372.98" width="0.9" height="0.9" fill="#111111"/>
<rect x="339.40" y="368.73" width="0.9" height="0.9" fill="#111111"/>
<rect x="335.72" y="373.53" width="0.9" height="0.9" fill="#111111"/>
<rect x="338.74" y="372.19" width="0.9" height="0.9" fill="#111111"/>
<rect x="333.84" y="371.10" width="0.9" height="0.9" fill="#111111"/>
<rect x="339.04" y="374.41" width="0.9" height="0.9" fill="#111111"/>
<rect x="337.16" y="370.97" width="0.9" height="0.9" fill="#111111"/>
<rect x="326.22" y="372.02" width="0.9" height="0.9" fill="#111111"/>
<rect x="328.28" y="371.44" width="0.9" height="0.9" fill="#111111"/>
<rect x="331.08" y="375.16" width="0.9" height="0.9" fill="#111111"/>
<rect x="330.19" y="363.62" width="0.9" height="0.9" fill="#111111"/>
<rect x="328.24" y="371.99" width="0.9" height="0.9" fill="#111111"/>
<rect x="336.81" y="369.79" width="0.9" height="0.9" fill="#111111"/>
<rect x="334.79" y="371.07" width="0.9" height="0.9" fill="#111111"/>
<rect x="339.30" y="373.00" width="0.9" height="0.9" fill="#111111"/>
<rect x="332.84" y="374.72" width="0.9" height="0.9" fill="#111111"/>
<rect x="341.64" y="368.46" width="0.9" height="0.9" fill="#111111"/>
<rect x="342.08" y="374.20" width="0.9" height="0.9" fill="#111111"/>
<rect x="341.58" y="375.24" width="0.9" height="0.9" fill="#111111"/>
<rect x="335.49" y="371.98" width="0.9" height="0.9" fill="#111111"/>
<rect x="335.72" y="367.23" width="0.9" height="0.9" fill="#111111"/>
<rect x="336.83" y="369.68" width="0.9" height="0.9" fill="#111111"/>
<rect x="334.15" y="371.76" width="0.9" height="0.9" fill="#111111"/>
<rect x="338.39" y="373.21" width="0.9" height="0.9" fill="#111111"/>
<rect x="334.49" y="373.89" width="0.9" height="0.9" fill="#111111"/>
<rect x="337.50" y="370.22" width="0.9" height="0.9" fill="#111111"/>
<rect x="338.99" y="377.17" width="0.9" height="0.9" fill="#111111"/>
<rect x="331.52" y="372.14" width="0.9" height="0.9" fill="#111111"/>
<rect x="332.75" y="382.38" width="0.9" height="0.9" fill="#111111"/>
<rect x="331.02" y="378.04" width="0.9" height="0.9" fill="#111111"/>
<rect x="338.98" y="375.76" width="0.9" height="0.9" fill="#111111"/>
<rect x="336.32" y="378.42" width="0.9" height="0.9" fill="#111111"/>
<rect x="330.60" y="374.01" width="0.9" height="0.9" fill="#111111"/>
<rect x="337.39" y="379.66" width="0.9" height="0.9" fill="#111111"/>
<rect x="330.09" y="371.38" width="0.9" height="0.9" fill="#111111"/>
<rect x="339.91" y="380.26" width="0.9" height="0.9" fill="#111111"/>
<rect x="332.76" y="377.44" width="0.9" height="0.9" fill="#111111"/>
<rect x="335.54" y="373.81" width="0.9" height="0.9" fill="#111111"/>
<rect x="340.11" y="375.13" width="0.9" height="0.9" fill="#111111"/>
<rect x="334.14" y="379.85" width="0.9" height="0.9" fill="#111111"/>
<rect x="329.24" y="379.62" width="0.9" height="0.9" fill="#111111"/>
<rect x="339.08" y="377.54" width="0.9" height="0.9" fill="#111111"/>
<rect x="333.94" y="377.21" width="0.9" height="0.9" fill="#111111"/>
<rect x="334.15" y="376.52" width="0.9" height="0.9" fill="#111111"/>
<rect x="338.10" y="379.41" width="0.9" height="0.9" fill="#111111"/>
<rect x="332.85" y="377.57" width="0.9" height="0.9" fill="#111111"/>
<rect x="339.11" y="376.37" width="0.9" height="0.9" fill="#111111"/>
<rect x="334.92" y="384.27" width="0.9" height="0.9" fill="#111111"/>
<rect x="335.46" y="376.22" width="0.9" height="0.9" fill="#111111"/>
<rect x="333.27" y="373.49" width="0.9" height="0.9" fill="#111111"/>
<rect x="337.43" y="377.46" width="0.9" height="0.9" fill="#111111"/>
<rect x="335.52" y="372.25" width="0.9" height="0.9" fill="#111111"/>
<rect x="335.27" y="379.08" width="0.9" height="0.9" fill="#111111"/>
<rect x="331.24" y="377.94" width="0.9" height="0.9" fill="#111111"/>
<rect x="333.18" y="372.63" width="0.9" height="0.9" fill="#111111"/>
<rect x="333.18" y="375.56" width="0.9" height="0.9" fill="#111111"/>
<rect x="334.75" y="377.00" width="0.9" height="0.9" fill="#111111"/>
<rect x="338.07" y="381.91" width="0.9" height="0.9" fill="#111111"/>
<rect x="333.62" y="375.65" width="0.9" height="0.9" fill="#111111"/>
<rect x="332.99" y="378.52" width="0.9" height="0.9" fill="#111111"/>
<rect x="329.19" y="378.46" width="0.9" height="0.9" fill="#111111"/>
<rect x="330.43" y="379.80" width="0.9" height="0.9" fill="#111111"/>
<rect x="337.12" y="382.47" width="0.9" height="0.9" fill="#111111"/>
<rect x="334.59" y="373.42" width="0.9" height="0.9" fill="#111111"/>
<rect x="337.63" y="378.60" width="0.9" height="0.9" fill="#111111"/>
<rect x="333.90" y="377.43" width="0.9" height="0.9" fill="#111111"/>
<rect x="335.58" y="380.93" width="0.9" height="0.9" fill="#111111"/>
<rect x="338.17" y="376.93" width="0.9" height="0.9" fill="#111111"/>
<rect x="334.42" y="378.61" width="0.9" height="0.9" fill="#111111"/>
<rect x="334.11" y="377.48" width="0.9" height="0.9" fill="#111111"/>
<rect x="333.25" y="379.65" width="0.9" height="0.9" fill="#111111"/>
<rect x="337.14" y="375.34" width="0.9" height="0.9" fill="#111111"/>
<rect x="336.98" y="377.22" width="0.9" height="0.9" fill="#111111"/>
<rect x="331.72" y="377.31" width="0.9" height="0.9" fill="#111111"/>
<rect x="334.28" y="377.37" width="0.9" height="0.9" fill="#111111"/>
<rect x="329.73" y="376.38" width="0.9" height="0.9" fill="#111111"/>
<rect x="333.89" y="375.48" width="0.9" height="0.9" fill="#111111"/>
<rect x="336.67" y="376.18" width="0.9" height="0.9" fill="#111111"/>
<rect x="335.92" y="379.89" width="0.9" height="0.9" fill="#111111"/>
<rect x="336.16" y="378.59" width="0.9" height="0.9" fill="#111111"/>
<rect x="336.17" y="371.87" width="0.9" height="0.9" fill="#111111"/>
<rect x="329.44" y="374.95" width="0.9" height="0.9" fill="#111111"/>
<rect x="334.01" y="377.88" width="0.9" height="0.9" fill="#111111"/>
<rect x="335.64" y="376.90" width="0.9" height="0.9" fill="#111111"/>
<rect x="338.28" y="377.63" width="0.9" height="0.9" fill="#111111"/>
<rect x="333.97" y="378.58" width="0.9" height="0.9" fill="#111111"/>
<rect x="333.09" y="372.39" width="0.9" height="0.9" fill="#111111"/>
<rect x="336.52" y="382.40" width="0.9" height="0.9" fill="#111111"/>
<rect x="339.45" y="377.54" width="0.9" height="0.9" fill="#111111"/>
<rect x="335.58" y="375.01" width="0.9" height="0.9" fill="#111111"/>
<rect x="339.18" y="382.10" width="0.9" height="0.9" fill="#111111"/>
<rect x="331.12" y="377.29" width="0.9" height="0.9" fill="#111111"/>
<rect x="338.46" y="381.42" width="0.9" height="0.9" fill="#111111"/>
<rect x="331.22" y="377.52" width="0.9" height="0.9" fill="#111111"/>
<rect x="335.36" y="371.88" width="0.9" height="0.9" fill="#111111"/>
<rect x="333.95" y="377.67" width="0.9" height="0.9" fill="#111111"/>
<rect x="339.20" y="377.59" width="0.9" height="0.9" fill="#111111"/>
<rect x="332.01" y="379.49" width="0.9" height="0.9" fill="#111111"/>
<rect x="340.20" y="372.61" width="0.9" height="0.9" fill="#111111"/>
<rect x="330.39" y="375.12" width="0.9" height="0.9" fill="#111111"/>
<rect x="338.23" y="378.69" width="0.9" height="0.9" fill="#111111"/>
<rect x="340.02" y="377.20" width="0.9" height="0.9" fill="#111111"/>
<rect x="334.38" y="380.93" width="0.9" height="0.9" fill="#111111"/>
<rect x="333.76" y="376.24" width="0.9" height="0.9" fill="#111111"/>
<rect x="332.53" y="371.23" width="0.9" height="0.9" fill="#111111"/>
<rect x="333.55" y="375.63" width="0.9" height="0.9" fill="#111111"/>
<rect x="330.16" y="379.07" width="0.9" height="0.9" fill="#111111"/>
<rect x="337.37" y="370.55" width="0.9" height="0.9" fill="#111111"/>
<rect x="336.33" y="373.56" width="0.9" height="0.9" fill="#111111"/>
<rect x="333.56" y="373.97" width="0.9" height="0.9" fill="#111111"/>
<rect x="332.77" y="380.68" width="0.9" height="0.9" fill="#111111"/>
<rect x="331.10" y="377.09" width="0.9" height="0.9" fill="#111111"/>
<rect x="329.39" y="378.07" width="0.9" height="0.9" fill="#111111"/>
<rect x="333.89" y="375.19" width="0.9" height="0.9" fill="#111111"/>
<rect x="330.08" y="375.49" width="0.9" height="0.9" fill="#111111"/>
<rect x="331.94" y="378.53" width="0.9" height="0.9" fill="#111111"/>
<rect x="330.78" y="373.03" width="0.9" height="0.9" fill="#111111"/>
<rect x="331.44" y="384.95" width="0.9" height="0.9" fill="#111111"/>
<rect x="337.61" y="374.25" width="0.9" height="0.9" fill="#111111"/>
<rect x="339.40" y="378.35" width="0.9" height="0.9" fill="#111111"/>
<rect x="331.00" y="375.14" width="0.9" height="0.9" fill="#111111"/>
<rect x="334.43" y="372.30" width="0.9" height="0.9" fill="#111111"/>
<rect x="332.97" y="377.22" width="0.9" height="0.9" fill="#111111"/>
<rect x="334.32" y="382.49" width="0.9" height="0.9" fill="#111111"/>
<rect x="333.08" y="374.33" width="0.9" height="0.9" fill="#111111"/>
<rect x="331.18" y="381.89" width="0.9" height="0.9" fill="#111111"/>
<rect x="332.15" y="373.25" width="0.9" height="0.9" fill="#111111"/>
<rect x="335.76" y="379.80" width="0.9" height="0.9" fill="#111111"/>
<rect x="331.78" y="375.68" width="0.9" height="0.9" fill="#111111"/>
<rect x="341.91" y="380.11" width="0.9" height="0.9" fill="#111111"/>
<rect x="331.66" y="377.07" width="0.9" height="0.9" fill="#111111"/>
<rect x="336.33" y="380.37" width="0.9" height="0.9" fill="#111111"/>
<rect x="335.66" y="379.97" width="0.9" height="0.9" fill="#111111"/>
<rect x="338.00" y="379.74" width="0.9" height="0.9" fill="#111111"/>
<rect x="338.44" y="375.01" width="0.9" height="0.9" fill="#111111"/>
<rect x="335.17" y="376.25" width="0.9" height="0.9" fill="#111111"/>
<rect x="331.06" y="378.01" width="0.9" height="0.9" fill="#111111"/>
<rect x="331.88" y="372.46" width="0.9" height="0.9" fill="#111111"/>
<rect x="330.73" y="377.05" width="0.9" height="0.9" fill="#111111"/>
<rect x="337.68" y="374.21" width="0.9" height="0.9" fill="#111111"/>
<rect x="331.38" y="374.00" width="0.9" height="0.9" fill="#111111"/>
<rect x="332.84" y="377.00" width="0.9" height="0.9" fill="#111111"/>
<rect x="336.75" y="382.18" width="0.9" height="0.9" fill="#111111"/>
<rect x="334.36" y="377.22" width="0.9" height="0.9" fill="#111111"/>
<rect x="339.21" y="375.42" width="0.9" height="0.9" fill="#111111"/>
<rect x="333.54" y="375.40" width="0.9" height="0.9" fill="#111111"/>
<rect x="324.60" y="378.25" width="0.9" height="0.9" fill="#111111"/>
<rect x="341.29" y="383.23" width="0.9" height="0.9" fill="#111111"/>
<rect x="337.74" y="373.47" width="0.9" height="0.9" fill="#111111"/>
<rect x="336.40" y="379.80" width="0.9" height="0.9" fill="#111111"/>
<rect x="329.66" y="373.39" width="0.9" height="0.9" fill="#111111"/>
<rect x="333.36" y="377.20" width="0.9" height="0.9" fill="#111111"/>
<rect x="337.02" y="377.46" width="0.9" height="0.9" fill="#111111"/>
<rect x="337.17" y="376.00" width="0.9" height="0.9" fill="#111111"/>
<rect x="332.50" y="377.73" width="0.9" height="0.9" fill="#111111"/>
<rect x="341.00" y="376.14" width="0.9" height="0.9" fill="#111111"/>
<rect x="338.65" y="381.47" width="0.9" height="0.9" fill="#111111"/>
<rect x="329.90" y="376.56" width="0.9" height="0.9" fill="#111111"/>
<rect x="331.94" y="376.24" width="0.9" height="0.9" fill="#111111"/>
<rect x="334.68" y="379.06" width="0.9" height="0.9" fill="#111111"/>
<rect x="332.46" y="373.97" width="0.9" height="0.9" fill="#111111"/>
<rect x="330.95" y="373.97" width="0.9" height="0.9" fill="#111111"/>
<rect x="336.13" y="374.20" width="0.9" height="0.9" fill="#111111"/>
<rect x="336.54" y="378.10" width="0.9" height="0.9" fill="#111111"/>
<rect x="336.95" y="377.21" width="0.9" height="0.9" fill="#111111"/>
<rect x="340.29" y="374.57" width="0.9" height="0.9" fill="#111111"/>
<rect x="332.38" y="378.83" width="0.9" height="0.9" fill="#111111"/>
<rect x="331.85" y="378.22" width="0.9" height="0.9" fill="#111111"/>
<rect x="340.90" y="377.16" width="0.9" height="0.9" fill="#111111"/>
<rect x="333.92" y="381.83" width="0.9" height="0.9" fill="#111111"/>
<rect x="336.28" y="380.83" width="0.9" height="0.9" fill="#111111"/>
<rect x="333.36" y="375.11" width="0.9" height="0.9" fill="#111111"/>
<rect x="331.05" y="380.11" width="0.9" height="0.9" fill="#111111"/>
<rect x="335.77" y="381.12" width="0.9" height="0.9" fill="#111111"/>
<rect x="332.71" y="377.34" width="0.9" height="0.9" fill="#111111"/>
<rect x="333.70" y="373.91" width="0.9" height="0.9" fill="#111111"/>
<rect x="334.36" y="374.21" width="0.9" height="0.9" fill="#111111"/>
<rect x="336.96" y="375.49" width="0.9" height="0.9" fill="#111111"/>
<rect x="333.13" y="373.40" width="0.9" height="0.9" fill="#111111"/>
<rect x="334.57" y="376.27" width="0.9" height="0.9" fill="#111111"/>
<rect x="337.12" y="379.37" width="0.9" height="0.9" fill="#111111"/>
<rect x="336.25" y="375.21" width="0.9" height="0.9" fill="#111111"/>
<rect x="332.13" y="373.88" width="0.9" height="0.9" fill="#111111"/>
<rect x="333.73" y="379.79" width="0.9" height="0.9" fill="#111111"/>
<rect x="335.88" y="369.79" width="0.9" height="0.9" fill="#111111"/>
<rect x="332.17" y="375.56" width="0.9" height="0.9" fill="#111111"/>
<rect x="330.62" y="372.92" width="0.9" height="0.9" fill="#111111"/>
<rect x="336.42" y="381.33" width="0.9" height="0.9" fill="#111111"/>
<rect x="334.25" y="374.63" width="0.9" height="0.9" fill="#111111"/>
<rect x="337.72" y="373.01" width="0.9" height="0.9" fill="#111111"/>
<rect x="339.91" y="381.55" width="0.9" height="0.9" fill="#111111"/>
<rect x="332.97" y="381.65" width="0.9" height="0.9" fill="#111111"/>
<rect x="335.81" y="373.14" width="0.9" height="0.9" fill="#111111"/>
<rect x="332.47" y="377.75" width="0.9" height="0.9" fill="#111111"/>
<rect x="332.52" y="379.19" width="0.9" height="0.9" fill="#111111"/>
<rect x="330.50" y="374.41" width="0.9" height="0.9" fill="#111111"/>
<rect x="333.88" y="377.28" width="0.9" height="0.9" fill="#111111"/>
<rect x="330.77" y="376.41" width="0.9" height="0.9" fill="#111111"/>
<rect x="333.31" y="376.60" width="0.9" height="0.9" fill="#111111"/>
<rect x="334.52" y="371.01" width="0.9" height="0.9" fill="#111111"/>
<rect x="331.27" y="377.73" width="0.9" height="0.9" fill="#111111"/>
<rect x="336.97" y="377.70" width="0.9" height="0.9" fill="#111111"/>
<rect x="335.26" y="375.58" width="0.9" height="0.9" fill="#111111"/>
<rect x="329.29" y="377.71" width="0.9" height="0.9" fill="#111111"/>
<rect x="333.32" y="381.71" width="0.9" height="0.9" fill="#111111"/>
<rect x="335.43" y="377.09" width="0.9" height="0.9" fill="#111111"/>
<rect x="336.37" y="376.37" width="0.9" height="0.9" fill="#111111"/>
<rect x="334.57" y="370.89" width="0.9" height="0.9" fill="#111111"/>
<rect x="335.23" y="381.20" width="0.9" height="0.9" fill="#111111"/>
<rect x="337.52" y="377.83" width="0.9" height="0.9" fill="#111111"/>
<rect x="336.91" y="377.47" width="0.9" height="0.9" fill="#111111"/>
<rect x="333.95" y="375.15" width="0.9" height="0.9" fill="#111111"/>
<rect x="338.76" y="378.56" width="0.9" height="0.9" fill="#111111"/>
<rect x="333.31" y="382.16" width="0.9" height="0.9" fill="#111111"/>
<rect x="336.31" y="375.69" width="0.9" height="0.9" fill="#111111"/>
<rect x="335.00" y="370.91" width="0.9" height="0.9" fill="#111111"/>
<rect x="331.99" y="380.27" width="0.9" height="0.9" fill="#111111"/>
<rect x="331.12" y="378.09" width="0.9" height="0.9" fill="#111111"/>
<rect x="332.27" y="377.84" width="0.9" height="0.9" fill="#111111"/>
<rect x="334.46" y="379.76" width="0.9" height="0.9" fill="#111111"/>
<rect x="333.58" y="378.61" width="0.9" height="0.9" fill="#111111"/>
<rect x="334.97" y="379.52" width="0.9" height="0.9" fill="#111111"/>
<rect x="331.93" y="375.97" width="0.9" height="0.9" fill="#111111"/>
<rect x="332.64" y="376.87" width="0.9" height="0.9" fill="#111111"/>
<rect x="331.84" y="376.89" width="0.9" height="0.9" fill="#111111"/>
<rect x="333.40" y="376.93" width="0.9" height="0.9" fill="#111111"/>
<rect x="332.81" y="380.44" width="0.9" height="0.9" fill="#111111"/>
<rect x="334.58" y="378.32" width="0.9" height="0.9" fill="#111111"/>
<rect x="328.21" y="378.50" width="0.9" height="0.9" fill="#111111"/>
<rect x="340.71" y="377.37" width="0.9" height="0.9" fill="#111111"/>
<rect x="333.97" y="381.07" width="0.9" height="0.9" fill="#111111"/>
<rect x="335.11" y="376.53" width="0.9" height="0.9" fill="#111111"/>
<rect x="333.71" y="373.87" width="0.9" height="0.9" fill="#111111"/>
<rect x="338.07" y="376.08" width="0.9" height="0.9" fill="#111111"/>
<rect x="332.28" y="374.09" width="0.9" height="0.9" fill="#111111"/>
<rect x="334.00" y="380.08" width="0.9" height="0.9" fill="#111111"/>
<rect x="327.59" y="375.44" width="0.9" height="0.9" fill="#111111"/>
<rect x="334.97" y="380.73" width="0.9" height="0.9" fill="#111111"/>
<rect x="334.52" y="376.85" width="0.9" height="0.9" fill="#111111"/>
<rect x="333.38" y="377.48" width="0.9" height="0.9" fill="#111111"/>
<rect x="334.11" y="377.99" width="0.9" height="0.9" fill="#111111"/>
<rect x="338.87" y="377.22" width="0.9" height="0.9" fill="#111111"/>
<rect x="335.36" y="376.70" width="0.9" height="0.9" fill="#111111"/>
<rect x="332.88" y="376.67" width="0.9" height="0.9" fill="#111111"/>
<rect x="332.62" y="371.35" width="0.9" height="0.9" fill="#111111"/>
<rect x="332.36" y="374.29" width="0.9" height="0.9" fill="#111111"/>
<rect x="333.41" y="383.10" width="0.9" height="0.9" fill="#111111"/>
<rect x="336.48" y="378.71" width="0.9" height="0.9" fill="#111111"/>
<rect x="331.48" y="381.65" width="0.9" height="0.9" fill="#111111"/>
<rect x="334.13" y="380.67" width="0.9" height="0.9" fill="#111111"/>
<rect x="333.70" y="382.66" width="0.9" height="0.9" fill="#111111"/>
<rect x="333.49" y="380.43" width="0.9" height="0.9" fill="#111111"/>
<rect x="334.01" y="381.37" width="0.9" height="0.9" fill="#111111"/>
<rect x="333.70" y="380.29" width="0.9" height="0.9" fill="#111111"/>
<rect x="336.09" y="379.00" width="0.9" height="0.9" fill="#111111"/>
<rect x="333.30" y="379.14" width="0.9" height="0.9" fill="#111111"/>
<rect x="337.00" y="380.70" width="0.9" height="0.9" fill="#111111"/>
<rect x="338.25" y="382.81" width="0.9" height="0.9" fill="#111111"/>
<rect x="333.37" y="381.10" width="0.9" height="0.9" fill="#111111"/>
<rect x="332.62" y="380.00" width="0.9" height="0.9" fill="#111111"/>
<rect x="332.31" y="380.23" width="0.9" height="0.9" fill="#111111"/>
<rect x="331.96" y="378.39" width="0.9" height="0.9" fill="#111111"/>
<rect x="335.80" y="378.45" width="0.9" height="0.9" fill="#111111"/>
<rect x="331.54" y="380.35" width="0.9" height="0.9" fill="#111111"/>
<rect x="332.78" y="381.42" width="0.9" height="0.9" fill="#111111"/>
<rect x="336.95" y="378.55" width="0.9" height="0.9" fill="#111111"/>
<rect x="331.01" y="379.89" width="0.9" height="0.9" fill="#111111"/>
<rect x="337.95" y="378.85" width="0.9" height="0.9" fill="#111111"/>
<rect x="333.74" y="380.74" width="0.9" height="0.9" fill="#111111"/>
<rect x="333.00" y="377.47" width="0.9" height="0.9" fill="#111111"/>
<rect x="329.80" y="378.91" width="0.9" height="0.9" fill="#111111"/>
<rect x="333.44" y="377.21" width="0.9" height="0.9" fill="#111111"/>
<rect x="331.33" y="379.93" width="0.9" height="0.9" fill="#111111"/>
<rect x="332.20" y="381.41" width="0.9" height="0.9" fill="#111111"/>
<rect x="337.30" y="381.85" width="0.9" height="0.9" fill="#111111"/>
<rect x="334.83" y="380.30" width="0.9" height="0.9" fill="#111111"/>
<rect x="333.82" y="381.00" width="0.9" height="0.9" fill="#111111"/>
<rect x="335.38" y="381.71" width="0.9" height="0.9" fill="#111111"/>
<rect x="330.15" y="381.75" width="0.9" height="0.9" fill="#111111"/>
<rect x="334.90" y="380.09" width="0.9" height="0.9" fill="#111111"/>
<rect x="331.98" y="382.24" width="0.9" height="0.9" fill="#111111"/>
<rect x="335.91" y="379.32" width="0.9" height="0.9" fill="#111111"/>
<rect x="331.05" y="379.36" width="0.9" height="0.9" fill="#111111"/>
<rect x="333.29" y="376.82" width="0.9" height="0.9" fill="#111111"/>
<rect x="337.90" y="379.97" width="0.9" height="0.9" fill="#111111"/>
<rect x="329.78" y="380.81" width="0.9" height="0.9" fill="#111111"/>
<rect x="333.85" y="380.41" width="0.9" height="0.9" fill="#111111"/>
<rect x="337.92" y="379.59" width="0.9" height="0.9" fill="#111111"/>
<rect x="334.11" y="380.51" width="0.9" height="0.9" fill="#111111"/>
<rect x="332.16" y="378.41" width="0.9" height="0.9" fill="#111111"/>
<rect x="332.79" y="381.57" width="0.9" height="0.9" fill="#111111"/>
<rect x="337.72" y="381.17" width="0.9" height="0.9" fill="#111111"/>
<rect x="334.01" y="379.60" width="0.9" height="0.9" fill="#111111"/>
<rect x="332.44" y="377.95" width="0.9" height="0.9" fill="#111111"/>
<rect x="332.87" y="379.76" width="0.9" height="0.9" fill="#111111"/>
<rect x="331.41" y="379.08" width="0.9" height="0.9" fill="#111111"/>
<rect x="332.30" y="378.62" width="0.9" height="0.9" fill="#111111"/>
<rect x="330.60" y="378.29" width="0.9" height="0.9" fill="#111111"/>
<rect x="334.44" y="380.20" width="0.9" height="0.9" fill="#111111"/>
<rect x="331.63" y="382.24" width="0.9" height="0.9" fill="#111111"/>
<rect x="334.35" y="377.85" width="0.9" height="0.9" fill="#111111"/>
<rect x="333.15" y="379.60" width="0.9" height="0.9" fill="#111111"/>
<rect x="337.12" y="382.01" width="0.9" height="0.9" fill="#111111"/>
<rect x="331.92" y="382.09" width="0.9" height="0.9" fill="#111111"/>
<rect x="337.20" y="381.08" width="0.9" height="0.9" fill="#111111"/>
<rect x="334.84" y="382.00" width="0.9" height="0.9" fill="#111111"/>
<rect x="336.38" y="379.37" width="0.9" height="0.9" fill="#111111"/>
<rect x="333.22" y="380.13" width="0.9" height="0.9" fill="#111111"/>
<rect x="334.61" y="381.54" width="0.9" height="0.9" fill="#111111"/>
<rect x="335.53" y="377.62" width="0.9" height="0.9" fill="#111111"/>
<rect x="337.83" y="379.83" width="0.9" height="0.9" fill="#111111"/>
<rect x="332.93" y="384.75" width="0.9" height="0.9" fill="#111111"/>
<rect x="340.80" y="378.91" width="0.9" height="0.9" fill="#111111"/>
<rect x="331.90" y="381.82" width="0.9" height="0.9" fill="#111111"/>
<rect x="333.93" y="378.59" width="0.9" height="0.9" fill="#111111"/>
<rect x="335.78" y="379.54" width="0.9" height="0.9" fill="#111111"/>
<rect x="338.55" y="381.40" width="0.9" height="0.9" fill="#111111"/>
<rect x="337.90" y="381.35" width="0.9" height="0.9" fill="#111111"/>
<rect x="337.33" y="379.19" width="0.9" height="0.9" fill="#111111"/>
<rect x="334.73" y="375.57" width="0.9" height="0.9" fill="#111111"/>
<rect x="337.58" y="379.63" width="0.9" height="0.9" fill="#111111"/>
<rect x="335.01" y="380.03" width="0.9" height="0.9" fill="#111111"/>
<rect x="335.20" y="377.05" width="0.9" height="0.9" fill="#111111"/>
<rect x="334.23" y="377.77" width="0.9" height="0.9" fill="#111111"/>
<rect x="336.62" y="379.25" width="0.9" height="0.9" fill="#111111"/>
<rect x="329.79" y="380.41" width="0.9" height="0.9" fill="#111111"/>
<line x1="294.50" y1="377.50" x2="313.30" y2="377.50" stroke="#333" stroke-width="0.7"/>
<line x1="313.30" y1="340.30" x2="313.30" y2="377.50" stroke="#333" stroke-width="0.7"/>
<rect x="325.40" y="362.70" width="22.10" height="29.20" fill="none" stroke="#333" stroke-width="0.7"/>
<text x="297.15" y="344.30" font-size="4.3" fill="#222" stroke="#222" stroke-width="0.1">hmCD45+</text>
<text x="306.90" y="349.30" font-size="4.3" fill="#222" stroke="#222" stroke-width="0.1" text-anchor="middle">98.9</text>
<text x="336.45" y="357.50" font-size="4.3" fill="#222" stroke="#222" stroke-width="0.1" text-anchor="middle">hCD45+</text>
<text x="336.45" y="361.70" font-size="4.3" fill="#222" stroke="#222" stroke-width="0.1" text-anchor="middle">1.00</text>
<text x="321.00" y="335.40" font-size="6.4" fill="#111" stroke="#111" stroke-width="0.1" text-anchor="middle">DMSO</text>
<rect x="371.90" y="340.30" width="54.40" height="51.60" fill="#ffffff" stroke="#1a1a1a" stroke-width="0.8"/>
<line x1="371.90" y1="340.30" x2="371.90" y2="391.90" stroke="#111" stroke-width="1.2"/>
<line x1="371.90" y1="391.90" x2="426.30" y2="391.90" stroke="#111" stroke-width="1.2"/>
<line x1="370.30" y1="345.31" x2="371.90" y2="345.31" stroke="#111" stroke-width="0.7"/>
<text x="366.90" y="347.31" font-size="6.1" fill="#111" text-anchor="end">10<tspan font-size="4.15" dy="-2.56">5</tspan></text>
<line x1="370.30" y1="357.59" x2="371.90" y2="357.59" stroke="#111" stroke-width="0.7"/>
<text x="366.90" y="359.59" font-size="6.1" fill="#111" text-anchor="end">10<tspan font-size="4.15" dy="-2.56">4</tspan></text>
<line x1="370.30" y1="370.74" x2="371.90" y2="370.74" stroke="#111" stroke-width="0.7"/>
<text x="366.90" y="372.74" font-size="6.1" fill="#111" text-anchor="end">10<tspan font-size="4.15" dy="-2.56">3</tspan></text>
<line x1="370.30" y1="379.26" x2="371.90" y2="379.26" stroke="#111" stroke-width="0.7"/>
<text x="365.90" y="381.26" font-size="6.1" fill="#111" stroke="#111" stroke-width="0.1" text-anchor="end">0</text>
<line x1="370.90" y1="348.56" x2="371.90" y2="348.56" stroke="#333" stroke-width="0.5"/>
<line x1="370.90" y1="350.62" x2="371.90" y2="350.62" stroke="#333" stroke-width="0.5"/>
<line x1="370.90" y1="352.17" x2="371.90" y2="352.17" stroke="#333" stroke-width="0.5"/>
<line x1="370.90" y1="353.72" x2="371.90" y2="353.72" stroke="#333" stroke-width="0.5"/>
<line x1="370.90" y1="360.94" x2="371.90" y2="360.94" stroke="#333" stroke-width="0.5"/>
<line x1="370.90" y1="363.52" x2="371.90" y2="363.52" stroke="#333" stroke-width="0.5"/>
<line x1="370.90" y1="366.10" x2="371.90" y2="366.10" stroke="#333" stroke-width="0.5"/>
<line x1="370.90" y1="367.13" x2="371.90" y2="367.13" stroke="#333" stroke-width="0.5"/>
<line x1="370.90" y1="375.39" x2="371.90" y2="375.39" stroke="#333" stroke-width="0.5"/>
<line x1="370.90" y1="382.61" x2="371.90" y2="382.61" stroke="#333" stroke-width="0.5"/>
<line x1="370.90" y1="385.71" x2="371.90" y2="385.71" stroke="#333" stroke-width="0.5"/>
<line x1="370.90" y1="388.80" x2="371.90" y2="388.80" stroke="#333" stroke-width="0.5"/>
<line x1="372.99" y1="391.90" x2="372.99" y2="393.50" stroke="#111" stroke-width="0.7"/>
<text x="372.99" y="402.30" font-size="6.1" fill="#111" text-anchor="middle">−10<tspan font-size="4.15" dy="-2.56">3</tspan></text>
<line x1="384.68" y1="391.90" x2="384.68" y2="393.50" stroke="#111" stroke-width="0.7"/>
<text x="384.68" y="402.30" font-size="6.1" fill="#111" stroke="#111" stroke-width="0.1" text-anchor="middle">0</text>
<line x1="394.20" y1="391.90" x2="394.20" y2="393.50" stroke="#111" stroke-width="0.7"/>
<text x="394.20" y="402.30" font-size="6.1" fill="#111" text-anchor="middle">10<tspan font-size="4.15" dy="-2.56">3</tspan></text>
<line x1="408.08" y1="391.90" x2="408.08" y2="393.50" stroke="#111" stroke-width="0.7"/>
<text x="408.08" y="402.30" font-size="6.1" fill="#111" text-anchor="middle">10<tspan font-size="4.15" dy="-2.56">4</tspan></text>
<line x1="422.22" y1="391.90" x2="422.22" y2="393.50" stroke="#111" stroke-width="0.7"/>
<text x="422.22" y="402.30" font-size="6.1" fill="#111" text-anchor="middle">10<tspan font-size="4.15" dy="-2.56">5</tspan></text>
<line x1="377.34" y1="391.90" x2="377.34" y2="392.90" stroke="#333" stroke-width="0.5"/>
<line x1="379.52" y1="391.90" x2="379.52" y2="392.90" stroke="#333" stroke-width="0.5"/>
<line x1="388.22" y1="391.90" x2="388.22" y2="392.90" stroke="#333" stroke-width="0.5"/>
<line x1="391.48" y1="391.90" x2="391.48" y2="392.90" stroke="#333" stroke-width="0.5"/>
<line x1="399.10" y1="391.90" x2="399.10" y2="392.90" stroke="#333" stroke-width="0.5"/>
<line x1="401.82" y1="391.90" x2="401.82" y2="392.90" stroke="#333" stroke-width="0.5"/>
<line x1="403.45" y1="391.90" x2="403.45" y2="392.90" stroke="#333" stroke-width="0.5"/>
<line x1="404.54" y1="391.90" x2="404.54" y2="392.90" stroke="#333" stroke-width="0.5"/>
<line x1="412.70" y1="391.90" x2="412.70" y2="392.90" stroke="#333" stroke-width="0.5"/>
<line x1="415.42" y1="391.90" x2="415.42" y2="392.90" stroke="#333" stroke-width="0.5"/>
<line x1="417.60" y1="391.90" x2="417.60" y2="392.90" stroke="#333" stroke-width="0.5"/>
<line x1="419.23" y1="391.90" x2="419.23" y2="392.90" stroke="#333" stroke-width="0.5"/>
<path d="M384.46,357.00 L383.93,358.02 L383.37,359.05 L382.44,360.07 L382.54,361.10 L382.06,362.12 L381.26,363.14 L381.31,364.17 L380.34,365.19 L380.86,366.22 L380.90,367.24 L380.06,368.26 L380.81,369.29 L380.01,370.31 L379.85,371.34 L380.07,372.36 L380.09,373.38 L380.02,374.41 L380.59,375.43 L380.50,376.46 L380.57,377.48 L380.40,378.50 L380.92,379.53 L381.52,380.55 L382.38,381.58 L383.81,382.60 L388.96,382.60 L390.55,381.58 L390.54,380.55 L392.13,379.53 L391.77,378.50 L391.81,377.48 L392.46,376.46 L392.30,375.43 L392.63,374.41 L392.81,373.38 L392.03,372.36 L391.83,371.34 L391.75,370.31 L391.80,369.29 L391.75,368.26 L391.78,367.24 L392.42,366.22 L392.07,365.19 L391.11,364.17 L390.68,363.14 L391.36,362.12 L390.47,361.10 L389.97,360.07 L389.71,359.05 L389.06,358.02 L387.45,357.00 Z" fill="#c8102e"/>
<rect x="379.89" y="379.10" width="0.8" height="0.8" fill="#c8102e"/>
<rect x="390.39" y="360.73" width="0.8" height="0.8" fill="#c8102e"/>
<rect x="381.25" y="361.95" width="0.8" height="0.8" fill="#c8102e"/>
<rect x="390.13" y="381.37" width="0.8" height="0.8" fill="#c8102e"/>
<rect x="392.45" y="369.25" width="0.8" height="0.8" fill="#c8102e"/>
<rect x="392.16" y="370.44" width="0.8" height="0.8" fill="#c8102e"/>
<rect x="380.05" y="362.77" width="0.8" height="0.8" fill="#c8102e"/>
<rect x="379.12" y="378.20" width="0.8" height="0.8" fill="#c8102e"/>
<rect x="379.24" y="372.47" width="0.8" height="0.8" fill="#c8102e"/>
<rect x="378.66" y="372.90" width="0.8" height="0.8" fill="#c8102e"/>
<rect x="379.91" y="369.78" width="0.8" height="0.8" fill="#c8102e"/>
<rect x="380.04" y="376.98" width="0.8" height="0.8" fill="#c8102e"/>
<rect x="392.30" y="376.91" width="0.8" height="0.8" fill="#c8102e"/>
<rect x="389.43" y="359.13" width="0.8" height="0.8" fill="#c8102e"/>
<rect x="392.47" y="368.11" width="0.8" height="0.8" fill="#c8102e"/>
<rect x="381.98" y="360.32" width="0.8" height="0.8" fill="#c8102e"/>
<rect x="392.56" y="369.36" width="0.8" height="0.8" fill="#c8102e"/>
<rect x="379.33" y="372.55" width="0.8" height="0.8" fill="#c8102e"/>
<rect x="379.50" y="379.62" width="0.8" height="0.8" fill="#c8102e"/>
<rect x="379.55" y="374.28" width="0.8" height="0.8" fill="#c8102e"/>
<rect x="392.27" y="366.66" width="0.8" height="0.8" fill="#c8102e"/>
<rect x="380.53" y="362.89" width="0.8" height="0.8" fill="#c8102e"/>
<rect x="388.69" y="358.48" width="0.8" height="0.8" fill="#c8102e"/>
<rect x="391.85" y="378.23" width="0.8" height="0.8" fill="#c8102e"/>
<rect x="388.46" y="357.41" width="0.8" height="0.8" fill="#c8102e"/>
<rect x="379.60" y="369.87" width="0.8" height="0.8" fill="#c8102e"/>
<rect x="392.85" y="376.26" width="0.8" height="0.8" fill="#c8102e"/>
<rect x="379.40" y="369.88" width="0.8" height="0.8" fill="#c8102e"/>
<rect x="382.51" y="359.58" width="0.8" height="0.8" fill="#c8102e"/>
<rect x="380.87" y="363.32" width="0.8" height="0.8" fill="#c8102e"/>
<rect x="392.16" y="366.34" width="0.8" height="0.8" fill="#c8102e"/>
<rect x="379.17" y="372.89" width="0.8" height="0.8" fill="#c8102e"/>
<rect x="387.80" y="357.29" width="0.8" height="0.8" fill="#c8102e"/>
<rect x="382.50" y="359.76" width="0.8" height="0.8" fill="#c8102e"/>
<rect x="378.86" y="366.65" width="0.8" height="0.8" fill="#c8102e"/>
<rect x="379.81" y="368.45" width="0.8" height="0.8" fill="#c8102e"/>
<rect x="380.00" y="379.25" width="0.8" height="0.8" fill="#c8102e"/>
<rect x="378.91" y="378.50" width="0.8" height="0.8" fill="#c8102e"/>
<rect x="378.77" y="365.24" width="0.8" height="0.8" fill="#c8102e"/>
<rect x="392.30" y="373.63" width="0.8" height="0.8" fill="#c8102e"/>
<rect x="379.53" y="369.13" width="0.8" height="0.8" fill="#c8102e"/>
<rect x="391.87" y="376.44" width="0.8" height="0.8" fill="#c8102e"/>
<rect x="390.52" y="360.54" width="0.8" height="0.8" fill="#c8102e"/>
<rect x="384.23" y="357.06" width="0.8" height="0.8" fill="#c8102e"/>
<rect x="390.58" y="360.92" width="0.8" height="0.8" fill="#c8102e"/>
<rect x="382.70" y="359.19" width="0.8" height="0.8" fill="#c8102e"/>
<rect x="379.18" y="377.46" width="0.8" height="0.8" fill="#c8102e"/>
<rect x="379.94" y="364.21" width="0.8" height="0.8" fill="#c8102e"/>
<rect x="379.49" y="364.72" width="0.8" height="0.8" fill="#c8102e"/>
<rect x="392.11" y="371.53" width="0.8" height="0.8" fill="#c8102e"/>
<rect x="390.51" y="380.82" width="0.8" height="0.8" fill="#c8102e"/>
<rect x="379.59" y="380.23" width="0.8" height="0.8" fill="#c8102e"/>
<rect x="392.57" y="370.44" width="0.8" height="0.8" fill="#c8102e"/>
<rect x="379.52" y="377.14" width="0.8" height="0.8" fill="#c8102e"/>
<rect x="378.77" y="373.12" width="0.8" height="0.8" fill="#c8102e"/>
<rect x="379.39" y="378.78" width="0.8" height="0.8" fill="#c8102e"/>
<rect x="391.35" y="364.16" width="0.8" height="0.8" fill="#c8102e"/>
<rect x="392.98" y="364.24" width="0.8" height="0.8" fill="#c8102e"/>
<rect x="379.08" y="373.02" width="0.8" height="0.8" fill="#c8102e"/>
<rect x="381.32" y="359.04" width="0.8" height="0.8" fill="#c8102e"/>
<rect x="379.01" y="365.92" width="0.8" height="0.8" fill="#c8102e"/>
<rect x="381.70" y="360.11" width="0.8" height="0.8" fill="#c8102e"/>
<rect x="379.60" y="378.12" width="0.8" height="0.8" fill="#c8102e"/>
<rect x="379.87" y="375.49" width="0.8" height="0.8" fill="#c8102e"/>
<rect x="380.63" y="361.54" width="0.8" height="0.8" fill="#c8102e"/>
<rect x="389.33" y="382.34" width="0.8" height="0.8" fill="#c8102e"/>
<rect x="379.93" y="364.31" width="0.8" height="0.8" fill="#c8102e"/>
<rect x="381.44" y="360.03" width="0.8" height="0.8" fill="#c8102e"/>
<rect x="379.94" y="375.73" width="0.8" height="0.8" fill="#c8102e"/>
<rect x="379.75" y="365.84" width="0.8" height="0.8" fill="#c8102e"/>
<rect x="381.19" y="381.18" width="0.8" height="0.8" fill="#c8102e"/>
<rect x="392.00" y="375.31" width="0.8" height="0.8" fill="#c8102e"/>
<rect x="381.84" y="360.61" width="0.8" height="0.8" fill="#c8102e"/>
<rect x="378.36" y="371.35" width="0.8" height="0.8" fill="#c8102e"/>
<rect x="391.97" y="368.89" width="0.8" height="0.8" fill="#c8102e"/>
<rect x="380.37" y="362.99" width="0.8" height="0.8" fill="#c8102e"/>
<rect x="394.14" y="367.37" width="0.9" height="0.9" fill="#c8102e"/>
<rect x="391.62" y="367.31" width="0.9" height="0.9" fill="#c8102e"/>
<rect x="393.65" y="368.84" width="0.9" height="0.9" fill="#c8102e"/>
<rect x="396.73" y="368.60" width="0.9" height="0.9" fill="#c8102e"/>
<rect x="394.15" y="369.00" width="0.9" height="0.9" fill="#c8102e"/>
<rect x="392.65" y="370.13" width="0.9" height="0.9" fill="#c8102e"/>
<rect x="397.99" y="370.32" width="0.9" height="0.9" fill="#c8102e"/>
<rect x="398.29" y="366.29" width="0.9" height="0.9" fill="#c8102e"/>
<rect x="391.05" y="370.36" width="0.9" height="0.9" fill="#c8102e"/>
<rect x="400.06" y="364.68" width="0.9" height="0.9" fill="#c8102e"/>
<rect x="398.58" y="365.96" width="0.9" height="0.9" fill="#c8102e"/>
<rect x="398.49" y="365.63" width="0.9" height="0.9" fill="#c8102e"/>
<rect x="394.46" y="369.92" width="0.9" height="0.9" fill="#c8102e"/>
<rect x="391.58" y="368.51" width="0.9" height="0.9" fill="#c8102e"/>
<rect x="394.75" y="371.75" width="0.9" height="0.9" fill="#c8102e"/>
<rect x="395.55" y="368.57" width="0.9" height="0.9" fill="#c8102e"/>
<rect x="394.76" y="375.76" width="0.9" height="0.9" fill="#c8102e"/>
<rect x="396.16" y="368.84" width="0.9" height="0.9" fill="#c8102e"/>
<rect x="390.34" y="374.20" width="0.9" height="0.9" fill="#c8102e"/>
<rect x="395.13" y="369.17" width="0.9" height="0.9" fill="#c8102e"/>
<rect x="396.93" y="369.11" width="0.9" height="0.9" fill="#c8102e"/>
<rect x="398.28" y="368.21" width="0.9" height="0.9" fill="#c8102e"/>
<rect x="396.32" y="368.99" width="0.9" height="0.9" fill="#c8102e"/>
<rect x="396.55" y="369.47" width="0.9" height="0.9" fill="#c8102e"/>
<rect x="396.12" y="369.26" width="0.9" height="0.9" fill="#c8102e"/>
<rect x="414.01" y="372.19" width="0.9" height="0.9" fill="#c8102e"/>
<rect x="410.45" y="367.70" width="0.9" height="0.9" fill="#c8102e"/>
<rect x="413.17" y="370.48" width="0.9" height="0.9" fill="#c8102e"/>
<rect x="418.20" y="365.30" width="0.9" height="0.9" fill="#c8102e"/>
<rect x="418.96" y="368.39" width="0.9" height="0.9" fill="#c8102e"/>
<rect x="409.75" y="371.17" width="0.9" height="0.9" fill="#c8102e"/>
<rect x="414.46" y="373.24" width="0.9" height="0.9" fill="#c8102e"/>
<rect x="404.79" y="373.71" width="0.9" height="0.9" fill="#c8102e"/>
<rect x="414.91" y="374.72" width="0.9" height="0.9" fill="#c8102e"/>
<rect x="412.29" y="365.34" width="0.9" height="0.9" fill="#c8102e"/>
<rect x="412.11" y="369.39" width="0.9" height="0.9" fill="#c8102e"/>
<rect x="415.92" y="373.08" width="0.9" height="0.9" fill="#c8102e"/>
<rect x="404.84" y="365.04" width="0.9" height="0.9" fill="#c8102e"/>
<rect x="413.62" y="367.82" width="0.9" height="0.9" fill="#c8102e"/>
<rect x="417.12" y="374.42" width="0.9" height="0.9" fill="#c8102e"/>
<rect x="421.80" y="370.48" width="0.9" height="0.9" fill="#c8102e"/>
<rect x="417.62" y="372.24" width="0.9" height="0.9" fill="#c8102e"/>
<rect x="413.95" y="368.89" width="0.9" height="0.9" fill="#c8102e"/>
<rect x="417.53" y="372.70" width="0.9" height="0.9" fill="#c8102e"/>
<rect x="412.89" y="369.55" width="0.9" height="0.9" fill="#c8102e"/>
<rect x="406.03" y="371.12" width="0.9" height="0.9" fill="#c8102e"/>
<rect x="413.65" y="366.84" width="0.9" height="0.9" fill="#c8102e"/>
<rect x="418.54" y="370.23" width="0.9" height="0.9" fill="#c8102e"/>
<rect x="408.92" y="369.24" width="0.9" height="0.9" fill="#c8102e"/>
<rect x="408.64" y="367.59" width="0.9" height="0.9" fill="#c8102e"/>
<rect x="407.98" y="370.47" width="0.9" height="0.9" fill="#c8102e"/>
<rect x="406.63" y="367.93" width="0.9" height="0.9" fill="#c8102e"/>
<rect x="413.21" y="369.35" width="0.9" height="0.9" fill="#c8102e"/>
<rect x="413.64" y="367.67" width="0.9" height="0.9" fill="#c8102e"/>
<rect x="410.53" y="371.06" width="0.9" height="0.9" fill="#c8102e"/>
<rect x="411.56" y="373.01" width="0.9" height="0.9" fill="#c8102e"/>
<rect x="411.18" y="370.43" width="0.9" height="0.9" fill="#c8102e"/>
<rect x="411.79" y="373.40" width="0.9" height="0.9" fill="#c8102e"/>
<rect x="409.29" y="372.58" width="0.9" height="0.9" fill="#c8102e"/>
<rect x="417.64" y="371.72" width="0.9" height="0.9" fill="#c8102e"/>
<rect x="418.43" y="367.06" width="0.9" height="0.9" fill="#c8102e"/>
<rect x="406.22" y="367.96" width="0.9" height="0.9" fill="#c8102e"/>
<rect x="411.18" y="371.37" width="0.9" height="0.9" fill="#c8102e"/>
<rect x="410.72" y="368.45" width="0.9" height="0.9" fill="#c8102e"/>
<rect x="412.00" y="375.42" width="0.9" height="0.9" fill="#c8102e"/>
<rect x="410.53" y="369.88" width="0.9" height="0.9" fill="#c8102e"/>
<rect x="414.34" y="375.10" width="0.9" height="0.9" fill="#c8102e"/>
<rect x="407.98" y="364.46" width="0.9" height="0.9" fill="#c8102e"/>
<rect x="412.77" y="367.39" width="0.9" height="0.9" fill="#c8102e"/>
<rect x="410.57" y="363.68" width="0.9" height="0.9" fill="#c8102e"/>
<rect x="419.51" y="365.22" width="0.9" height="0.9" fill="#c8102e"/>
<rect x="414.86" y="371.92" width="0.9" height="0.9" fill="#c8102e"/>
<rect x="416.42" y="375.22" width="0.9" height="0.9" fill="#c8102e"/>
<rect x="411.21" y="366.17" width="0.9" height="0.9" fill="#c8102e"/>
<rect x="414.36" y="373.11" width="0.9" height="0.9" fill="#c8102e"/>
<rect x="412.63" y="369.24" width="0.9" height="0.9" fill="#c8102e"/>
<rect x="417.83" y="366.84" width="0.9" height="0.9" fill="#c8102e"/>
<rect x="420.68" y="365.19" width="0.9" height="0.9" fill="#c8102e"/>
<rect x="409.63" y="369.74" width="0.9" height="0.9" fill="#c8102e"/>
<rect x="409.63" y="372.54" width="0.9" height="0.9" fill="#c8102e"/>
<rect x="410.47" y="368.43" width="0.9" height="0.9" fill="#c8102e"/>
<rect x="411.85" y="373.72" width="0.9" height="0.9" fill="#c8102e"/>
<rect x="412.96" y="369.46" width="0.9" height="0.9" fill="#c8102e"/>
<rect x="417.72" y="367.31" width="0.9" height="0.9" fill="#c8102e"/>
<rect x="407.91" y="369.96" width="0.9" height="0.9" fill="#c8102e"/>
<rect x="414.86" y="366.96" width="0.9" height="0.9" fill="#c8102e"/>
<rect x="412.21" y="371.24" width="0.9" height="0.9" fill="#c8102e"/>
<rect x="412.28" y="370.98" width="0.9" height="0.9" fill="#c8102e"/>
<rect x="412.82" y="374.58" width="0.9" height="0.9" fill="#c8102e"/>
<rect x="407.49" y="375.48" width="0.9" height="0.9" fill="#c8102e"/>
<rect x="405.54" y="371.17" width="0.9" height="0.9" fill="#c8102e"/>
<rect x="415.91" y="378.52" width="0.9" height="0.9" fill="#c8102e"/>
<rect x="418.20" y="364.44" width="0.9" height="0.9" fill="#c8102e"/>
<rect x="414.65" y="366.36" width="0.9" height="0.9" fill="#c8102e"/>
<rect x="417.35" y="375.09" width="0.9" height="0.9" fill="#c8102e"/>
<rect x="415.41" y="375.61" width="0.9" height="0.9" fill="#c8102e"/>
<rect x="412.44" y="372.32" width="0.9" height="0.9" fill="#c8102e"/>
<rect x="412.89" y="369.99" width="0.9" height="0.9" fill="#c8102e"/>
<rect x="410.95" y="375.14" width="0.9" height="0.9" fill="#c8102e"/>
<rect x="408.30" y="377.92" width="0.9" height="0.9" fill="#c8102e"/>
<rect x="412.76" y="381.14" width="0.9" height="0.9" fill="#c8102e"/>
<rect x="411.36" y="377.64" width="0.9" height="0.9" fill="#c8102e"/>
<rect x="408.71" y="380.29" width="0.9" height="0.9" fill="#c8102e"/>
<rect x="410.14" y="374.50" width="0.9" height="0.9" fill="#c8102e"/>
<rect x="407.72" y="378.73" width="0.9" height="0.9" fill="#c8102e"/>
<rect x="412.90" y="375.34" width="0.9" height="0.9" fill="#c8102e"/>
<rect x="413.08" y="379.43" width="0.9" height="0.9" fill="#c8102e"/>
<rect x="412.40" y="378.35" width="0.9" height="0.9" fill="#c8102e"/>
<rect x="411.43" y="378.07" width="0.9" height="0.9" fill="#c8102e"/>
<rect x="415.29" y="377.23" width="0.9" height="0.9" fill="#c8102e"/>
<rect x="407.91" y="378.10" width="0.9" height="0.9" fill="#c8102e"/>
<rect x="418.89" y="373.52" width="0.9" height="0.9" fill="#c8102e"/>
<rect x="409.43" y="376.86" width="0.9" height="0.9" fill="#c8102e"/>
<rect x="409.44" y="374.31" width="0.9" height="0.9" fill="#c8102e"/>
<rect x="405.84" y="372.76" width="0.9" height="0.9" fill="#c8102e"/>
<rect x="412.55" y="367.71" width="0.9" height="0.9" fill="#c8102e"/>
<rect x="414.06" y="371.76" width="0.9" height="0.9" fill="#c8102e"/>
<rect x="417.22" y="376.35" width="0.9" height="0.9" fill="#c8102e"/>
<rect x="411.93" y="372.02" width="0.9" height="0.9" fill="#c8102e"/>
<rect x="415.87" y="375.78" width="0.9" height="0.9" fill="#c8102e"/>
<rect x="408.58" y="379.12" width="0.9" height="0.9" fill="#c8102e"/>
<rect x="414.04" y="381.42" width="0.9" height="0.9" fill="#c8102e"/>
<rect x="409.02" y="376.10" width="0.9" height="0.9" fill="#c8102e"/>
<rect x="409.76" y="372.27" width="0.9" height="0.9" fill="#c8102e"/>
<rect x="409.88" y="374.82" width="0.9" height="0.9" fill="#c8102e"/>
<rect x="411.50" y="376.44" width="0.9" height="0.9" fill="#c8102e"/>
<rect x="411.42" y="376.86" width="0.9" height="0.9" fill="#c8102e"/>
<rect x="410.94" y="375.82" width="0.9" height="0.9" fill="#c8102e"/>
<rect x="412.62" y="381.69" width="0.9" height="0.9" fill="#c8102e"/>
<rect x="411.39" y="374.45" width="0.9" height="0.9" fill="#c8102e"/>
<rect x="419.90" y="377.88" width="0.9" height="0.9" fill="#c8102e"/>
<rect x="411.00" y="376.94" width="0.9" height="0.9" fill="#c8102e"/>
<rect x="406.17" y="375.65" width="0.9" height="0.9" fill="#c8102e"/>
<rect x="409.80" y="375.12" width="0.9" height="0.9" fill="#c8102e"/>
<rect x="408.95" y="376.24" width="0.9" height="0.9" fill="#c8102e"/>
<rect x="417.38" y="374.70" width="0.9" height="0.9" fill="#c8102e"/>
<rect x="413.15" y="380.48" width="0.9" height="0.9" fill="#c8102e"/>
<rect x="412.75" y="374.60" width="0.9" height="0.9" fill="#c8102e"/>
<rect x="414.61" y="379.53" width="0.9" height="0.9" fill="#c8102e"/>
<rect x="409.84" y="374.09" width="0.9" height="0.9" fill="#c8102e"/>
<rect x="407.82" y="375.47" width="0.9" height="0.9" fill="#c8102e"/>
<rect x="411.53" y="375.21" width="0.9" height="0.9" fill="#c8102e"/>
<rect x="411.04" y="377.94" width="0.9" height="0.9" fill="#c8102e"/>
<rect x="413.23" y="383.04" width="0.9" height="0.9" fill="#c8102e"/>
<rect x="407.64" y="372.56" width="0.9" height="0.9" fill="#c8102e"/>
<rect x="410.17" y="377.69" width="0.9" height="0.9" fill="#c8102e"/>
<rect x="416.76" y="379.13" width="0.9" height="0.9" fill="#c8102e"/>
<rect x="415.34" y="372.78" width="0.9" height="0.9" fill="#c8102e"/>
<rect x="412.97" y="381.51" width="0.9" height="0.9" fill="#c8102e"/>
<rect x="414.12" y="374.87" width="0.9" height="0.9" fill="#c8102e"/>
<rect x="402.80" y="376.74" width="0.9" height="0.9" fill="#c8102e"/>
<rect x="413.42" y="380.65" width="0.9" height="0.9" fill="#c8102e"/>
<rect x="412.69" y="372.67" width="0.9" height="0.9" fill="#c8102e"/>
<rect x="415.25" y="374.72" width="0.9" height="0.9" fill="#c8102e"/>
<rect x="413.59" y="378.92" width="0.9" height="0.9" fill="#c8102e"/>
<rect x="410.50" y="379.78" width="0.9" height="0.9" fill="#c8102e"/>
<rect x="407.73" y="380.49" width="0.9" height="0.9" fill="#c8102e"/>
<rect x="407.96" y="372.68" width="0.9" height="0.9" fill="#c8102e"/>
<rect x="411.00" y="375.82" width="0.9" height="0.9" fill="#c8102e"/>
<rect x="412.71" y="377.90" width="0.9" height="0.9" fill="#c8102e"/>
<rect x="411.35" y="373.72" width="0.9" height="0.9" fill="#c8102e"/>
<rect x="415.01" y="370.84" width="0.9" height="0.9" fill="#c8102e"/>
<rect x="414.82" y="372.97" width="0.9" height="0.9" fill="#c8102e"/>
<rect x="412.11" y="377.73" width="0.9" height="0.9" fill="#c8102e"/>
<rect x="406.28" y="376.75" width="0.9" height="0.9" fill="#c8102e"/>
<rect x="412.94" y="375.68" width="0.9" height="0.9" fill="#c8102e"/>
<rect x="415.14" y="377.49" width="0.9" height="0.9" fill="#c8102e"/>
<rect x="409.78" y="374.86" width="0.9" height="0.9" fill="#c8102e"/>
<rect x="410.04" y="371.79" width="0.9" height="0.9" fill="#c8102e"/>
<rect x="415.57" y="370.48" width="0.9" height="0.9" fill="#c8102e"/>
<rect x="415.57" y="382.83" width="0.9" height="0.9" fill="#c8102e"/>
<rect x="415.98" y="378.22" width="0.9" height="0.9" fill="#c8102e"/>
<rect x="412.25" y="375.03" width="0.9" height="0.9" fill="#c8102e"/>
<rect x="411.51" y="381.03" width="0.9" height="0.9" fill="#c8102e"/>
<rect x="410.62" y="377.14" width="0.9" height="0.9" fill="#c8102e"/>
<rect x="416.16" y="377.78" width="0.9" height="0.9" fill="#c8102e"/>
<rect x="413.19" y="377.81" width="0.9" height="0.9" fill="#c8102e"/>
<rect x="411.67" y="380.20" width="0.9" height="0.9" fill="#c8102e"/>
<rect x="414.51" y="377.81" width="0.9" height="0.9" fill="#c8102e"/>
<rect x="411.48" y="378.74" width="0.9" height="0.9" fill="#c8102e"/>
<rect x="411.98" y="373.15" width="0.9" height="0.9" fill="#c8102e"/>
<rect x="413.63" y="369.73" width="0.9" height="0.9" fill="#c8102e"/>
<rect x="414.22" y="375.77" width="0.9" height="0.9" fill="#c8102e"/>
<rect x="411.26" y="375.02" width="0.9" height="0.9" fill="#c8102e"/>
<rect x="416.41" y="377.45" width="0.9" height="0.9" fill="#c8102e"/>
<rect x="410.12" y="376.17" width="0.9" height="0.9" fill="#c8102e"/>
<rect x="410.59" y="381.08" width="0.9" height="0.9" fill="#c8102e"/>
<rect x="410.82" y="375.58" width="0.9" height="0.9" fill="#c8102e"/>
<rect x="412.38" y="376.05" width="0.9" height="0.9" fill="#c8102e"/>
<rect x="408.37" y="378.82" width="0.9" height="0.9" fill="#c8102e"/>
<rect x="412.12" y="378.25" width="0.9" height="0.9" fill="#c8102e"/>
<rect x="405.10" y="375.59" width="0.9" height="0.9" fill="#c8102e"/>
<rect x="412.83" y="377.71" width="0.9" height="0.9" fill="#c8102e"/>
<rect x="409.09" y="383.77" width="0.9" height="0.9" fill="#c8102e"/>
<rect x="416.14" y="377.60" width="0.9" height="0.9" fill="#c8102e"/>
<rect x="407.35" y="370.66" width="0.9" height="0.9" fill="#c8102e"/>
<rect x="415.55" y="380.22" width="0.9" height="0.9" fill="#c8102e"/>
<rect x="405.90" y="379.28" width="0.9" height="0.9" fill="#c8102e"/>
<rect x="416.03" y="374.79" width="0.9" height="0.9" fill="#c8102e"/>
<rect x="410.90" y="375.43" width="0.9" height="0.9" fill="#c8102e"/>
<rect x="409.41" y="382.59" width="0.9" height="0.9" fill="#c8102e"/>
<rect x="410.44" y="374.70" width="0.9" height="0.9" fill="#c8102e"/>
<rect x="414.07" y="381.67" width="0.9" height="0.9" fill="#c8102e"/>
<rect x="413.19" y="372.34" width="0.9" height="0.9" fill="#c8102e"/>
<rect x="412.86" y="374.62" width="0.9" height="0.9" fill="#c8102e"/>
<rect x="406.58" y="380.27" width="0.9" height="0.9" fill="#c8102e"/>
<rect x="410.64" y="378.44" width="0.9" height="0.9" fill="#c8102e"/>
<rect x="407.64" y="382.07" width="0.9" height="0.9" fill="#c8102e"/>
<rect x="410.45" y="379.06" width="0.9" height="0.9" fill="#c8102e"/>
<rect x="410.12" y="381.02" width="0.9" height="0.9" fill="#c8102e"/>
<rect x="409.56" y="381.41" width="0.9" height="0.9" fill="#c8102e"/>
<rect x="411.29" y="380.04" width="0.9" height="0.9" fill="#c8102e"/>
<rect x="410.76" y="378.29" width="0.9" height="0.9" fill="#c8102e"/>
<rect x="413.42" y="380.14" width="0.9" height="0.9" fill="#c8102e"/>
<rect x="409.76" y="378.85" width="0.9" height="0.9" fill="#c8102e"/>
<rect x="412.25" y="383.12" width="0.9" height="0.9" fill="#c8102e"/>
<rect x="411.91" y="378.22" width="0.9" height="0.9" fill="#c8102e"/>
<rect x="409.43" y="377.90" width="0.9" height="0.9" fill="#c8102e"/>
<rect x="409.21" y="379.37" width="0.9" height="0.9" fill="#c8102e"/>
<rect x="409.83" y="380.81" width="0.9" height="0.9" fill="#c8102e"/>
<rect x="410.46" y="380.52" width="0.9" height="0.9" fill="#c8102e"/>
<rect x="411.54" y="378.71" width="0.9" height="0.9" fill="#c8102e"/>
<rect x="412.47" y="380.15" width="0.9" height="0.9" fill="#c8102e"/>
<rect x="412.15" y="378.04" width="0.9" height="0.9" fill="#c8102e"/>
<rect x="411.23" y="380.50" width="0.9" height="0.9" fill="#c8102e"/>
<rect x="408.75" y="381.22" width="0.9" height="0.9" fill="#c8102e"/>
<rect x="410.08" y="379.49" width="0.9" height="0.9" fill="#c8102e"/>
<rect x="411.49" y="376.98" width="0.9" height="0.9" fill="#c8102e"/>
<rect x="405.38" y="378.94" width="0.9" height="0.9" fill="#c8102e"/>
<rect x="411.17" y="381.18" width="0.9" height="0.9" fill="#c8102e"/>
<rect x="412.32" y="383.21" width="0.9" height="0.9" fill="#c8102e"/>
<rect x="411.96" y="379.14" width="0.9" height="0.9" fill="#c8102e"/>
<rect x="410.69" y="378.55" width="0.9" height="0.9" fill="#c8102e"/>
<rect x="411.64" y="378.74" width="0.9" height="0.9" fill="#c8102e"/>
<rect x="408.76" y="378.51" width="0.9" height="0.9" fill="#c8102e"/>
<rect x="407.48" y="378.13" width="0.9" height="0.9" fill="#c8102e"/>
<rect x="409.76" y="379.25" width="0.9" height="0.9" fill="#c8102e"/>
<rect x="409.84" y="380.95" width="0.9" height="0.9" fill="#c8102e"/>
<rect x="408.69" y="379.82" width="0.9" height="0.9" fill="#c8102e"/>
<rect x="409.07" y="380.02" width="0.9" height="0.9" fill="#c8102e"/>
<rect x="411.81" y="378.35" width="0.9" height="0.9" fill="#c8102e"/>
<rect x="408.65" y="380.34" width="0.9" height="0.9" fill="#c8102e"/>
<rect x="408.94" y="379.99" width="0.9" height="0.9" fill="#c8102e"/>
<rect x="410.57" y="380.06" width="0.9" height="0.9" fill="#c8102e"/>
<rect x="409.46" y="379.96" width="0.9" height="0.9" fill="#c8102e"/>
<line x1="371.90" y1="377.30" x2="390.90" y2="377.30" stroke="#333" stroke-width="0.7"/>
<line x1="390.90" y1="340.30" x2="390.90" y2="377.30" stroke="#333" stroke-width="0.7"/>
<rect x="403.10" y="363.10" width="23.20" height="28.80" fill="none" stroke="#333" stroke-width="0.7"/>
<text x="374.62" y="344.30" font-size="4.3" fill="#222" stroke="#222" stroke-width="0.1">hmCD45+</text>
<text x="384.40" y="349.30" font-size="4.3" fill="#222" stroke="#222" stroke-width="0.1" text-anchor="middle">94.8</text>
<text x="414.70" y="357.90" font-size="4.3" fill="#222" stroke="#222" stroke-width="0.1" text-anchor="middle">hCD45+</text>
<text x="414.70" y="362.10" font-size="4.3" fill="#222" stroke="#222" stroke-width="0.1" text-anchor="middle">0.52</text>
<text x="399.10" y="335.40" font-size="6.4" fill="#111" stroke="#111" stroke-width="0.1" text-anchor="middle">MS452</text>
<rect x="448.80" y="340.30" width="54.20" height="51.60" fill="#ffffff" stroke="#1a1a1a" stroke-width="0.8"/>
<line x1="448.80" y1="340.30" x2="448.80" y2="391.90" stroke="#111" stroke-width="1.2"/>
<line x1="448.80" y1="391.90" x2="503.00" y2="391.90" stroke="#111" stroke-width="1.2"/>
<line x1="447.20" y1="345.31" x2="448.80" y2="345.31" stroke="#111" stroke-width="0.7"/>
<text x="443.80" y="347.31" font-size="6.1" fill="#111" text-anchor="end">10<tspan font-size="4.15" dy="-2.56">5</tspan></text>
<line x1="447.20" y1="357.59" x2="448.80" y2="357.59" stroke="#111" stroke-width="0.7"/>
<text x="443.80" y="359.59" font-size="6.1" fill="#111" text-anchor="end">10<tspan font-size="4.15" dy="-2.56">4</tspan></text>
<line x1="447.20" y1="370.74" x2="448.80" y2="370.74" stroke="#111" stroke-width="0.7"/>
<text x="443.80" y="372.74" font-size="6.1" fill="#111" text-anchor="end">10<tspan font-size="4.15" dy="-2.56">3</tspan></text>
<line x1="447.20" y1="379.26" x2="448.80" y2="379.26" stroke="#111" stroke-width="0.7"/>
<text x="442.80" y="381.26" font-size="6.1" fill="#111" stroke="#111" stroke-width="0.1" text-anchor="end">0</text>
<line x1="447.80" y1="348.56" x2="448.80" y2="348.56" stroke="#333" stroke-width="0.5"/>
<line x1="447.80" y1="350.62" x2="448.80" y2="350.62" stroke="#333" stroke-width="0.5"/>
<line x1="447.80" y1="352.17" x2="448.80" y2="352.17" stroke="#333" stroke-width="0.5"/>
<line x1="447.80" y1="353.72" x2="448.80" y2="353.72" stroke="#333" stroke-width="0.5"/>
<line x1="447.80" y1="360.94" x2="448.80" y2="360.94" stroke="#333" stroke-width="0.5"/>
<line x1="447.80" y1="363.52" x2="448.80" y2="363.52" stroke="#333" stroke-width="0.5"/>
<line x1="447.80" y1="366.10" x2="448.80" y2="366.10" stroke="#333" stroke-width="0.5"/>
<line x1="447.80" y1="367.13" x2="448.80" y2="367.13" stroke="#333" stroke-width="0.5"/>
<line x1="447.80" y1="375.39" x2="448.80" y2="375.39" stroke="#333" stroke-width="0.5"/>
<line x1="447.80" y1="382.61" x2="448.80" y2="382.61" stroke="#333" stroke-width="0.5"/>
<line x1="447.80" y1="385.71" x2="448.80" y2="385.71" stroke="#333" stroke-width="0.5"/>
<line x1="447.80" y1="388.80" x2="448.80" y2="388.80" stroke="#333" stroke-width="0.5"/>
<line x1="449.88" y1="391.90" x2="449.88" y2="393.50" stroke="#111" stroke-width="0.7"/>
<text x="449.88" y="402.30" font-size="6.1" fill="#111" text-anchor="middle">−10<tspan font-size="4.15" dy="-2.56">3</tspan></text>
<line x1="461.54" y1="391.90" x2="461.54" y2="393.50" stroke="#111" stroke-width="0.7"/>
<text x="461.54" y="402.30" font-size="6.1" fill="#111" stroke="#111" stroke-width="0.1" text-anchor="middle">0</text>
<line x1="471.02" y1="391.90" x2="471.02" y2="393.50" stroke="#111" stroke-width="0.7"/>
<text x="471.02" y="402.30" font-size="6.1" fill="#111" text-anchor="middle">10<tspan font-size="4.15" dy="-2.56">3</tspan></text>
<line x1="484.84" y1="391.90" x2="484.84" y2="393.50" stroke="#111" stroke-width="0.7"/>
<text x="484.84" y="402.30" font-size="6.1" fill="#111" text-anchor="middle">10<tspan font-size="4.15" dy="-2.56">4</tspan></text>
<line x1="498.94" y1="391.90" x2="498.94" y2="393.50" stroke="#111" stroke-width="0.7"/>
<text x="498.94" y="402.30" font-size="6.1" fill="#111" text-anchor="middle">10<tspan font-size="4.15" dy="-2.56">5</tspan></text>
<line x1="454.22" y1="391.90" x2="454.22" y2="392.90" stroke="#333" stroke-width="0.5"/>
<line x1="456.39" y1="391.90" x2="456.39" y2="392.90" stroke="#333" stroke-width="0.5"/>
<line x1="465.06" y1="391.90" x2="465.06" y2="392.90" stroke="#333" stroke-width="0.5"/>
<line x1="468.31" y1="391.90" x2="468.31" y2="392.90" stroke="#333" stroke-width="0.5"/>
<line x1="475.90" y1="391.90" x2="475.90" y2="392.90" stroke="#333" stroke-width="0.5"/>
<line x1="478.61" y1="391.90" x2="478.61" y2="392.90" stroke="#333" stroke-width="0.5"/>
<line x1="480.24" y1="391.90" x2="480.24" y2="392.90" stroke="#333" stroke-width="0.5"/>
<line x1="481.32" y1="391.90" x2="481.32" y2="392.90" stroke="#333" stroke-width="0.5"/>
<line x1="489.45" y1="391.90" x2="489.45" y2="392.90" stroke="#333" stroke-width="0.5"/>
<line x1="492.16" y1="391.90" x2="492.16" y2="392.90" stroke="#333" stroke-width="0.5"/>
<line x1="494.33" y1="391.90" x2="494.33" y2="392.90" stroke="#333" stroke-width="0.5"/>
<line x1="495.95" y1="391.90" x2="495.95" y2="392.90" stroke="#333" stroke-width="0.5"/>
<path d="M461.49,356.50 L461.08,357.53 L460.29,358.56 L460.03,359.58 L459.30,360.61 L458.68,361.64 L458.44,362.67 L458.56,363.70 L457.73,364.72 L457.70,365.75 L457.75,366.78 L457.54,367.81 L457.94,368.84 L457.66,369.86 L457.05,370.89 L457.21,371.92 L457.81,372.95 L457.16,373.98 L457.32,375.00 L457.16,376.03 L457.48,377.06 L457.42,378.09 L457.68,379.12 L458.83,380.14 L458.97,381.17 L460.24,382.20 L464.62,382.20 L465.71,381.17 L466.86,380.14 L467.71,379.12 L467.27,378.09 L467.63,377.06 L467.82,376.03 L467.60,375.00 L467.70,373.98 L468.22,372.95 L467.68,371.92 L468.48,370.89 L467.48,369.86 L467.91,368.84 L468.18,367.81 L468.01,366.78 L467.20,365.75 L467.28,364.72 L467.39,363.70 L466.92,362.67 L467.24,361.64 L466.43,360.61 L465.54,359.58 L465.89,358.56 L464.47,357.53 L464.12,356.50 Z" fill="#17528e"/>
<rect x="456.20" y="367.04" width="0.8" height="0.8" fill="#17528e"/>
<rect x="468.89" y="368.27" width="0.8" height="0.8" fill="#17528e"/>
<rect x="468.20" y="376.80" width="0.8" height="0.8" fill="#17528e"/>
<rect x="467.98" y="368.99" width="0.8" height="0.8" fill="#17528e"/>
<rect x="456.01" y="368.87" width="0.8" height="0.8" fill="#17528e"/>
<rect x="456.01" y="373.66" width="0.8" height="0.8" fill="#17528e"/>
<rect x="459.85" y="356.88" width="0.8" height="0.8" fill="#17528e"/>
<rect x="467.25" y="378.93" width="0.8" height="0.8" fill="#17528e"/>
<rect x="457.95" y="379.88" width="0.8" height="0.8" fill="#17528e"/>
<rect x="456.74" y="379.26" width="0.8" height="0.8" fill="#17528e"/>
<rect x="468.37" y="368.39" width="0.8" height="0.8" fill="#17528e"/>
<rect x="467.94" y="368.64" width="0.8" height="0.8" fill="#17528e"/>
<rect x="467.37" y="366.47" width="0.8" height="0.8" fill="#17528e"/>
<rect x="466.77" y="360.81" width="0.8" height="0.8" fill="#17528e"/>
<rect x="457.20" y="380.02" width="0.8" height="0.8" fill="#17528e"/>
<rect x="455.19" y="376.05" width="0.8" height="0.8" fill="#17528e"/>
<rect x="468.81" y="377.86" width="0.8" height="0.8" fill="#17528e"/>
<rect x="468.07" y="375.79" width="0.8" height="0.8" fill="#17528e"/>
<rect x="456.30" y="378.35" width="0.8" height="0.8" fill="#17528e"/>
<rect x="456.13" y="368.85" width="0.8" height="0.8" fill="#17528e"/>
<rect x="467.68" y="378.29" width="0.8" height="0.8" fill="#17528e"/>
<rect x="458.07" y="361.62" width="0.8" height="0.8" fill="#17528e"/>
<rect x="459.95" y="358.16" width="0.8" height="0.8" fill="#17528e"/>
<rect x="464.68" y="382.09" width="0.8" height="0.8" fill="#17528e"/>
<rect x="464.56" y="356.67" width="0.8" height="0.8" fill="#17528e"/>
<rect x="456.92" y="377.42" width="0.8" height="0.8" fill="#17528e"/>
<rect x="456.95" y="368.24" width="0.8" height="0.8" fill="#17528e"/>
<rect x="456.07" y="376.84" width="0.8" height="0.8" fill="#17528e"/>
<rect x="456.90" y="373.87" width="0.8" height="0.8" fill="#17528e"/>
<rect x="467.40" y="378.78" width="0.8" height="0.8" fill="#17528e"/>
<rect x="457.11" y="375.90" width="0.8" height="0.8" fill="#17528e"/>
<rect x="456.99" y="369.29" width="0.8" height="0.8" fill="#17528e"/>
<rect x="467.80" y="372.40" width="0.8" height="0.8" fill="#17528e"/>
<rect x="465.66" y="359.02" width="0.8" height="0.8" fill="#17528e"/>
<rect x="468.04" y="369.24" width="0.8" height="0.8" fill="#17528e"/>
<rect x="456.90" y="370.07" width="0.8" height="0.8" fill="#17528e"/>
<rect x="457.39" y="363.14" width="0.8" height="0.8" fill="#17528e"/>
<rect x="456.27" y="377.06" width="0.8" height="0.8" fill="#17528e"/>
<rect x="467.84" y="368.32" width="0.8" height="0.8" fill="#17528e"/>
<rect x="460.15" y="357.11" width="0.8" height="0.8" fill="#17528e"/>
<rect x="456.96" y="365.17" width="0.8" height="0.8" fill="#17528e"/>
<rect x="468.11" y="372.29" width="0.8" height="0.8" fill="#17528e"/>
<rect x="456.18" y="369.24" width="0.8" height="0.8" fill="#17528e"/>
<rect x="467.17" y="362.27" width="0.8" height="0.8" fill="#17528e"/>
<rect x="457.56" y="363.85" width="0.8" height="0.8" fill="#17528e"/>
<rect x="459.17" y="359.51" width="0.8" height="0.8" fill="#17528e"/>
<rect x="456.28" y="373.08" width="0.8" height="0.8" fill="#17528e"/>
<rect x="464.56" y="357.56" width="0.8" height="0.8" fill="#17528e"/>
<rect x="456.73" y="373.79" width="0.8" height="0.8" fill="#17528e"/>
<rect x="467.97" y="372.34" width="0.8" height="0.8" fill="#17528e"/>
<rect x="455.75" y="378.23" width="0.8" height="0.8" fill="#17528e"/>
<rect x="467.21" y="378.54" width="0.8" height="0.8" fill="#17528e"/>
<rect x="467.43" y="363.74" width="0.8" height="0.8" fill="#17528e"/>
<rect x="467.06" y="362.53" width="0.8" height="0.8" fill="#17528e"/>
<rect x="468.20" y="377.09" width="0.8" height="0.8" fill="#17528e"/>
<rect x="456.98" y="365.98" width="0.8" height="0.8" fill="#17528e"/>
<rect x="465.93" y="360.57" width="0.8" height="0.8" fill="#17528e"/>
<rect x="458.21" y="361.30" width="0.8" height="0.8" fill="#17528e"/>
<rect x="467.87" y="368.75" width="0.8" height="0.8" fill="#17528e"/>
<rect x="458.70" y="358.99" width="0.8" height="0.8" fill="#17528e"/>
<rect x="458.11" y="380.83" width="0.8" height="0.8" fill="#17528e"/>
<rect x="456.99" y="376.92" width="0.8" height="0.8" fill="#17528e"/>
<rect x="465.54" y="382.01" width="0.8" height="0.8" fill="#17528e"/>
<rect x="464.29" y="356.59" width="0.8" height="0.8" fill="#17528e"/>
<rect x="456.19" y="376.82" width="0.8" height="0.8" fill="#17528e"/>
<rect x="466.15" y="361.12" width="0.8" height="0.8" fill="#17528e"/>
<rect x="468.79" y="363.78" width="0.8" height="0.8" fill="#17528e"/>
<rect x="456.72" y="367.15" width="0.8" height="0.8" fill="#17528e"/>
<rect x="457.12" y="364.33" width="0.8" height="0.8" fill="#17528e"/>
<rect x="457.73" y="380.37" width="0.8" height="0.8" fill="#17528e"/>
<rect x="467.68" y="377.17" width="0.8" height="0.8" fill="#17528e"/>
<rect x="457.02" y="362.98" width="0.8" height="0.8" fill="#17528e"/>
<rect x="467.78" y="378.88" width="0.8" height="0.8" fill="#17528e"/>
<rect x="457.97" y="361.57" width="0.8" height="0.8" fill="#17528e"/>
<rect x="467.77" y="364.64" width="0.8" height="0.8" fill="#17528e"/>
<rect x="467.53" y="377.63" width="0.8" height="0.8" fill="#17528e"/>
<rect x="467.39" y="365.52" width="0.8" height="0.8" fill="#17528e"/>
<rect x="492.91" y="375.06" width="0.9" height="0.9" fill="#17528e"/>
<rect x="482.66" y="379.23" width="0.9" height="0.9" fill="#17528e"/>
<rect x="492.24" y="376.84" width="0.9" height="0.9" fill="#17528e"/>
<rect x="492.59" y="369.49" width="0.9" height="0.9" fill="#17528e"/>
<rect x="498.89" y="368.63" width="0.9" height="0.9" fill="#17528e"/>
<rect x="492.96" y="371.11" width="0.9" height="0.9" fill="#17528e"/>
<rect x="493.41" y="373.06" width="0.9" height="0.9" fill="#17528e"/>
<rect x="492.43" y="378.04" width="0.9" height="0.9" fill="#17528e"/>
<rect x="491.46" y="372.57" width="0.9" height="0.9" fill="#17528e"/>
<line x1="448.80" y1="377.50" x2="469.00" y2="377.50" stroke="#333" stroke-width="0.7"/>
<line x1="469.00" y1="340.30" x2="469.00" y2="377.50" stroke="#333" stroke-width="0.7"/>
<rect x="480.60" y="362.20" width="22.40" height="29.70" fill="none" stroke="#333" stroke-width="0.7"/>
<text x="451.51" y="344.30" font-size="4.3" fill="#222" stroke="#222" stroke-width="0.1">hmCD45+</text>
<text x="461.90" y="349.30" font-size="4.3" fill="#222" stroke="#222" stroke-width="0.1" text-anchor="middle">94.8</text>
<text x="491.80" y="357.00" font-size="4.3" fill="#222" stroke="#222" stroke-width="0.1" text-anchor="middle">hCD45+</text>
<text x="491.80" y="361.20" font-size="4.3" fill="#222" stroke="#222" stroke-width="0.1" text-anchor="middle">0.013</text>
<text x="475.90" y="335.40" font-size="6.4" fill="#111" stroke="#111" stroke-width="0.1" text-anchor="middle">BDA-41</text>
<line x1="275.20" y1="376.00" x2="275.20" y2="405.60" stroke="#222" stroke-width="0.9"/>
<path d="M275.20,373.00 L273.60,376.60 L276.80,376.60 Z" fill="#222"/>
<line x1="275.20" y1="405.60" x2="305.40" y2="405.60" stroke="#222" stroke-width="0.9"/>
<path d="M308.40,405.60 L304.80,404.00 L304.80,407.20 Z" fill="#222"/>
<text x="268.60" y="389.60" font-size="6.8" fill="#222" stroke="#222" stroke-width="0.2" text-anchor="middle" textLength="18.8" lengthAdjust="spacingAndGlyphs" transform="rotate(-90 268.60 389.60)">mCD45</text>
<text x="282.40" y="413.80" font-size="7.0" fill="#222" stroke="#222" stroke-width="0.2" textLength="16.8" lengthAdjust="spacingAndGlyphs">hCD45</text>
<text x="6.50" y="174.60" font-size="10.5" fill="#000" font-weight="bold">C</text>
<line x1="59.60" y1="185.00" x2="59.60" y2="245.20" stroke="#111" stroke-width="0.9"/>
<line x1="59.60" y1="248.60" x2="59.60" y2="275.50" stroke="#111" stroke-width="0.9"/>
<line x1="58.00" y1="246.00" x2="61.20" y2="244.60" stroke="#111" stroke-width="0.7"/>
<line x1="58.00" y1="249.40" x2="61.20" y2="248.00" stroke="#111" stroke-width="0.7"/>
<line x1="57.40" y1="237.50" x2="59.60" y2="237.50" stroke="#111" stroke-width="0.7"/>
<text x="53.60" y="239.50" font-size="5.8" fill="#222" stroke="#222" stroke-width="0.1" text-anchor="end">25</text>
<line x1="57.40" y1="227.50" x2="59.60" y2="227.50" stroke="#111" stroke-width="0.7"/>
<text x="53.60" y="229.50" font-size="5.8" fill="#222" stroke="#222" stroke-width="0.1" text-anchor="end">50</text>
<line x1="57.40" y1="217.50" x2="59.60" y2="217.50" stroke="#111" stroke-width="0.7"/>
<text x="53.60" y="219.50" font-size="5.8" fill="#222" stroke="#222" stroke-width="0.1" text-anchor="end">75</text>
<line x1="57.40" y1="207.50" x2="59.60" y2="207.50" stroke="#111" stroke-width="0.7"/>
<text x="53.60" y="209.50" font-size="5.8" fill="#222" stroke="#222" stroke-width="0.1" text-anchor="end">100</text>
<line x1="57.40" y1="197.50" x2="59.60" y2="197.50" stroke="#111" stroke-width="0.7"/>
<text x="53.60" y="199.50" font-size="5.8" fill="#222" stroke="#222" stroke-width="0.1" text-anchor="end">125</text>
<line x1="57.40" y1="187.50" x2="59.60" y2="187.50" stroke="#111" stroke-width="0.7"/>
<text x="53.60" y="189.50" font-size="5.8" fill="#222" stroke="#222" stroke-width="0.1" text-anchor="end">150</text>
<line x1="57.40" y1="275.50" x2="59.60" y2="275.50" stroke="#111" stroke-width="0.7"/>
<text x="53.60" y="277.50" font-size="5.8" fill="#222" stroke="#222" stroke-width="0.1" text-anchor="end">0</text>
<line x1="57.40" y1="269.15" x2="59.60" y2="269.15" stroke="#111" stroke-width="0.7"/>
<text x="53.60" y="271.15" font-size="5.8" fill="#222" stroke="#222" stroke-width="0.1" text-anchor="end">1</text>
<line x1="57.40" y1="262.80" x2="59.60" y2="262.80" stroke="#111" stroke-width="0.7"/>
<text x="53.60" y="264.80" font-size="5.8" fill="#222" stroke="#222" stroke-width="0.1" text-anchor="end">2</text>
<line x1="57.40" y1="256.45" x2="59.60" y2="256.45" stroke="#111" stroke-width="0.7"/>
<text x="53.60" y="258.45" font-size="5.8" fill="#222" stroke="#222" stroke-width="0.1" text-anchor="end">3</text>
<line x1="57.40" y1="250.10" x2="59.60" y2="250.10" stroke="#111" stroke-width="0.7"/>
<text x="53.60" y="252.10" font-size="5.8" fill="#222" stroke="#222" stroke-width="0.1" text-anchor="end">4</text>
<line x1="59.60" y1="275.50" x2="127.50" y2="275.50" stroke="#111" stroke-width="0.9"/>
<line x1="60.20" y1="275.50" x2="60.20" y2="277.50" stroke="#111" stroke-width="0.7"/>
<text x="60.20" y="286.70" font-size="5.9" fill="#222" stroke="#222" stroke-width="0.1" text-anchor="middle">0</text>
<line x1="68.98" y1="275.50" x2="68.98" y2="277.50" stroke="#111" stroke-width="0.7"/>
<text x="68.98" y="286.70" font-size="5.9" fill="#222" stroke="#222" stroke-width="0.1" text-anchor="middle">2</text>
<line x1="77.76" y1="275.50" x2="77.76" y2="277.50" stroke="#111" stroke-width="0.7"/>
<text x="77.76" y="286.70" font-size="5.9" fill="#222" stroke="#222" stroke-width="0.1" text-anchor="middle">4</text>
<line x1="86.54" y1="275.50" x2="86.54" y2="277.50" stroke="#111" stroke-width="0.7"/>
<text x="86.54" y="286.70" font-size="5.9" fill="#222" stroke="#222" stroke-width="0.1" text-anchor="middle">6</text>
<line x1="95.32" y1="275.50" x2="95.32" y2="277.50" stroke="#111" stroke-width="0.7"/>
<text x="95.32" y="286.70" font-size="5.9" fill="#222" stroke="#222" stroke-width="0.1" text-anchor="middle">8</text>
<line x1="104.10" y1="275.50" x2="104.10" y2="277.50" stroke="#111" stroke-width="0.7"/>
<text x="104.10" y="286.70" font-size="5.9" fill="#222" stroke="#222" stroke-width="0.1" text-anchor="middle">10</text>
<line x1="112.88" y1="275.50" x2="112.88" y2="277.50" stroke="#111" stroke-width="0.7"/>
<text x="112.88" y="286.70" font-size="5.9" fill="#222" stroke="#222" stroke-width="0.1" text-anchor="middle">12</text>
<line x1="121.66" y1="275.50" x2="121.66" y2="277.50" stroke="#111" stroke-width="0.7"/>
<text x="121.66" y="286.70" font-size="5.9" fill="#222" stroke="#222" stroke-width="0.1" text-anchor="middle">14</text>
<text x="93.20" y="175.30" font-size="8.2" fill="#111" text-anchor="middle">AML4 PB</text>
<polyline points="60.20,275.50 82.15,274.23 95.32,265.98 108.49,241.10 121.66,205.50" fill="none" stroke="#111111" stroke-width="1.0"/>
<polyline points="60.20,275.50 82.15,274.55 95.32,269.15 108.49,243.10 121.66,227.50" fill="none" stroke="#c8102e" stroke-width="1.0"/>
<polyline points="60.20,275.50 82.15,274.87 95.32,271.69 108.49,255.18 121.66,237.50" fill="none" stroke="#17528e" stroke-width="1.0"/>
<rect x="60.60" y="244.60" width="67.90" height="4.60" fill="#ffffff" stroke="none" stroke-width="0"/>
<path d="M80.55,272.63 L83.75,272.63 L82.15,275.35 Z" fill="#111111"/>
<path d="M93.72,258.35 L96.92,258.35 L95.32,261.06 Z" fill="#111111"/>
<path d="M93.72,263.43 L96.92,263.43 L95.32,266.14 Z" fill="#111111"/>
<path d="M106.89,238.62 L110.09,238.62 L108.49,241.34 Z" fill="#111111"/>
<path d="M106.89,239.82 L110.09,239.82 L108.49,242.54 Z" fill="#111111"/>
<path d="M106.89,262.79 L110.09,262.79 L108.49,265.51 Z" fill="#111111"/>
<path d="M120.06,184.22 L123.26,184.22 L121.66,186.94 Z" fill="#111111"/>
<path d="M120.06,191.42 L123.26,191.42 L121.66,194.14 Z" fill="#111111"/>
<path d="M120.06,234.22 L123.26,234.22 L121.66,236.94 Z" fill="#111111"/>
<path d="M120.06,235.02 L123.26,235.02 L121.66,237.74 Z" fill="#111111"/>
<path d="M80.55,272.00 L83.75,272.00 L82.15,274.72 Z" fill="#c8102e"/>
<path d="M93.72,267.87 L96.92,267.87 L95.32,270.59 Z" fill="#c8102e"/>
<path d="M93.72,269.14 L96.92,269.14 L95.32,271.86 Z" fill="#c8102e"/>
<path d="M106.89,241.42 L110.09,241.42 L108.49,244.14 Z" fill="#c8102e"/>
<path d="M106.89,242.22 L110.09,242.22 L108.49,244.94 Z" fill="#c8102e"/>
<path d="M120.06,213.02 L123.26,213.02 L121.66,215.74 Z" fill="#c8102e"/>
<path d="M120.06,225.82 L123.26,225.82 L121.66,228.54 Z" fill="#c8102e"/>
<path d="M120.06,239.42 L123.26,239.42 L121.66,242.14 Z" fill="#c8102e"/>
<path d="M80.55,273.59 L83.75,273.59 L82.15,276.31 Z" fill="#17528e"/>
<path d="M93.72,269.78 L96.92,269.78 L95.32,272.50 Z" fill="#17528e"/>
<path d="M93.72,271.36 L96.92,271.36 L95.32,274.08 Z" fill="#17528e"/>
<path d="M106.89,248.82 L110.09,248.82 L108.49,251.54 Z" fill="#17528e"/>
<path d="M106.89,253.90 L110.09,253.90 L108.49,256.62 Z" fill="#17528e"/>
<path d="M120.06,233.02 L123.26,233.02 L121.66,235.74 Z" fill="#17528e"/>
<path d="M120.06,235.42 L123.26,235.42 L121.66,238.14 Z" fill="#17528e"/>
<path d="M120.06,237.42 L123.26,237.42 L121.66,240.14 Z" fill="#17528e"/>
<line x1="63.60" y1="189.80" x2="70.60" y2="189.80" stroke="#111111" stroke-width="0.8"/>
<path d="M65.66,188.65 L68.54,188.65 L67.10,191.10 Z" fill="#111111"/>
<text x="73.80" y="191.80" font-size="6.4" fill="#222" stroke="#222" stroke-width="0.1" textLength="18.8" lengthAdjust="spacingAndGlyphs">DMSO</text>
<line x1="63.60" y1="198.25" x2="70.60" y2="198.25" stroke="#c8102e" stroke-width="0.8"/>
<path d="M65.66,197.10 L68.54,197.10 L67.10,199.55 Z" fill="#c8102e"/>
<text x="73.80" y="200.25" font-size="6.4" fill="#222" stroke="#222" stroke-width="0.1" textLength="20" lengthAdjust="spacingAndGlyphs">MS452</text>
<line x1="63.60" y1="206.70" x2="70.60" y2="206.70" stroke="#17528e" stroke-width="0.8"/>
<path d="M65.66,205.55 L68.54,205.55 L67.10,208.00 Z" fill="#17528e"/>
<text x="73.80" y="208.70" font-size="6.4" fill="#222" stroke="#222" stroke-width="0.1" textLength="20.8" lengthAdjust="spacingAndGlyphs">BDA-41</text>
<text x="28.80" y="229.30" font-size="8.0" fill="#222" stroke="#222" stroke-width="0.16" text-anchor="middle" textLength="66" lengthAdjust="spacingAndGlyphs" transform="rotate(-90 28.80 229.30)">Absolute count of hCD45+</text>
<text x="38.40" y="229.30" font-size="8.0" fill="#222" stroke="#222" stroke-width="0.16" text-anchor="middle" textLength="56" lengthAdjust="spacingAndGlyphs" transform="rotate(-90 38.40 229.30)">cells/ml in PB (x1000)</text>
<line x1="180.20" y1="180.00" x2="180.20" y2="275.80" stroke="#111" stroke-width="0.9"/>
<line x1="178.00" y1="275.80" x2="180.20" y2="275.80" stroke="#111" stroke-width="0.7"/>
<text x="174.20" y="277.80" font-size="5.8" fill="#222" stroke="#222" stroke-width="0.1" text-anchor="end">0</text>
<line x1="178.00" y1="262.55" x2="180.20" y2="262.55" stroke="#111" stroke-width="0.7"/>
<text x="174.20" y="264.55" font-size="5.8" fill="#222" stroke="#222" stroke-width="0.1" text-anchor="end">25</text>
<line x1="178.00" y1="249.30" x2="180.20" y2="249.30" stroke="#111" stroke-width="0.7"/>
<text x="174.20" y="251.30" font-size="5.8" fill="#222" stroke="#222" stroke-width="0.1" text-anchor="end">50</text>
<line x1="178.00" y1="236.05" x2="180.20" y2="236.05" stroke="#111" stroke-width="0.7"/>
<text x="174.20" y="238.05" font-size="5.8" fill="#222" stroke="#222" stroke-width="0.1" text-anchor="end">75</text>
<line x1="178.00" y1="222.80" x2="180.20" y2="222.80" stroke="#111" stroke-width="0.7"/>
<text x="174.20" y="224.80" font-size="5.8" fill="#222" stroke="#222" stroke-width="0.1" text-anchor="end">100</text>
<line x1="178.00" y1="209.55" x2="180.20" y2="209.55" stroke="#111" stroke-width="0.7"/>
<text x="174.20" y="211.55" font-size="5.8" fill="#222" stroke="#222" stroke-width="0.1" text-anchor="end">125</text>
<line x1="178.00" y1="196.30" x2="180.20" y2="196.30" stroke="#111" stroke-width="0.7"/>
<text x="174.20" y="198.30" font-size="5.8" fill="#222" stroke="#222" stroke-width="0.1" text-anchor="end">150</text>
<line x1="178.00" y1="183.05" x2="180.20" y2="183.05" stroke="#111" stroke-width="0.7"/>
<text x="174.20" y="185.05" font-size="5.8" fill="#222" stroke="#222" stroke-width="0.1" text-anchor="end">175</text>
<line x1="180.20" y1="275.80" x2="249.60" y2="275.80" stroke="#111" stroke-width="0.9"/>
<line x1="180.80" y1="275.80" x2="180.80" y2="277.80" stroke="#111" stroke-width="0.7"/>
<text x="180.80" y="287.00" font-size="5.9" fill="#222" stroke="#222" stroke-width="0.1" text-anchor="middle">0</text>
<line x1="193.40" y1="275.80" x2="193.40" y2="277.80" stroke="#111" stroke-width="0.7"/>
<text x="193.40" y="287.00" font-size="5.9" fill="#222" stroke="#222" stroke-width="0.1" text-anchor="middle">2</text>
<line x1="206.00" y1="275.80" x2="206.00" y2="277.80" stroke="#111" stroke-width="0.7"/>
<text x="206.00" y="287.00" font-size="5.9" fill="#222" stroke="#222" stroke-width="0.1" text-anchor="middle">4</text>
<line x1="218.60" y1="275.80" x2="218.60" y2="277.80" stroke="#111" stroke-width="0.7"/>
<text x="218.60" y="287.00" font-size="5.9" fill="#222" stroke="#222" stroke-width="0.1" text-anchor="middle">6</text>
<line x1="231.20" y1="275.80" x2="231.20" y2="277.80" stroke="#111" stroke-width="0.7"/>
<text x="231.20" y="287.00" font-size="5.9" fill="#222" stroke="#222" stroke-width="0.1" text-anchor="middle">8</text>
<line x1="243.80" y1="275.80" x2="243.80" y2="277.80" stroke="#111" stroke-width="0.7"/>
<text x="243.80" y="287.00" font-size="5.9" fill="#222" stroke="#222" stroke-width="0.1" text-anchor="middle">10</text>
<text x="215.00" y="175.30" font-size="8.2" fill="#111" text-anchor="middle">AML5 PB</text>
<polyline points="180.80,275.80 212.30,269.44 231.20,230.75 243.80,218.56" fill="none" stroke="#111111" stroke-width="1.0"/>
<polyline points="180.80,275.80 212.30,270.50 231.20,258.84 243.80,241.35" fill="none" stroke="#c8102e" stroke-width="1.0"/>
<polyline points="180.80,275.80 212.30,273.15 231.20,262.55 243.80,249.30" fill="none" stroke="#17528e" stroke-width="1.0"/>
<circle cx="212.30" cy="265.20" r="1.25" fill="#111111" stroke="none" stroke-width="0.6"/>
<circle cx="212.30" cy="266.79" r="1.25" fill="#111111" stroke="none" stroke-width="0.6"/>
<circle cx="212.30" cy="267.85" r="1.25" fill="#111111" stroke="none" stroke-width="0.6"/>
<circle cx="231.20" cy="212.20" r="1.25" fill="#111111" stroke="none" stroke-width="0.6"/>
<circle cx="231.20" cy="217.50" r="1.25" fill="#111111" stroke="none" stroke-width="0.6"/>
<circle cx="231.20" cy="259.90" r="1.25" fill="#111111" stroke="none" stroke-width="0.6"/>
<circle cx="231.20" cy="260.96" r="1.25" fill="#111111" stroke="none" stroke-width="0.6"/>
<circle cx="243.80" cy="183.05" r="1.25" fill="#111111" stroke="none" stroke-width="0.6"/>
<circle cx="243.80" cy="234.99" r="1.25" fill="#111111" stroke="none" stroke-width="0.6"/>
<circle cx="243.80" cy="236.05" r="1.25" fill="#111111" stroke="none" stroke-width="0.6"/>
<circle cx="212.30" cy="269.44" r="1.25" fill="#c8102e" stroke="none" stroke-width="0.6"/>
<circle cx="212.30" cy="271.56" r="1.25" fill="#c8102e" stroke="none" stroke-width="0.6"/>
<circle cx="231.20" cy="245.06" r="1.25" fill="#c8102e" stroke="none" stroke-width="0.6"/>
<circle cx="231.20" cy="256.19" r="1.25" fill="#c8102e" stroke="none" stroke-width="0.6"/>
<circle cx="231.20" cy="257.25" r="1.25" fill="#c8102e" stroke="none" stroke-width="0.6"/>
<circle cx="243.80" cy="205.84" r="1.25" fill="#c8102e" stroke="none" stroke-width="0.6"/>
<circle cx="243.80" cy="241.35" r="1.25" fill="#c8102e" stroke="none" stroke-width="0.6"/>
<circle cx="212.30" cy="273.15" r="1.25" fill="#17528e" stroke="none" stroke-width="0.6"/>
<circle cx="231.20" cy="250.89" r="1.25" fill="#17528e" stroke="none" stroke-width="0.6"/>
<circle cx="231.20" cy="260.96" r="1.25" fill="#17528e" stroke="none" stroke-width="0.6"/>
<circle cx="231.20" cy="274.21" r="1.25" fill="#17528e" stroke="none" stroke-width="0.6"/>
<circle cx="243.80" cy="232.34" r="1.25" fill="#17528e" stroke="none" stroke-width="0.6"/>
<circle cx="243.80" cy="255.66" r="1.25" fill="#17528e" stroke="none" stroke-width="0.6"/>
<circle cx="243.80" cy="259.90" r="1.25" fill="#17528e" stroke="none" stroke-width="0.6"/>
<line x1="183.40" y1="186.10" x2="190.40" y2="186.10" stroke="#111111" stroke-width="0.8"/>
<circle cx="186.90" cy="186.10" r="1.125" fill="#111111" stroke="none" stroke-width="0.6"/>
<text x="193.60" y="188.10" font-size="6.4" fill="#222" stroke="#222" stroke-width="0.1" textLength="18.8" lengthAdjust="spacingAndGlyphs">DMSO</text>
<line x1="183.40" y1="194.30" x2="190.40" y2="194.30" stroke="#c8102e" stroke-width="0.8"/>
<circle cx="186.90" cy="194.30" r="1.125" fill="#c8102e" stroke="none" stroke-width="0.6"/>
<text x="193.60" y="196.30" font-size="6.4" fill="#222" stroke="#222" stroke-width="0.1" textLength="20" lengthAdjust="spacingAndGlyphs">MS452</text>
<line x1="183.40" y1="202.50" x2="190.40" y2="202.50" stroke="#17528e" stroke-width="0.8"/>
<circle cx="186.90" cy="202.50" r="1.125" fill="#17528e" stroke="none" stroke-width="0.6"/>
<text x="193.60" y="204.50" font-size="6.4" fill="#222" stroke="#222" stroke-width="0.1" textLength="20.8" lengthAdjust="spacingAndGlyphs">BDA-41</text>
<text x="149.10" y="227.50" font-size="8.0" fill="#222" stroke="#222" stroke-width="0.16" text-anchor="middle" textLength="66" lengthAdjust="spacingAndGlyphs" transform="rotate(-90 149.10 227.50)">Absolute count of hCD45+</text>
<text x="159.00" y="227.50" font-size="8.0" fill="#222" stroke="#222" stroke-width="0.16" text-anchor="middle" textLength="56" lengthAdjust="spacingAndGlyphs" transform="rotate(-90 159.00 227.50)">cells/ml in PB (x1000)</text>
<line x1="301.40" y1="185.50" x2="301.40" y2="246.60" stroke="#111" stroke-width="0.9"/>
<line x1="301.40" y1="250.20" x2="301.40" y2="275.50" stroke="#111" stroke-width="0.9"/>
<line x1="299.80" y1="247.40" x2="303.00" y2="246.00" stroke="#111" stroke-width="0.7"/>
<line x1="299.80" y1="251.00" x2="303.00" y2="249.60" stroke="#111" stroke-width="0.7"/>
<line x1="299.20" y1="233.54" x2="301.40" y2="233.54" stroke="#111" stroke-width="0.7"/>
<text x="295.40" y="235.54" font-size="5.8" fill="#222" stroke="#222" stroke-width="0.1" text-anchor="end">2.0</text>
<line x1="299.20" y1="218.38" x2="301.40" y2="218.38" stroke="#111" stroke-width="0.7"/>
<text x="295.40" y="220.38" font-size="5.8" fill="#222" stroke="#222" stroke-width="0.1" text-anchor="end">4.0</text>
<line x1="299.20" y1="203.22" x2="301.40" y2="203.22" stroke="#111" stroke-width="0.7"/>
<text x="295.40" y="205.22" font-size="5.8" fill="#222" stroke="#222" stroke-width="0.1" text-anchor="end">6.0</text>
<line x1="299.20" y1="188.06" x2="301.40" y2="188.06" stroke="#111" stroke-width="0.7"/>
<text x="295.40" y="190.06" font-size="5.8" fill="#222" stroke="#222" stroke-width="0.1" text-anchor="end">8.0</text>
<line x1="299.20" y1="275.50" x2="301.40" y2="275.50" stroke="#111" stroke-width="0.7"/>
<text x="295.40" y="277.50" font-size="5.8" fill="#222" stroke="#222" stroke-width="0.1" text-anchor="end">0.0</text>
<line x1="299.20" y1="266.33" x2="301.40" y2="266.33" stroke="#111" stroke-width="0.7"/>
<text x="295.40" y="268.33" font-size="5.8" fill="#222" stroke="#222" stroke-width="0.1" text-anchor="end">0.1</text>
<line x1="299.20" y1="257.16" x2="301.40" y2="257.16" stroke="#111" stroke-width="0.7"/>
<text x="295.40" y="259.16" font-size="5.8" fill="#222" stroke="#222" stroke-width="0.1" text-anchor="end">0.2</text>
<line x1="299.20" y1="247.99" x2="301.40" y2="247.99" stroke="#111" stroke-width="0.7"/>
<text x="295.40" y="249.99" font-size="5.8" fill="#222" stroke="#222" stroke-width="0.1" text-anchor="end">0.3</text>
<line x1="301.40" y1="275.50" x2="369.50" y2="275.50" stroke="#111" stroke-width="0.9"/>
<line x1="302.00" y1="275.50" x2="302.00" y2="277.50" stroke="#111" stroke-width="0.7"/>
<text x="302.00" y="286.70" font-size="5.9" fill="#222" stroke="#222" stroke-width="0.1" text-anchor="middle">0</text>
<line x1="312.70" y1="275.50" x2="312.70" y2="277.50" stroke="#111" stroke-width="0.7"/>
<text x="312.70" y="286.70" font-size="5.9" fill="#222" stroke="#222" stroke-width="0.1" text-anchor="middle">2</text>
<line x1="323.40" y1="275.50" x2="323.40" y2="277.50" stroke="#111" stroke-width="0.7"/>
<text x="323.40" y="286.70" font-size="5.9" fill="#222" stroke="#222" stroke-width="0.1" text-anchor="middle">4</text>
<line x1="334.10" y1="275.50" x2="334.10" y2="277.50" stroke="#111" stroke-width="0.7"/>
<text x="334.10" y="286.70" font-size="5.9" fill="#222" stroke="#222" stroke-width="0.1" text-anchor="middle">6</text>
<line x1="344.80" y1="275.50" x2="344.80" y2="277.50" stroke="#111" stroke-width="0.7"/>
<text x="344.80" y="286.70" font-size="5.9" fill="#222" stroke="#222" stroke-width="0.1" text-anchor="middle">8</text>
<line x1="355.50" y1="275.50" x2="355.50" y2="277.50" stroke="#111" stroke-width="0.7"/>
<text x="355.50" y="286.70" font-size="5.9" fill="#222" stroke="#222" stroke-width="0.1" text-anchor="middle">10</text>
<line x1="366.20" y1="275.50" x2="366.20" y2="277.50" stroke="#111" stroke-width="0.7"/>
<text x="366.20" y="286.70" font-size="5.9" fill="#222" stroke="#222" stroke-width="0.1" text-anchor="middle">12</text>
<text x="335.00" y="175.30" font-size="8.2" fill="#111" text-anchor="middle">AML8 PB</text>
<polyline points="302.00,275.50 328.75,255.33 344.80,219.14 366.20,201.70" fill="none" stroke="#111111" stroke-width="1.0"/>
<polyline points="302.00,275.50 328.75,261.75 331.96,249.82 344.80,222.93 366.20,212.32" fill="none" stroke="#c8102e" stroke-width="1.0"/>
<polyline points="302.00,275.50 328.75,270.92 344.80,237.33 366.20,216.11" fill="none" stroke="#17528e" stroke-width="1.0"/>
<rect x="302.40" y="246.00" width="68.10" height="4.80" fill="#ffffff" stroke="none" stroke-width="0"/>
<path d="M326.15,251.26 L329.75,251.26 L327.95,248.11 Z" fill="none" stroke="#111111" stroke-width="0.55"/>
<path d="M327.75,252.18 L331.35,252.18 L329.55,249.03 Z" fill="none" stroke="#111111" stroke-width="0.55"/>
<path d="M343.00,212.24 L346.60,212.24 L344.80,209.09 Z" fill="none" stroke="#111111" stroke-width="0.55"/>
<path d="M343.00,219.82 L346.60,219.82 L344.80,216.67 Z" fill="none" stroke="#111111" stroke-width="0.55"/>
<path d="M364.40,185.71 L368.00,185.71 L366.20,182.56 Z" fill="none" stroke="#111111" stroke-width="0.55"/>
<path d="M364.40,202.39 L368.00,202.39 L366.20,199.24 Z" fill="none" stroke="#111111" stroke-width="0.55"/>
<path d="M364.40,217.55 L368.00,217.55 L366.20,214.40 Z" fill="none" stroke="#111111" stroke-width="0.55"/>
<path d="M326.95,261.35 L330.55,261.35 L328.75,258.20 Z" fill="none" stroke="#c8102e" stroke-width="0.55"/>
<path d="M328.45,263.19 L332.05,263.19 L330.25,260.04 Z" fill="none" stroke="#c8102e" stroke-width="0.55"/>
<path d="M343.00,206.93 L346.60,206.93 L344.80,203.78 Z" fill="none" stroke="#c8102e" stroke-width="0.55"/>
<path d="M343.00,226.64 L346.60,226.64 L344.80,223.49 Z" fill="none" stroke="#c8102e" stroke-width="0.55"/>
<path d="M343.00,230.43 L346.60,230.43 L344.80,227.28 Z" fill="none" stroke="#c8102e" stroke-width="0.55"/>
<path d="M364.40,199.35 L368.00,199.35 L366.20,196.20 Z" fill="none" stroke="#c8102e" stroke-width="0.55"/>
<path d="M364.40,209.21 L368.00,209.21 L366.20,206.06 Z" fill="none" stroke="#c8102e" stroke-width="0.55"/>
<path d="M364.40,231.95 L368.00,231.95 L366.20,228.80 Z" fill="none" stroke="#c8102e" stroke-width="0.55"/>
<path d="M326.95,269.60 L330.55,269.60 L328.75,266.45 Z" fill="none" stroke="#17528e" stroke-width="0.55"/>
<path d="M343.00,232.71 L346.60,232.71 L344.80,229.56 Z" fill="none" stroke="#17528e" stroke-width="0.55"/>
<path d="M343.00,240.29 L346.60,240.29 L344.80,237.14 Z" fill="none" stroke="#17528e" stroke-width="0.55"/>
<path d="M343.00,241.80 L346.60,241.80 L344.80,238.65 Z" fill="none" stroke="#17528e" stroke-width="0.55"/>
<path d="M364.40,196.32 L368.00,196.32 L366.20,193.17 Z" fill="none" stroke="#17528e" stroke-width="0.55"/>
<path d="M364.40,219.82 L368.00,219.82 L366.20,216.67 Z" fill="none" stroke="#17528e" stroke-width="0.55"/>
<path d="M364.40,233.46 L368.00,233.46 L366.20,230.31 Z" fill="none" stroke="#17528e" stroke-width="0.55"/>
<line x1="304.60" y1="189.80" x2="311.60" y2="189.80" stroke="#111111" stroke-width="0.8"/>
<path d="M306.48,191.10 L309.72,191.10 L308.10,188.26 Z" fill="none" stroke="#111111" stroke-width="0.55"/>
<text x="314.80" y="191.80" font-size="6.4" fill="#222" stroke="#222" stroke-width="0.1" textLength="18.8" lengthAdjust="spacingAndGlyphs">DMSO</text>
<line x1="304.60" y1="198.25" x2="311.60" y2="198.25" stroke="#c8102e" stroke-width="0.8"/>
<path d="M306.48,199.55 L309.72,199.55 L308.10,196.71 Z" fill="none" stroke="#c8102e" stroke-width="0.55"/>
<text x="314.80" y="200.25" font-size="6.4" fill="#222" stroke="#222" stroke-width="0.1" textLength="20" lengthAdjust="spacingAndGlyphs">MS452</text>
<line x1="304.60" y1="206.70" x2="311.60" y2="206.70" stroke="#17528e" stroke-width="0.8"/>
<path d="M306.48,208.00 L309.72,208.00 L308.10,205.16 Z" fill="none" stroke="#17528e" stroke-width="0.55"/>
<text x="314.80" y="208.70" font-size="6.4" fill="#222" stroke="#222" stroke-width="0.1" textLength="20.8" lengthAdjust="spacingAndGlyphs">BDA-41</text>
<text x="271.80" y="229.30" font-size="8.0" fill="#222" stroke="#222" stroke-width="0.16" text-anchor="middle" textLength="66" lengthAdjust="spacingAndGlyphs" transform="rotate(-90 271.80 229.30)">Absolute count of hCD45+</text>
<text x="282.00" y="229.30" font-size="8.0" fill="#222" stroke="#222" stroke-width="0.16" text-anchor="middle" textLength="56" lengthAdjust="spacingAndGlyphs" transform="rotate(-90 282.00 229.30)">cells/ml in PB (x1000)</text>
<line x1="420.70" y1="183.80" x2="420.70" y2="237.20" stroke="#111" stroke-width="0.9"/>
<line x1="420.70" y1="240.40" x2="420.70" y2="275.60" stroke="#111" stroke-width="0.9"/>
<line x1="419.10" y1="238.00" x2="422.30" y2="236.60" stroke="#111" stroke-width="0.7"/>
<line x1="419.10" y1="241.20" x2="422.30" y2="239.80" stroke="#111" stroke-width="0.7"/>
<line x1="418.50" y1="231.50" x2="420.70" y2="231.50" stroke="#111" stroke-width="0.7"/>
<text x="414.70" y="233.50" font-size="5.8" fill="#222" stroke="#222" stroke-width="0.1" text-anchor="end">1.0</text>
<line x1="418.50" y1="218.75" x2="420.70" y2="218.75" stroke="#111" stroke-width="0.7"/>
<text x="414.70" y="220.75" font-size="5.8" fill="#222" stroke="#222" stroke-width="0.1" text-anchor="end">1.5</text>
<line x1="418.50" y1="206.00" x2="420.70" y2="206.00" stroke="#111" stroke-width="0.7"/>
<text x="414.70" y="208.00" font-size="5.8" fill="#222" stroke="#222" stroke-width="0.1" text-anchor="end">2.0</text>
<line x1="418.50" y1="193.25" x2="420.70" y2="193.25" stroke="#111" stroke-width="0.7"/>
<text x="414.70" y="195.25" font-size="5.8" fill="#222" stroke="#222" stroke-width="0.1" text-anchor="end">2.5</text>
<line x1="418.50" y1="275.60" x2="420.70" y2="275.60" stroke="#111" stroke-width="0.7"/>
<text x="414.70" y="277.60" font-size="5.8" fill="#222" stroke="#222" stroke-width="0.1" text-anchor="end">0.0</text>
<line x1="418.50" y1="266.92" x2="420.70" y2="266.92" stroke="#111" stroke-width="0.7"/>
<text x="414.70" y="268.92" font-size="5.8" fill="#222" stroke="#222" stroke-width="0.1" text-anchor="end">0.2</text>
<line x1="418.50" y1="258.24" x2="420.70" y2="258.24" stroke="#111" stroke-width="0.7"/>
<text x="414.70" y="260.24" font-size="5.8" fill="#222" stroke="#222" stroke-width="0.1" text-anchor="end">0.4</text>
<line x1="418.50" y1="249.56" x2="420.70" y2="249.56" stroke="#111" stroke-width="0.7"/>
<text x="414.70" y="251.56" font-size="5.8" fill="#222" stroke="#222" stroke-width="0.1" text-anchor="end">0.6</text>
<line x1="418.50" y1="240.88" x2="420.70" y2="240.88" stroke="#111" stroke-width="0.7"/>
<text x="414.70" y="242.88" font-size="5.8" fill="#222" stroke="#222" stroke-width="0.1" text-anchor="end">0.8</text>
<line x1="420.70" y1="275.60" x2="488.50" y2="275.60" stroke="#111" stroke-width="0.9"/>
<line x1="420.80" y1="275.60" x2="420.80" y2="277.60" stroke="#111" stroke-width="0.7"/>
<text x="420.80" y="286.80" font-size="5.9" fill="#222" stroke="#222" stroke-width="0.1" text-anchor="middle">0</text>
<line x1="433.55" y1="275.60" x2="433.55" y2="277.60" stroke="#111" stroke-width="0.7"/>
<text x="433.55" y="286.80" font-size="5.9" fill="#222" stroke="#222" stroke-width="0.1" text-anchor="middle">2</text>
<line x1="446.30" y1="275.60" x2="446.30" y2="277.60" stroke="#111" stroke-width="0.7"/>
<text x="446.30" y="286.80" font-size="5.9" fill="#222" stroke="#222" stroke-width="0.1" text-anchor="middle">4</text>
<line x1="459.05" y1="275.60" x2="459.05" y2="277.60" stroke="#111" stroke-width="0.7"/>
<text x="459.05" y="286.80" font-size="5.9" fill="#222" stroke="#222" stroke-width="0.1" text-anchor="middle">6</text>
<line x1="471.80" y1="275.60" x2="471.80" y2="277.60" stroke="#111" stroke-width="0.7"/>
<text x="471.80" y="286.80" font-size="5.9" fill="#222" stroke="#222" stroke-width="0.1" text-anchor="middle">8</text>
<line x1="484.55" y1="275.60" x2="484.55" y2="277.60" stroke="#111" stroke-width="0.7"/>
<text x="484.55" y="286.80" font-size="5.9" fill="#222" stroke="#222" stroke-width="0.1" text-anchor="middle">10</text>
<text x="453.80" y="175.30" font-size="8.2" fill="#111" text-anchor="middle">AML9 PB</text>
<polyline points="420.80,275.60 446.30,270.39 459.05,263.45 471.80,232.78 484.55,214.16" fill="none" stroke="#111111" stroke-width="1.0"/>
<polyline points="446.30,271.26 459.05,263.45 471.80,256.07 484.55,251.73" fill="none" stroke="#111111" stroke-width="1.0"/>
<polyline points="420.80,275.60 446.30,270.39 459.05,271.26 471.80,253.03 484.55,232.78" fill="none" stroke="#c8102e" stroke-width="1.0"/>
<polyline points="420.80,275.60 446.30,275.60 459.05,266.92 471.80,260.41 484.55,251.73" fill="none" stroke="#17528e" stroke-width="1.0"/>
<rect x="421.70" y="236.60" width="67.80" height="4.40" fill="#ffffff" stroke="none" stroke-width="0"/>
<circle cx="446.30" cy="256.07" r="1.575" fill="none" stroke="#111111" stroke-width="0.65"/>
<circle cx="446.30" cy="269.09" r="1.575" fill="none" stroke="#111111" stroke-width="0.65"/>
<circle cx="459.05" cy="246.52" r="1.575" fill="none" stroke="#111111" stroke-width="0.65"/>
<circle cx="459.05" cy="251.73" r="1.575" fill="none" stroke="#111111" stroke-width="0.65"/>
<circle cx="459.05" cy="264.75" r="1.575" fill="none" stroke="#111111" stroke-width="0.65"/>
<circle cx="471.80" cy="207.28" r="1.575" fill="none" stroke="#111111" stroke-width="0.65"/>
<circle cx="471.80" cy="244.35" r="1.575" fill="none" stroke="#111111" stroke-width="0.65"/>
<circle cx="471.80" cy="247.82" r="1.575" fill="none" stroke="#111111" stroke-width="0.65"/>
<circle cx="471.80" cy="258.24" r="1.575" fill="none" stroke="#111111" stroke-width="0.65"/>
<circle cx="471.80" cy="270.39" r="1.575" fill="none" stroke="#111111" stroke-width="0.65"/>
<circle cx="484.55" cy="184.32" r="1.575" fill="none" stroke="#111111" stroke-width="0.65"/>
<circle cx="484.55" cy="214.16" r="1.575" fill="none" stroke="#111111" stroke-width="0.65"/>
<circle cx="484.55" cy="252.60" r="1.575" fill="none" stroke="#111111" stroke-width="0.65"/>
<circle cx="446.30" cy="249.56" r="1.575" fill="none" stroke="#c8102e" stroke-width="0.65"/>
<circle cx="446.30" cy="262.58" r="1.575" fill="none" stroke="#c8102e" stroke-width="0.65"/>
<circle cx="446.30" cy="267.79" r="1.575" fill="none" stroke="#c8102e" stroke-width="0.65"/>
<circle cx="459.05" cy="266.92" r="1.575" fill="none" stroke="#c8102e" stroke-width="0.65"/>
<circle cx="459.05" cy="270.39" r="1.575" fill="none" stroke="#c8102e" stroke-width="0.65"/>
<circle cx="459.05" cy="273.43" r="1.575" fill="none" stroke="#c8102e" stroke-width="0.65"/>
<circle cx="459.05" cy="275.60" r="1.575" fill="none" stroke="#c8102e" stroke-width="0.65"/>
<circle cx="471.80" cy="226.40" r="1.575" fill="none" stroke="#c8102e" stroke-width="0.65"/>
<circle cx="471.80" cy="228.44" r="1.575" fill="none" stroke="#c8102e" stroke-width="0.65"/>
<circle cx="471.80" cy="250.43" r="1.575" fill="none" stroke="#c8102e" stroke-width="0.65"/>
<circle cx="471.80" cy="266.92" r="1.575" fill="none" stroke="#c8102e" stroke-width="0.65"/>
<circle cx="471.80" cy="272.13" r="1.575" fill="none" stroke="#c8102e" stroke-width="0.65"/>
<circle cx="484.55" cy="220.03" r="1.575" fill="none" stroke="#c8102e" stroke-width="0.65"/>
<circle cx="484.55" cy="232.78" r="1.575" fill="none" stroke="#c8102e" stroke-width="0.65"/>
<circle cx="484.55" cy="234.56" r="1.575" fill="none" stroke="#c8102e" stroke-width="0.65"/>
<circle cx="459.05" cy="269.09" r="1.575" fill="none" stroke="#17528e" stroke-width="0.65"/>
<circle cx="484.55" cy="226.40" r="1.575" fill="none" stroke="#17528e" stroke-width="0.65"/>
<circle cx="484.55" cy="261.28" r="1.575" fill="none" stroke="#17528e" stroke-width="0.65"/>
<circle cx="484.55" cy="267.79" r="1.575" fill="none" stroke="#17528e" stroke-width="0.65"/>
<line x1="423.80" y1="189.80" x2="430.80" y2="189.80" stroke="#111111" stroke-width="0.8"/>
<circle cx="427.30" cy="189.80" r="1.4000000000000001" fill="none" stroke="#111111" stroke-width="0.65"/>
<text x="434.00" y="191.80" font-size="6.4" fill="#222" stroke="#222" stroke-width="0.1" textLength="18.8" lengthAdjust="spacingAndGlyphs">DMSO</text>
<line x1="423.80" y1="198.25" x2="430.80" y2="198.25" stroke="#c8102e" stroke-width="0.8"/>
<circle cx="427.30" cy="198.25" r="1.4000000000000001" fill="none" stroke="#c8102e" stroke-width="0.65"/>
<text x="434.00" y="200.25" font-size="6.4" fill="#222" stroke="#222" stroke-width="0.1" textLength="20" lengthAdjust="spacingAndGlyphs">MS452</text>
<line x1="423.80" y1="206.70" x2="430.80" y2="206.70" stroke="#17528e" stroke-width="0.8"/>
<circle cx="427.30" cy="206.70" r="1.4000000000000001" fill="none" stroke="#17528e" stroke-width="0.65"/>
<text x="434.00" y="208.70" font-size="6.4" fill="#222" stroke="#222" stroke-width="0.1" textLength="20.8" lengthAdjust="spacingAndGlyphs">BDA-41</text>
<text x="390.90" y="229.30" font-size="8.0" fill="#222" stroke="#222" stroke-width="0.16" text-anchor="middle" textLength="66" lengthAdjust="spacingAndGlyphs" transform="rotate(-90 390.90 229.30)">Absolute count of hCD45+</text>
<text x="401.00" y="229.30" font-size="8.0" fill="#222" stroke="#222" stroke-width="0.16" text-anchor="middle" textLength="56" lengthAdjust="spacingAndGlyphs" transform="rotate(-90 401.00 229.30)">cells/ml in PB (x1000)</text>
<text x="238.00" y="298.30" font-size="7.4" fill="#222" stroke="#222" stroke-width="0.2" textLength="68.5" lengthAdjust="spacingAndGlyphs">Weeks post-transplantation</text>
<text x="7.50" y="442.20" font-size="10.5" fill="#000" font-weight="bold">F</text>
<text x="6.60" y="562.50" font-size="10.5" fill="#000" font-weight="bold">G</text>
<line x1="57.80" y1="448.20" x2="57.80" y2="531.30" stroke="#111" stroke-width="0.9"/>
<line x1="55.40" y1="531.30" x2="57.80" y2="531.30" stroke="#111" stroke-width="0.7"/>
<text x="51.80" y="533.30" font-size="5.8" fill="#222" stroke="#222" stroke-width="0.1" text-anchor="end">0</text>
<line x1="55.40" y1="517.80" x2="57.80" y2="517.80" stroke="#111" stroke-width="0.7"/>
<text x="51.80" y="519.80" font-size="5.8" fill="#222" stroke="#222" stroke-width="0.1" text-anchor="end">2.5</text>
<line x1="55.40" y1="504.30" x2="57.80" y2="504.30" stroke="#111" stroke-width="0.7"/>
<text x="51.80" y="506.30" font-size="5.8" fill="#222" stroke="#222" stroke-width="0.1" text-anchor="end">5.0</text>
<line x1="55.40" y1="490.80" x2="57.80" y2="490.80" stroke="#111" stroke-width="0.7"/>
<text x="51.80" y="492.80" font-size="5.8" fill="#222" stroke="#222" stroke-width="0.1" text-anchor="end">7.5</text>
<line x1="55.40" y1="477.30" x2="57.80" y2="477.30" stroke="#111" stroke-width="0.7"/>
<text x="51.80" y="479.30" font-size="5.8" fill="#222" stroke="#222" stroke-width="0.1" text-anchor="end">10</text>
<line x1="55.40" y1="463.80" x2="57.80" y2="463.80" stroke="#111" stroke-width="0.7"/>
<text x="51.80" y="465.80" font-size="5.8" fill="#222" stroke="#222" stroke-width="0.1" text-anchor="end">12.5</text>
<line x1="55.40" y1="450.30" x2="57.80" y2="450.30" stroke="#111" stroke-width="0.7"/>
<text x="51.80" y="452.30" font-size="5.8" fill="#222" stroke="#222" stroke-width="0.1" text-anchor="end">15</text>
<line x1="56.80" y1="531.30" x2="132.00" y2="531.30" stroke="#111" stroke-width="0.9"/>
<line x1="70.70" y1="531.30" x2="70.70" y2="533.50" stroke="#111" stroke-width="0.7"/>
<text x="70.70" y="542.00" font-size="6.1" fill="#222" stroke="#222" stroke-width="0.1" text-anchor="middle" textLength="18.4" lengthAdjust="spacingAndGlyphs">DMSO</text>
<line x1="96.60" y1="531.30" x2="96.60" y2="533.50" stroke="#111" stroke-width="0.7"/>
<text x="96.60" y="542.00" font-size="6.1" fill="#222" stroke="#222" stroke-width="0.1" text-anchor="middle" textLength="19.6" lengthAdjust="spacingAndGlyphs">MS452</text>
<line x1="122.20" y1="531.30" x2="122.20" y2="533.50" stroke="#111" stroke-width="0.7"/>
<text x="122.20" y="542.00" font-size="6.1" fill="#222" stroke="#222" stroke-width="0.1" text-anchor="middle" textLength="20.7" lengthAdjust="spacingAndGlyphs">BDA-41</text>
<text x="97.00" y="442.60" font-size="8.2" fill="#111" text-anchor="middle">AML 4 Spleen</text>
<line x1="64.20" y1="480.00" x2="77.20" y2="480.00" stroke="#111111" stroke-width="1.15"/>
<path d="M69.10,471.70 L72.30,471.70 L70.70,474.42 Z" fill="#111111"/>
<circle cx="70.70" cy="480.00" r="1.25" fill="#111111" stroke="none" stroke-width="0.6"/>
<path d="M69.10,525.70 L72.30,525.70 L70.70,528.42 Z" fill="#111111"/>
<line x1="90.10" y1="506.46" x2="103.10" y2="506.46" stroke="#c8102e" stroke-width="1.15"/>
<path d="M95.00,455.50 L98.20,455.50 L96.60,458.22 Z" fill="#c8102e"/>
<circle cx="96.60" cy="506.46" r="1.25" fill="#c8102e" stroke="none" stroke-width="0.6"/>
<path d="M95.00,520.30 L98.20,520.30 L96.60,523.02 Z" fill="#c8102e"/>
<line x1="115.70" y1="524.82" x2="128.70" y2="524.82" stroke="#17528e" stroke-width="1.15"/>
<path d="M120.60,514.90 L123.80,514.90 L122.20,517.62 Z" fill="#17528e"/>
<path d="M115.60,524.62 L118.80,524.62 L117.20,527.34 Z" fill="#17528e"/>
<circle cx="127.20" cy="524.28" r="1.25" fill="#17528e" stroke="none" stroke-width="0.6"/>
<text x="24.50" y="490.00" font-size="8.0" fill="#222" stroke="#222" stroke-width="0.16" text-anchor="middle" textLength="82" lengthAdjust="spacingAndGlyphs" transform="rotate(-90 24.50 490.00)">Absolute cell count hCD45+ cells</text>
<text x="34.50" y="490.00" font-size="8.0" fill="#222" stroke="#222" stroke-width="0.16" text-anchor="middle" textLength="48.5" lengthAdjust="spacingAndGlyphs" transform="rotate(-90 34.50 490.00)">in spleen (×10e6)</text>
<line x1="179.80" y1="448.20" x2="179.80" y2="531.30" stroke="#111" stroke-width="0.9"/>
<line x1="177.40" y1="531.30" x2="179.80" y2="531.30" stroke="#111" stroke-width="0.7"/>
<text x="173.80" y="533.30" font-size="5.8" fill="#222" stroke="#222" stroke-width="0.1" text-anchor="end">0</text>
<line x1="177.40" y1="515.18" x2="179.80" y2="515.18" stroke="#111" stroke-width="0.7"/>
<text x="173.80" y="517.18" font-size="5.8" fill="#222" stroke="#222" stroke-width="0.1" text-anchor="end">1</text>
<line x1="177.40" y1="499.06" x2="179.80" y2="499.06" stroke="#111" stroke-width="0.7"/>
<text x="173.80" y="501.06" font-size="5.8" fill="#222" stroke="#222" stroke-width="0.1" text-anchor="end">2</text>
<line x1="177.40" y1="482.94" x2="179.80" y2="482.94" stroke="#111" stroke-width="0.7"/>
<text x="173.80" y="484.94" font-size="5.8" fill="#222" stroke="#222" stroke-width="0.1" text-anchor="end">3</text>
<line x1="177.40" y1="466.82" x2="179.80" y2="466.82" stroke="#111" stroke-width="0.7"/>
<text x="173.80" y="468.82" font-size="5.8" fill="#222" stroke="#222" stroke-width="0.1" text-anchor="end">4</text>
<line x1="177.40" y1="450.70" x2="179.80" y2="450.70" stroke="#111" stroke-width="0.7"/>
<text x="173.80" y="452.70" font-size="5.8" fill="#222" stroke="#222" stroke-width="0.1" text-anchor="end">5</text>
<line x1="178.80" y1="531.30" x2="254.00" y2="531.30" stroke="#111" stroke-width="0.9"/>
<line x1="193.20" y1="531.30" x2="193.20" y2="533.50" stroke="#111" stroke-width="0.7"/>
<text x="193.20" y="542.00" font-size="6.1" fill="#222" stroke="#222" stroke-width="0.1" text-anchor="middle" textLength="18.4" lengthAdjust="spacingAndGlyphs">DMSO</text>
<line x1="219.60" y1="531.30" x2="219.60" y2="533.50" stroke="#111" stroke-width="0.7"/>
<text x="219.60" y="542.00" font-size="6.1" fill="#222" stroke="#222" stroke-width="0.1" text-anchor="middle" textLength="19.6" lengthAdjust="spacingAndGlyphs">MS452</text>
<line x1="245.20" y1="531.30" x2="245.20" y2="533.50" stroke="#111" stroke-width="0.7"/>
<text x="245.20" y="542.00" font-size="6.1" fill="#222" stroke="#222" stroke-width="0.1" text-anchor="middle" textLength="20.7" lengthAdjust="spacingAndGlyphs">BDA-41</text>
<text x="219.60" y="442.20" font-size="8.2" fill="#111" text-anchor="middle">AML5 Spleen</text>
<line x1="186.70" y1="459.57" x2="199.70" y2="459.57" stroke="#111111" stroke-width="1.15"/>
<circle cx="187.20" cy="459.57" r="1.25" fill="#111111" stroke="none" stroke-width="0.6"/>
<circle cx="199.20" cy="459.57" r="1.25" fill="#111111" stroke="none" stroke-width="0.6"/>
<circle cx="193.20" cy="495.84" r="1.25" fill="#111111" stroke="none" stroke-width="0.6"/>
<line x1="213.10" y1="500.67" x2="226.10" y2="500.67" stroke="#c8102e" stroke-width="1.15"/>
<circle cx="219.60" cy="457.15" r="1.25" fill="#c8102e" stroke="none" stroke-width="0.6"/>
<circle cx="219.60" cy="500.67" r="1.25" fill="#c8102e" stroke="none" stroke-width="0.6"/>
<circle cx="219.60" cy="531.30" r="1.25" fill="#c8102e" stroke="none" stroke-width="0.6"/>
<line x1="238.70" y1="521.63" x2="251.70" y2="521.63" stroke="#17528e" stroke-width="1.15"/>
<circle cx="245.20" cy="503.90" r="1.25" fill="#17528e" stroke="none" stroke-width="0.6"/>
<circle cx="245.20" cy="521.63" r="1.25" fill="#17528e" stroke="none" stroke-width="0.6"/>
<circle cx="245.20" cy="528.08" r="1.25" fill="#17528e" stroke="none" stroke-width="0.6"/>
<text x="156.00" y="490.00" font-size="8.0" fill="#222" stroke="#222" stroke-width="0.16" text-anchor="middle" textLength="82" lengthAdjust="spacingAndGlyphs" transform="rotate(-90 156.00 490.00)">Absolute cell count hCD45+ cells</text>
<text x="165.50" y="490.00" font-size="8.0" fill="#222" stroke="#222" stroke-width="0.16" text-anchor="middle" textLength="48.5" lengthAdjust="spacingAndGlyphs" transform="rotate(-90 165.50 490.00)">in spleen (×10e6)</text>
<line x1="307.90" y1="448.20" x2="307.90" y2="531.30" stroke="#111" stroke-width="0.9"/>
<line x1="305.50" y1="531.30" x2="307.90" y2="531.30" stroke="#111" stroke-width="0.7"/>
<text x="301.90" y="533.30" font-size="5.8" fill="#222" stroke="#222" stroke-width="0.1" text-anchor="end">0</text>
<line x1="305.50" y1="515.18" x2="307.90" y2="515.18" stroke="#111" stroke-width="0.7"/>
<text x="301.90" y="517.18" font-size="5.8" fill="#222" stroke="#222" stroke-width="0.1" text-anchor="end">0.25</text>
<line x1="305.50" y1="499.06" x2="307.90" y2="499.06" stroke="#111" stroke-width="0.7"/>
<text x="301.90" y="501.06" font-size="5.8" fill="#222" stroke="#222" stroke-width="0.1" text-anchor="end">0.50</text>
<line x1="305.50" y1="482.94" x2="307.90" y2="482.94" stroke="#111" stroke-width="0.7"/>
<text x="301.90" y="484.94" font-size="5.8" fill="#222" stroke="#222" stroke-width="0.1" text-anchor="end">0.75</text>
<line x1="305.50" y1="466.82" x2="307.90" y2="466.82" stroke="#111" stroke-width="0.7"/>
<text x="301.90" y="468.82" font-size="5.8" fill="#222" stroke="#222" stroke-width="0.1" text-anchor="end">1.00</text>
<line x1="305.50" y1="450.70" x2="307.90" y2="450.70" stroke="#111" stroke-width="0.7"/>
<text x="301.90" y="452.70" font-size="5.8" fill="#222" stroke="#222" stroke-width="0.1" text-anchor="end">1.25</text>
<line x1="306.90" y1="531.30" x2="381.00" y2="531.30" stroke="#111" stroke-width="0.9"/>
<line x1="324.00" y1="531.30" x2="324.00" y2="533.50" stroke="#111" stroke-width="0.7"/>
<text x="324.00" y="542.00" font-size="6.1" fill="#222" stroke="#222" stroke-width="0.1" text-anchor="middle" textLength="18.4" lengthAdjust="spacingAndGlyphs">DMSO</text>
<line x1="347.50" y1="531.30" x2="347.50" y2="533.50" stroke="#111" stroke-width="0.7"/>
<text x="347.50" y="542.00" font-size="6.1" fill="#222" stroke="#222" stroke-width="0.1" text-anchor="middle" textLength="19.6" lengthAdjust="spacingAndGlyphs">MS452</text>
<line x1="371.20" y1="531.30" x2="371.20" y2="533.50" stroke="#111" stroke-width="0.7"/>
<text x="371.20" y="542.00" font-size="6.1" fill="#222" stroke="#222" stroke-width="0.1" text-anchor="middle" textLength="20.7" lengthAdjust="spacingAndGlyphs">BDA-41</text>
<text x="348.30" y="442.20" font-size="8.2" fill="#111" text-anchor="middle">AML8 Spleen</text>
<line x1="317.50" y1="476.49" x2="330.50" y2="476.49" stroke="#111111" stroke-width="1.15"/>
<path d="M322.20,456.65 L325.80,456.65 L324.00,453.50 Z" fill="none" stroke="#111111" stroke-width="0.55"/>
<path d="M322.20,477.93 L325.80,477.93 L324.00,474.78 Z" fill="none" stroke="#111111" stroke-width="0.55"/>
<path d="M322.20,495.34 L325.80,495.34 L324.00,492.19 Z" fill="none" stroke="#111111" stroke-width="0.55"/>
<line x1="341.00" y1="506.15" x2="354.00" y2="506.15" stroke="#c8102e" stroke-width="1.15"/>
<path d="M345.70,481.16 L349.30,481.16 L347.50,478.01 Z" fill="none" stroke="#c8102e" stroke-width="0.55"/>
<path d="M345.70,507.59 L349.30,507.59 L347.50,504.44 Z" fill="none" stroke="#c8102e" stroke-width="0.55"/>
<path d="M345.70,528.23 L349.30,528.23 L347.50,525.08 Z" fill="none" stroke="#c8102e" stroke-width="0.55"/>
<line x1="364.70" y1="499.70" x2="377.70" y2="499.70" stroke="#17528e" stroke-width="1.15"/>
<path d="M369.40,488.25 L373.00,488.25 L371.20,485.10 Z" fill="none" stroke="#17528e" stroke-width="0.55"/>
<path d="M364.90,501.14 L368.50,501.14 L366.70,497.99 Z" fill="none" stroke="#17528e" stroke-width="0.55"/>
<path d="M373.90,501.14 L377.50,501.14 L375.70,497.99 Z" fill="none" stroke="#17528e" stroke-width="0.55"/>
<text x="275.00" y="490.00" font-size="8.0" fill="#222" stroke="#222" stroke-width="0.16" text-anchor="middle" textLength="82" lengthAdjust="spacingAndGlyphs" transform="rotate(-90 275.00 490.00)">Absolute cell count hCD45+ cells</text>
<text x="285.00" y="490.00" font-size="8.0" fill="#222" stroke="#222" stroke-width="0.16" text-anchor="middle" textLength="48.5" lengthAdjust="spacingAndGlyphs" transform="rotate(-90 285.00 490.00)">in spleen (×10e6)</text>
<line x1="435.20" y1="448.20" x2="435.20" y2="531.30" stroke="#111" stroke-width="0.9"/>
<line x1="432.80" y1="531.30" x2="435.20" y2="531.30" stroke="#111" stroke-width="0.7"/>
<text x="429.20" y="533.30" font-size="5.8" fill="#222" stroke="#222" stroke-width="0.1" text-anchor="end">0</text>
<line x1="432.80" y1="515.18" x2="435.20" y2="515.18" stroke="#111" stroke-width="0.7"/>
<text x="429.20" y="517.18" font-size="5.8" fill="#222" stroke="#222" stroke-width="0.1" text-anchor="end">5</text>
<line x1="432.80" y1="499.06" x2="435.20" y2="499.06" stroke="#111" stroke-width="0.7"/>
<text x="429.20" y="501.06" font-size="5.8" fill="#222" stroke="#222" stroke-width="0.1" text-anchor="end">10</text>
<line x1="432.80" y1="482.94" x2="435.20" y2="482.94" stroke="#111" stroke-width="0.7"/>
<text x="429.20" y="484.94" font-size="5.8" fill="#222" stroke="#222" stroke-width="0.1" text-anchor="end">15</text>
<line x1="432.80" y1="466.82" x2="435.20" y2="466.82" stroke="#111" stroke-width="0.7"/>
<text x="429.20" y="468.82" font-size="5.8" fill="#222" stroke="#222" stroke-width="0.1" text-anchor="end">20</text>
<line x1="432.80" y1="450.70" x2="435.20" y2="450.70" stroke="#111" stroke-width="0.7"/>
<text x="429.20" y="452.70" font-size="5.8" fill="#222" stroke="#222" stroke-width="0.1" text-anchor="end">25</text>
<line x1="434.20" y1="531.30" x2="509.00" y2="531.30" stroke="#111" stroke-width="0.9"/>
<line x1="448.10" y1="531.30" x2="448.10" y2="533.50" stroke="#111" stroke-width="0.7"/>
<text x="448.10" y="542.00" font-size="6.1" fill="#222" stroke="#222" stroke-width="0.1" text-anchor="middle" textLength="18.4" lengthAdjust="spacingAndGlyphs">DMSO</text>
<line x1="474.80" y1="531.30" x2="474.80" y2="533.50" stroke="#111" stroke-width="0.7"/>
<text x="474.80" y="542.00" font-size="6.1" fill="#222" stroke="#222" stroke-width="0.1" text-anchor="middle" textLength="19.6" lengthAdjust="spacingAndGlyphs">MS452</text>
<line x1="499.80" y1="531.30" x2="499.80" y2="533.50" stroke="#111" stroke-width="0.7"/>
<text x="499.80" y="542.00" font-size="6.1" fill="#222" stroke="#222" stroke-width="0.1" text-anchor="middle" textLength="20.7" lengthAdjust="spacingAndGlyphs">BDA-41</text>
<text x="474.20" y="442.20" font-size="8.2" fill="#111" text-anchor="middle">AML9 Spleen</text>
<line x1="441.60" y1="497.45" x2="454.60" y2="497.45" stroke="#111111" stroke-width="1.15"/>
<circle cx="448.10" cy="456.50" r="1.75" fill="none" stroke="#111111" stroke-width="0.65"/>
<circle cx="448.10" cy="488.74" r="1.75" fill="#8a8a8a" stroke="#111111" stroke-width="0.65"/>
<circle cx="448.10" cy="491.32" r="1.75" fill="#8a8a8a" stroke="#111111" stroke-width="0.65"/>
<circle cx="448.10" cy="503.25" r="1.75" fill="none" stroke="#111111" stroke-width="0.65"/>
<circle cx="448.10" cy="516.79" r="1.75" fill="none" stroke="#111111" stroke-width="0.65"/>
<circle cx="448.10" cy="523.24" r="1.75" fill="#8a8a8a" stroke="#111111" stroke-width="0.65"/>
<line x1="468.30" y1="518.40" x2="481.30" y2="518.40" stroke="#c8102e" stroke-width="1.15"/>
<circle cx="474.80" cy="472.62" r="1.75" fill="none" stroke="#c8102e" stroke-width="0.65"/>
<circle cx="474.80" cy="514.21" r="1.75" fill="none" stroke="#c8102e" stroke-width="0.65"/>
<circle cx="470.80" cy="518.40" r="1.75" fill="none" stroke="#c8102e" stroke-width="0.65"/>
<circle cx="478.80" cy="518.40" r="1.75" fill="none" stroke="#c8102e" stroke-width="0.65"/>
<circle cx="479.80" cy="521.63" r="1.75" fill="none" stroke="#c8102e" stroke-width="0.65"/>
<circle cx="469.80" cy="523.24" r="1.75" fill="none" stroke="#c8102e" stroke-width="0.65"/>
<line x1="493.30" y1="524.85" x2="506.30" y2="524.85" stroke="#17528e" stroke-width="1.15"/>
<circle cx="499.80" cy="502.28" r="0.5" fill="#17528e" stroke="none" stroke-width="0.6"/>
<circle cx="499.80" cy="509.70" r="1.75" fill="none" stroke="#17528e" stroke-width="0.65"/>
<circle cx="499.80" cy="516.15" r="1.75" fill="none" stroke="#17528e" stroke-width="0.65"/>
<circle cx="499.80" cy="522.27" r="1.75" fill="none" stroke="#17528e" stroke-width="0.65"/>
<circle cx="494.80" cy="528.08" r="1.75" fill="none" stroke="#17528e" stroke-width="0.65"/>
<circle cx="499.80" cy="528.72" r="1.75" fill="none" stroke="#17528e" stroke-width="0.65"/>
<circle cx="504.80" cy="528.08" r="1.75" fill="none" stroke="#17528e" stroke-width="0.65"/>
<text x="406.80" y="490.00" font-size="8.0" fill="#222" stroke="#222" stroke-width="0.16" text-anchor="middle" textLength="82" lengthAdjust="spacingAndGlyphs" transform="rotate(-90 406.80 490.00)">Absolute cell count hCD45+ cells</text>
<text x="416.90" y="490.00" font-size="8.0" fill="#222" stroke="#222" stroke-width="0.16" text-anchor="middle" textLength="48.5" lengthAdjust="spacingAndGlyphs" transform="rotate(-90 416.90 490.00)">in spleen (×1000)</text>
<line x1="57.60" y1="568.10" x2="57.60" y2="651.50" stroke="#111" stroke-width="0.9"/>
<line x1="55.20" y1="651.50" x2="57.60" y2="651.50" stroke="#111" stroke-width="0.7"/>
<text x="51.60" y="653.50" font-size="5.8" fill="#222" stroke="#222" stroke-width="0.1" text-anchor="end">0</text>
<line x1="55.20" y1="631.38" x2="57.60" y2="631.38" stroke="#111" stroke-width="0.7"/>
<text x="51.60" y="633.38" font-size="5.8" fill="#222" stroke="#222" stroke-width="0.1" text-anchor="end">5</text>
<line x1="55.20" y1="611.25" x2="57.60" y2="611.25" stroke="#111" stroke-width="0.7"/>
<text x="51.60" y="613.25" font-size="5.8" fill="#222" stroke="#222" stroke-width="0.1" text-anchor="end">10</text>
<line x1="55.20" y1="591.12" x2="57.60" y2="591.12" stroke="#111" stroke-width="0.7"/>
<text x="51.60" y="593.12" font-size="5.8" fill="#222" stroke="#222" stroke-width="0.1" text-anchor="end">15</text>
<line x1="55.20" y1="571.00" x2="57.60" y2="571.00" stroke="#111" stroke-width="0.7"/>
<text x="51.60" y="573.00" font-size="5.8" fill="#222" stroke="#222" stroke-width="0.1" text-anchor="end">20</text>
<line x1="56.60" y1="651.50" x2="132.00" y2="651.50" stroke="#111" stroke-width="0.9"/>
<line x1="71.00" y1="651.50" x2="71.00" y2="653.70" stroke="#111" stroke-width="0.7"/>
<text x="71.00" y="663.00" font-size="6.1" fill="#222" stroke="#222" stroke-width="0.1" text-anchor="middle" textLength="18.4" lengthAdjust="spacingAndGlyphs">DMSO</text>
<line x1="97.00" y1="651.50" x2="97.00" y2="653.70" stroke="#111" stroke-width="0.7"/>
<text x="97.00" y="663.00" font-size="6.1" fill="#222" stroke="#222" stroke-width="0.1" text-anchor="middle" textLength="19.6" lengthAdjust="spacingAndGlyphs">MS452</text>
<line x1="122.00" y1="651.50" x2="122.00" y2="653.70" stroke="#111" stroke-width="0.7"/>
<text x="122.00" y="663.00" font-size="6.1" fill="#222" stroke="#222" stroke-width="0.1" text-anchor="middle" textLength="20.7" lengthAdjust="spacingAndGlyphs">BDA-41</text>
<text x="97.00" y="563.20" font-size="8.2" fill="#111" text-anchor="middle">AML4 BM</text>
<line x1="64.50" y1="606.42" x2="77.50" y2="606.42" stroke="#111111" stroke-width="1.15"/>
<path d="M69.40,595.08 L72.60,595.08 L71.00,597.80 Z" fill="#111111"/>
<circle cx="71.00" cy="606.42" r="1.25" fill="#111111" stroke="none" stroke-width="0.6"/>
<path d="M69.40,622.45 L72.60,622.45 L71.00,625.17 Z" fill="#111111"/>
<line x1="90.50" y1="609.24" x2="103.50" y2="609.24" stroke="#c8102e" stroke-width="1.15"/>
<path d="M95.40,595.88 L98.60,595.88 L97.00,598.60 Z" fill="#c8102e"/>
<circle cx="97.00" cy="609.24" r="1.25" fill="#c8102e" stroke="none" stroke-width="0.6"/>
<path d="M95.40,611.18 L98.60,611.18 L97.00,613.90 Z" fill="#c8102e"/>
<line x1="115.50" y1="625.74" x2="128.50" y2="625.74" stroke="#17528e" stroke-width="1.15"/>
<path d="M120.40,589.85 L123.60,589.85 L122.00,592.57 Z" fill="#17528e"/>
<circle cx="122.00" cy="625.74" r="1.25" fill="#17528e" stroke="none" stroke-width="0.6"/>
<path d="M120.40,628.89 L123.60,628.89 L122.00,631.61 Z" fill="#17528e"/>
<text x="29.70" y="610.00" font-size="8.0" fill="#222" stroke="#222" stroke-width="0.16" text-anchor="middle" textLength="90" lengthAdjust="spacingAndGlyphs" transform="rotate(-90 29.70 610.00)">Absolute cell count hCD45+ cells in</text>
<text x="39.50" y="610.00" font-size="8.0" fill="#222" stroke="#222" stroke-width="0.16" text-anchor="middle" textLength="90" lengthAdjust="spacingAndGlyphs" transform="rotate(-90 39.50 610.00)">the BM (1xFemur, 2xTibia) (×10e6)</text>
<line x1="180.40" y1="568.10" x2="180.40" y2="651.40" stroke="#111" stroke-width="0.9"/>
<line x1="178.00" y1="651.40" x2="180.40" y2="651.40" stroke="#111" stroke-width="0.7"/>
<text x="174.40" y="653.40" font-size="5.8" fill="#222" stroke="#222" stroke-width="0.1" text-anchor="end">0</text>
<line x1="178.00" y1="635.28" x2="180.40" y2="635.28" stroke="#111" stroke-width="0.7"/>
<text x="174.40" y="637.28" font-size="5.8" fill="#222" stroke="#222" stroke-width="0.1" text-anchor="end">5</text>
<line x1="178.00" y1="619.16" x2="180.40" y2="619.16" stroke="#111" stroke-width="0.7"/>
<text x="174.40" y="621.16" font-size="5.8" fill="#222" stroke="#222" stroke-width="0.1" text-anchor="end">10</text>
<line x1="178.00" y1="603.04" x2="180.40" y2="603.04" stroke="#111" stroke-width="0.7"/>
<text x="174.40" y="605.04" font-size="5.8" fill="#222" stroke="#222" stroke-width="0.1" text-anchor="end">15</text>
<line x1="178.00" y1="586.92" x2="180.40" y2="586.92" stroke="#111" stroke-width="0.7"/>
<text x="174.40" y="588.92" font-size="5.8" fill="#222" stroke="#222" stroke-width="0.1" text-anchor="end">20</text>
<line x1="178.00" y1="570.80" x2="180.40" y2="570.80" stroke="#111" stroke-width="0.7"/>
<text x="174.40" y="572.80" font-size="5.8" fill="#222" stroke="#222" stroke-width="0.1" text-anchor="end">25</text>
<line x1="179.40" y1="651.40" x2="254.00" y2="651.40" stroke="#111" stroke-width="0.9"/>
<line x1="193.20" y1="651.40" x2="193.20" y2="653.60" stroke="#111" stroke-width="0.7"/>
<text x="193.20" y="663.00" font-size="6.1" fill="#222" stroke="#222" stroke-width="0.1" text-anchor="middle" textLength="18.4" lengthAdjust="spacingAndGlyphs">DMSO</text>
<line x1="219.00" y1="651.40" x2="219.00" y2="653.60" stroke="#111" stroke-width="0.7"/>
<text x="219.00" y="663.00" font-size="6.1" fill="#222" stroke="#222" stroke-width="0.1" text-anchor="middle" textLength="19.6" lengthAdjust="spacingAndGlyphs">MS452</text>
<line x1="244.40" y1="651.40" x2="244.40" y2="653.60" stroke="#111" stroke-width="0.7"/>
<text x="244.40" y="663.00" font-size="6.1" fill="#222" stroke="#222" stroke-width="0.1" text-anchor="middle" textLength="20.7" lengthAdjust="spacingAndGlyphs">BDA-41</text>
<text x="219.60" y="562.60" font-size="8.2" fill="#111" text-anchor="middle">AML5 BM</text>
<line x1="186.70" y1="590.79" x2="199.70" y2="590.79" stroke="#111111" stroke-width="1.15"/>
<circle cx="193.20" cy="583.37" r="1.25" fill="#111111" stroke="none" stroke-width="0.6"/>
<circle cx="193.20" cy="590.79" r="1.25" fill="#111111" stroke="none" stroke-width="0.6"/>
<circle cx="193.20" cy="614.32" r="1.25" fill="#111111" stroke="none" stroke-width="0.6"/>
<line x1="212.50" y1="604.97" x2="225.50" y2="604.97" stroke="#c8102e" stroke-width="1.15"/>
<circle cx="219.00" cy="579.18" r="1.25" fill="#c8102e" stroke="none" stroke-width="0.6"/>
<circle cx="219.00" cy="604.97" r="1.25" fill="#c8102e" stroke="none" stroke-width="0.6"/>
<circle cx="219.00" cy="651.40" r="1.25" fill="#c8102e" stroke="none" stroke-width="0.6"/>
<line x1="237.90" y1="610.78" x2="250.90" y2="610.78" stroke="#17528e" stroke-width="1.15"/>
<circle cx="244.40" cy="603.36" r="1.25" fill="#17528e" stroke="none" stroke-width="0.6"/>
<circle cx="244.40" cy="610.78" r="1.25" fill="#17528e" stroke="none" stroke-width="0.6"/>
<circle cx="244.40" cy="640.12" r="1.25" fill="#17528e" stroke="none" stroke-width="0.6"/>
<text x="152.40" y="610.00" font-size="8.0" fill="#222" stroke="#222" stroke-width="0.16" text-anchor="middle" textLength="90" lengthAdjust="spacingAndGlyphs" transform="rotate(-90 152.40 610.00)">Absolute cell count hCD45+ cells in</text>
<text x="162.20" y="610.00" font-size="8.0" fill="#222" stroke="#222" stroke-width="0.16" text-anchor="middle" textLength="90" lengthAdjust="spacingAndGlyphs" transform="rotate(-90 162.20 610.00)">the BM (1xFemur, 2xTibia) (×10e6)</text>
<line x1="307.90" y1="568.70" x2="307.90" y2="651.60" stroke="#111" stroke-width="0.9"/>
<line x1="305.50" y1="651.60" x2="307.90" y2="651.60" stroke="#111" stroke-width="0.7"/>
<text x="301.90" y="653.60" font-size="5.8" fill="#222" stroke="#222" stroke-width="0.1" text-anchor="end">0</text>
<line x1="305.50" y1="639.00" x2="307.90" y2="639.00" stroke="#111" stroke-width="0.7"/>
<text x="301.90" y="641.00" font-size="5.8" fill="#222" stroke="#222" stroke-width="0.1" text-anchor="end">2.5</text>
<line x1="305.50" y1="626.40" x2="307.90" y2="626.40" stroke="#111" stroke-width="0.7"/>
<text x="301.90" y="628.40" font-size="5.8" fill="#222" stroke="#222" stroke-width="0.1" text-anchor="end">5.0</text>
<line x1="305.50" y1="613.80" x2="307.90" y2="613.80" stroke="#111" stroke-width="0.7"/>
<text x="301.90" y="615.80" font-size="5.8" fill="#222" stroke="#222" stroke-width="0.1" text-anchor="end">7.5</text>
<line x1="305.50" y1="601.20" x2="307.90" y2="601.20" stroke="#111" stroke-width="0.7"/>
<text x="301.90" y="603.20" font-size="5.8" fill="#222" stroke="#222" stroke-width="0.1" text-anchor="end">10</text>
<line x1="305.50" y1="588.60" x2="307.90" y2="588.60" stroke="#111" stroke-width="0.7"/>
<text x="301.90" y="590.60" font-size="5.8" fill="#222" stroke="#222" stroke-width="0.1" text-anchor="end">12.5</text>
<line x1="305.50" y1="576.00" x2="307.90" y2="576.00" stroke="#111" stroke-width="0.7"/>
<text x="301.90" y="578.00" font-size="5.8" fill="#222" stroke="#222" stroke-width="0.1" text-anchor="end">15</text>
<line x1="306.90" y1="651.60" x2="381.00" y2="651.60" stroke="#111" stroke-width="0.9"/>
<line x1="323.50" y1="651.60" x2="323.50" y2="653.80" stroke="#111" stroke-width="0.7"/>
<text x="323.50" y="663.00" font-size="6.1" fill="#222" stroke="#222" stroke-width="0.1" text-anchor="middle" textLength="18.4" lengthAdjust="spacingAndGlyphs">DMSO</text>
<line x1="347.50" y1="651.60" x2="347.50" y2="653.80" stroke="#111" stroke-width="0.7"/>
<text x="347.50" y="663.00" font-size="6.1" fill="#222" stroke="#222" stroke-width="0.1" text-anchor="middle" textLength="19.6" lengthAdjust="spacingAndGlyphs">MS452</text>
<line x1="371.20" y1="651.60" x2="371.20" y2="653.80" stroke="#111" stroke-width="0.7"/>
<text x="371.20" y="663.00" font-size="6.1" fill="#222" stroke="#222" stroke-width="0.1" text-anchor="middle" textLength="20.7" lengthAdjust="spacingAndGlyphs">BDA-41</text>
<text x="348.30" y="562.60" font-size="8.2" fill="#111" text-anchor="middle">AML8 BM</text>
<line x1="317.00" y1="596.16" x2="330.00" y2="596.16" stroke="#111111" stroke-width="1.15"/>
<path d="M317.70,596.09 L321.30,596.09 L319.50,592.94 Z" fill="none" stroke="#111111" stroke-width="0.55"/>
<path d="M325.70,598.10 L329.30,598.10 L327.50,594.95 Z" fill="none" stroke="#111111" stroke-width="0.55"/>
<path d="M321.70,616.75 L325.30,616.75 L323.50,613.60 Z" fill="none" stroke="#111111" stroke-width="0.55"/>
<line x1="341.00" y1="606.74" x2="354.00" y2="606.74" stroke="#c8102e" stroke-width="1.15"/>
<path d="M345.70,574.42 L349.30,574.42 L347.50,571.27 Z" fill="none" stroke="#c8102e" stroke-width="0.55"/>
<path d="M341.70,609.19 L345.30,609.19 L343.50,606.04 Z" fill="none" stroke="#c8102e" stroke-width="0.55"/>
<path d="M349.70,608.18 L353.30,608.18 L351.50,605.03 Z" fill="none" stroke="#c8102e" stroke-width="0.55"/>
<line x1="364.70" y1="609.77" x2="377.70" y2="609.77" stroke="#17528e" stroke-width="1.15"/>
<path d="M369.40,606.17 L373.00,606.17 L371.20,603.02 Z" fill="none" stroke="#17528e" stroke-width="0.55"/>
<path d="M369.40,611.21 L373.00,611.21 L371.20,608.06 Z" fill="none" stroke="#17528e" stroke-width="0.55"/>
<path d="M369.40,628.85 L373.00,628.85 L371.20,625.70 Z" fill="none" stroke="#17528e" stroke-width="0.55"/>
<text x="275.40" y="610.00" font-size="8.0" fill="#222" stroke="#222" stroke-width="0.16" text-anchor="middle" textLength="90" lengthAdjust="spacingAndGlyphs" transform="rotate(-90 275.40 610.00)">Absolute cell count hCD45+ cells in</text>
<text x="284.90" y="610.00" font-size="8.0" fill="#222" stroke="#222" stroke-width="0.16" text-anchor="middle" textLength="90" lengthAdjust="spacingAndGlyphs" transform="rotate(-90 284.90 610.00)">the BM (1xFemur, 2xTibia) (×10e6)</text>
<line x1="435.20" y1="568.10" x2="435.20" y2="651.40" stroke="#111" stroke-width="0.9"/>
<line x1="432.80" y1="651.40" x2="435.20" y2="651.40" stroke="#111" stroke-width="0.7"/>
<text x="429.20" y="653.40" font-size="5.8" fill="#222" stroke="#222" stroke-width="0.1" text-anchor="end">0</text>
<line x1="432.80" y1="635.24" x2="435.20" y2="635.24" stroke="#111" stroke-width="0.7"/>
<text x="429.20" y="637.24" font-size="5.8" fill="#222" stroke="#222" stroke-width="0.1" text-anchor="end">50</text>
<line x1="432.80" y1="619.08" x2="435.20" y2="619.08" stroke="#111" stroke-width="0.7"/>
<text x="429.20" y="621.08" font-size="5.8" fill="#222" stroke="#222" stroke-width="0.1" text-anchor="end">100</text>
<line x1="432.80" y1="602.92" x2="435.20" y2="602.92" stroke="#111" stroke-width="0.7"/>
<text x="429.20" y="604.92" font-size="5.8" fill="#222" stroke="#222" stroke-width="0.1" text-anchor="end">150</text>
<line x1="432.80" y1="586.76" x2="435.20" y2="586.76" stroke="#111" stroke-width="0.7"/>
<text x="429.20" y="588.76" font-size="5.8" fill="#222" stroke="#222" stroke-width="0.1" text-anchor="end">200</text>
<line x1="432.80" y1="570.60" x2="435.20" y2="570.60" stroke="#111" stroke-width="0.7"/>
<text x="429.20" y="572.60" font-size="5.8" fill="#222" stroke="#222" stroke-width="0.1" text-anchor="end">250</text>
<line x1="434.20" y1="651.40" x2="509.00" y2="651.40" stroke="#111" stroke-width="0.9"/>
<line x1="448.10" y1="651.40" x2="448.10" y2="653.60" stroke="#111" stroke-width="0.7"/>
<text x="448.10" y="663.00" font-size="6.1" fill="#222" stroke="#222" stroke-width="0.1" text-anchor="middle" textLength="18.4" lengthAdjust="spacingAndGlyphs">DMSO</text>
<line x1="471.50" y1="651.40" x2="471.50" y2="653.60" stroke="#111" stroke-width="0.7"/>
<text x="471.50" y="663.00" font-size="6.1" fill="#222" stroke="#222" stroke-width="0.1" text-anchor="middle" textLength="19.6" lengthAdjust="spacingAndGlyphs">MS452</text>
<line x1="499.80" y1="651.40" x2="499.80" y2="653.60" stroke="#111" stroke-width="0.7"/>
<text x="499.80" y="663.00" font-size="6.1" fill="#222" stroke="#222" stroke-width="0.1" text-anchor="middle" textLength="20.7" lengthAdjust="spacingAndGlyphs">BDA-41</text>
<text x="474.20" y="562.60" font-size="8.2" fill="#111" text-anchor="middle">AML9 BM</text>
<line x1="441.60" y1="610.35" x2="454.60" y2="610.35" stroke="#111111" stroke-width="1.15"/>
<circle cx="448.10" cy="580.30" r="1.75" fill="none" stroke="#111111" stroke-width="0.65"/>
<circle cx="448.10" cy="599.69" r="1.75" fill="#8a8a8a" stroke="#111111" stroke-width="0.65"/>
<circle cx="448.10" cy="604.54" r="1.75" fill="#8a8a8a" stroke="#111111" stroke-width="0.65"/>
<circle cx="448.10" cy="615.20" r="1.75" fill="none" stroke="#111111" stroke-width="0.65"/>
<circle cx="443.10" cy="641.70" r="1.75" fill="#8a8a8a" stroke="#111111" stroke-width="0.65"/>
<circle cx="453.10" cy="641.06" r="1.75" fill="none" stroke="#111111" stroke-width="0.65"/>
<line x1="465.00" y1="638.47" x2="478.00" y2="638.47" stroke="#c8102e" stroke-width="1.15"/>
<circle cx="471.50" cy="621.34" r="0.5" fill="#c8102e" stroke="none" stroke-width="0.6"/>
<circle cx="471.50" cy="631.04" r="1.75" fill="none" stroke="#c8102e" stroke-width="0.65"/>
<circle cx="471.50" cy="636.86" r="1.75" fill="none" stroke="#c8102e" stroke-width="0.65"/>
<circle cx="466.50" cy="638.47" r="1.75" fill="none" stroke="#c8102e" stroke-width="0.65"/>
<circle cx="476.50" cy="638.47" r="1.75" fill="none" stroke="#c8102e" stroke-width="0.65"/>
<circle cx="471.50" cy="642.35" r="1.75" fill="none" stroke="#c8102e" stroke-width="0.65"/>
<circle cx="471.50" cy="645.58" r="1.75" fill="none" stroke="#c8102e" stroke-width="0.65"/>
<line x1="493.30" y1="644.29" x2="506.30" y2="644.29" stroke="#17528e" stroke-width="1.15"/>
<circle cx="499.80" cy="601.30" r="1.75" fill="none" stroke="#17528e" stroke-width="0.65"/>
<circle cx="499.80" cy="622.96" r="1.75" fill="none" stroke="#17528e" stroke-width="0.65"/>
<circle cx="499.80" cy="642.35" r="1.75" fill="none" stroke="#17528e" stroke-width="0.65"/>
<circle cx="496.80" cy="646.55" r="1.75" fill="none" stroke="#17528e" stroke-width="0.65"/>
<circle cx="494.80" cy="649.78" r="1.75" fill="none" stroke="#17528e" stroke-width="0.65"/>
<circle cx="504.80" cy="649.78" r="1.75" fill="none" stroke="#17528e" stroke-width="0.65"/>
<text x="403.00" y="610.00" font-size="8.0" fill="#222" stroke="#222" stroke-width="0.16" text-anchor="middle" textLength="90" lengthAdjust="spacingAndGlyphs" transform="rotate(-90 403.00 610.00)">Absolute cell count hCD45+ cells in</text>
<text x="412.80" y="610.00" font-size="8.0" fill="#222" stroke="#222" stroke-width="0.16" text-anchor="middle" textLength="90" lengthAdjust="spacingAndGlyphs" transform="rotate(-90 412.80 610.00)">the BM (1xFemur, 2xTibia) (×1000)</text>
<rect x="0.5" y="0.5" width="519" height="670" fill="none" stroke="#5f5f5f" stroke-width="1"/></svg>
</body></html>
